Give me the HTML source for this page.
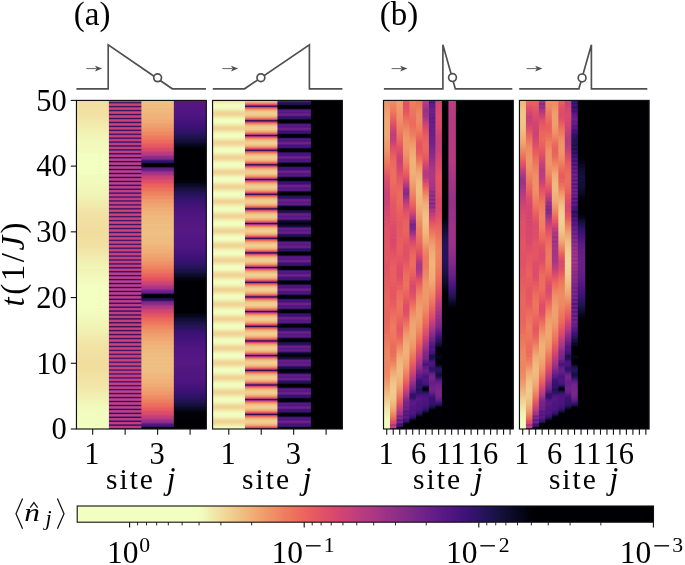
<!DOCTYPE html>
<html><head><meta charset="utf-8"><style>html,body{margin:0;padding:0;background:#fff;}svg{display:block;will-change:transform;}</style></head>
<body><svg width="685" height="565" viewBox="0 0 685 565">
<defs><linearGradient id="g1" x1="0" y1="0" x2="0" y2="1"><stop offset="0.0000" stop-color="#f1dd9f"/><stop offset="0.0479" stop-color="#f1e3a4"/><stop offset="0.1149" stop-color="#f1f7b9"/><stop offset="0.1575" stop-color="#f2fbbd"/><stop offset="0.1621" stop-color="#f2ffc1"/><stop offset="0.2230" stop-color="#f2ffc1"/><stop offset="0.2291" stop-color="#f2fbbd"/><stop offset="0.2823" stop-color="#f1f5b7"/><stop offset="0.3493" stop-color="#f1e1a3"/><stop offset="0.3965" stop-color="#f1dd9e"/><stop offset="0.4422" stop-color="#f1e1a2"/><stop offset="0.5091" stop-color="#f1f5b7"/><stop offset="0.5152" stop-color="#f1f3b5"/><stop offset="0.5685" stop-color="#f2ffc1"/><stop offset="0.6294" stop-color="#f2ffc1"/><stop offset="0.7024" stop-color="#f1f1b2"/><stop offset="0.7435" stop-color="#f1e3a4"/><stop offset="0.8029" stop-color="#f1dd9e"/><stop offset="0.8623" stop-color="#f1e5a6"/><stop offset="0.9399" stop-color="#f1fbbd"/><stop offset="1.0000" stop-color="#f2ffc1"/></linearGradient><linearGradient id="g2" x1="0" y1="0" x2="0" y2="1"><stop offset="0.0000" stop-color="#d04473"/><stop offset="0.0023" stop-color="#cc4276"/><stop offset="0.0038" stop-color="#b63a81"/><stop offset="0.0053" stop-color="#822987"/><stop offset="0.0068" stop-color="#281258"/><stop offset="0.0084" stop-color="#641e83"/><stop offset="0.0099" stop-color="#a73684"/><stop offset="0.0114" stop-color="#c74079"/><stop offset="0.0129" stop-color="#d04473"/><stop offset="0.0145" stop-color="#ca4177"/><stop offset="0.0160" stop-color="#b03982"/><stop offset="0.0175" stop-color="#762486"/><stop offset="0.0190" stop-color="#221150"/><stop offset="0.0205" stop-color="#6b2184"/><stop offset="0.0221" stop-color="#ae3883"/><stop offset="0.0236" stop-color="#c94177"/><stop offset="0.0251" stop-color="#d04473"/><stop offset="0.0266" stop-color="#c84178"/><stop offset="0.0282" stop-color="#ac3783"/><stop offset="0.0297" stop-color="#682083"/><stop offset="0.0312" stop-color="#20114d"/><stop offset="0.0327" stop-color="#782586"/><stop offset="0.0342" stop-color="#b33981"/><stop offset="0.0358" stop-color="#cb4276"/><stop offset="0.0373" stop-color="#d04473"/><stop offset="0.0388" stop-color="#c54079"/><stop offset="0.0403" stop-color="#a53585"/><stop offset="0.0419" stop-color="#581c7b"/><stop offset="0.0434" stop-color="#24104f"/><stop offset="0.0449" stop-color="#822987"/><stop offset="0.0464" stop-color="#b63a81"/><stop offset="0.0479" stop-color="#cb4276"/><stop offset="0.0495" stop-color="#cf4474"/><stop offset="0.0510" stop-color="#c23f7b"/><stop offset="0.0525" stop-color="#9d3286"/><stop offset="0.0540" stop-color="#4e1976"/><stop offset="0.0556" stop-color="#2a1153"/><stop offset="0.0571" stop-color="#8c2c87"/><stop offset="0.0586" stop-color="#ba3c7f"/><stop offset="0.0601" stop-color="#cc4375"/><stop offset="0.0616" stop-color="#cd4375"/><stop offset="0.0632" stop-color="#be3d7d"/><stop offset="0.0647" stop-color="#942f87"/><stop offset="0.0662" stop-color="#3b1465"/><stop offset="0.0677" stop-color="#35135d"/><stop offset="0.0693" stop-color="#942f87"/><stop offset="0.0708" stop-color="#be3d7d"/><stop offset="0.0723" stop-color="#cd4375"/><stop offset="0.0738" stop-color="#cd4375"/><stop offset="0.0753" stop-color="#ba3c7f"/><stop offset="0.0769" stop-color="#892b87"/><stop offset="0.0784" stop-color="#280f4f"/><stop offset="0.0799" stop-color="#431669"/><stop offset="0.0814" stop-color="#993187"/><stop offset="0.0830" stop-color="#bf3d7d"/><stop offset="0.0845" stop-color="#ce4375"/><stop offset="0.0860" stop-color="#ca4277"/><stop offset="0.0875" stop-color="#b53a81"/><stop offset="0.0890" stop-color="#7d2787"/><stop offset="0.0906" stop-color="#170a37"/><stop offset="0.0921" stop-color="#531b76"/><stop offset="0.0936" stop-color="#a13486"/><stop offset="0.0951" stop-color="#c23e7b"/><stop offset="0.0967" stop-color="#ce4375"/><stop offset="0.0982" stop-color="#c84178"/><stop offset="0.0997" stop-color="#af3883"/><stop offset="0.1012" stop-color="#752487"/><stop offset="0.1027" stop-color="#130a2f"/><stop offset="0.1043" stop-color="#631f80"/><stop offset="0.1058" stop-color="#a73685"/><stop offset="0.1073" stop-color="#c53f7a"/><stop offset="0.1088" stop-color="#cd4375"/><stop offset="0.1104" stop-color="#c64079"/><stop offset="0.1119" stop-color="#a73684"/><stop offset="0.1134" stop-color="#651f83"/><stop offset="0.1149" stop-color="#0e0926"/><stop offset="0.1164" stop-color="#6c2185"/><stop offset="0.1180" stop-color="#aa3784"/><stop offset="0.1195" stop-color="#c64079"/><stop offset="0.1210" stop-color="#cd4375"/><stop offset="0.1225" stop-color="#c23f7b"/><stop offset="0.1240" stop-color="#9f3386"/><stop offset="0.1256" stop-color="#511a76"/><stop offset="0.1271" stop-color="#12082b"/><stop offset="0.1286" stop-color="#792587"/><stop offset="0.1301" stop-color="#b03882"/><stop offset="0.1317" stop-color="#c84178"/><stop offset="0.1332" stop-color="#cc4276"/><stop offset="0.1347" stop-color="#be3d7d"/><stop offset="0.1362" stop-color="#9a3187"/><stop offset="0.1377" stop-color="#421564"/><stop offset="0.1393" stop-color="#1e0a3a"/><stop offset="0.1408" stop-color="#842a88"/><stop offset="0.1423" stop-color="#b53a81"/><stop offset="0.1438" stop-color="#c94178"/><stop offset="0.1454" stop-color="#cb4277"/><stop offset="0.1469" stop-color="#ba3c7f"/><stop offset="0.1484" stop-color="#902e87"/><stop offset="0.1499" stop-color="#2e0f4e"/><stop offset="0.1514" stop-color="#2d0f4c"/><stop offset="0.1530" stop-color="#8f2e87"/><stop offset="0.1545" stop-color="#b93b7f"/><stop offset="0.1560" stop-color="#ca4177"/><stop offset="0.1575" stop-color="#c94177"/><stop offset="0.1591" stop-color="#b43a81"/><stop offset="0.1606" stop-color="#842a88"/><stop offset="0.1621" stop-color="#1d0a37"/><stop offset="0.1636" stop-color="#36125a"/><stop offset="0.1651" stop-color="#942f87"/><stop offset="0.1667" stop-color="#bd3d7e"/><stop offset="0.1682" stop-color="#cb4277"/><stop offset="0.1697" stop-color="#c74079"/><stop offset="0.1712" stop-color="#b13982"/><stop offset="0.1728" stop-color="#7b2687"/><stop offset="0.1743" stop-color="#0f0622"/><stop offset="0.1758" stop-color="#4b1871"/><stop offset="0.1773" stop-color="#9d3286"/><stop offset="0.1788" stop-color="#c03e7c"/><stop offset="0.1804" stop-color="#cb4276"/><stop offset="0.1819" stop-color="#c53f7a"/><stop offset="0.1834" stop-color="#ab3784"/><stop offset="0.1849" stop-color="#6c2184"/><stop offset="0.1865" stop-color="#080517"/><stop offset="0.1880" stop-color="#5f1d80"/><stop offset="0.1895" stop-color="#a53585"/><stop offset="0.1910" stop-color="#c33f7b"/><stop offset="0.1925" stop-color="#cb4276"/><stop offset="0.1941" stop-color="#c23e7b"/><stop offset="0.1956" stop-color="#a33485"/><stop offset="0.1971" stop-color="#591c7a"/><stop offset="0.1986" stop-color="#050310"/><stop offset="0.2002" stop-color="#682082"/><stop offset="0.2017" stop-color="#ac3783"/><stop offset="0.2032" stop-color="#c5407a"/><stop offset="0.2047" stop-color="#cb4276"/><stop offset="0.2062" stop-color="#be3d7d"/><stop offset="0.2078" stop-color="#9b3286"/><stop offset="0.2093" stop-color="#441666"/><stop offset="0.2108" stop-color="#0e0623"/><stop offset="0.2123" stop-color="#782587"/><stop offset="0.2139" stop-color="#b23982"/><stop offset="0.2154" stop-color="#c74079"/><stop offset="0.2169" stop-color="#ca4277"/><stop offset="0.2184" stop-color="#bc3d7e"/><stop offset="0.2199" stop-color="#963087"/><stop offset="0.2215" stop-color="#321052"/><stop offset="0.2230" stop-color="#1d0a39"/><stop offset="0.2245" stop-color="#862a87"/><stop offset="0.2260" stop-color="#b63a81"/><stop offset="0.2275" stop-color="#c94178"/><stop offset="0.2291" stop-color="#c94177"/><stop offset="0.2306" stop-color="#b83b80"/><stop offset="0.2321" stop-color="#8c2c87"/><stop offset="0.2336" stop-color="#270d47"/><stop offset="0.2352" stop-color="#2a0e49"/><stop offset="0.2367" stop-color="#912e87"/><stop offset="0.2382" stop-color="#bb3c7f"/><stop offset="0.2397" stop-color="#ca4277"/><stop offset="0.2412" stop-color="#c84178"/><stop offset="0.2428" stop-color="#b43a81"/><stop offset="0.2443" stop-color="#812887"/><stop offset="0.2458" stop-color="#170932"/><stop offset="0.2473" stop-color="#3d1460"/><stop offset="0.2489" stop-color="#9b3286"/><stop offset="0.2504" stop-color="#bf3d7d"/><stop offset="0.2519" stop-color="#cb4276"/><stop offset="0.2534" stop-color="#c74078"/><stop offset="0.2549" stop-color="#b03982"/><stop offset="0.2565" stop-color="#742486"/><stop offset="0.2580" stop-color="#0c061f"/><stop offset="0.2595" stop-color="#531b76"/><stop offset="0.2610" stop-color="#a13486"/><stop offset="0.2626" stop-color="#c13e7b"/><stop offset="0.2641" stop-color="#cc4275"/><stop offset="0.2656" stop-color="#c64079"/><stop offset="0.2671" stop-color="#ab3784"/><stop offset="0.2686" stop-color="#662081"/><stop offset="0.2702" stop-color="#09071c"/><stop offset="0.2717" stop-color="#672082"/><stop offset="0.2732" stop-color="#a93684"/><stop offset="0.2747" stop-color="#c64079"/><stop offset="0.2763" stop-color="#cd4375"/><stop offset="0.2778" stop-color="#c43f7a"/><stop offset="0.2793" stop-color="#a53585"/><stop offset="0.2808" stop-color="#5f1d80"/><stop offset="0.2823" stop-color="#11092c"/><stop offset="0.2839" stop-color="#772586"/><stop offset="0.2854" stop-color="#b03982"/><stop offset="0.2869" stop-color="#c84178"/><stop offset="0.2884" stop-color="#cd4375"/><stop offset="0.2900" stop-color="#c23f7b"/><stop offset="0.2915" stop-color="#9e3386"/><stop offset="0.2930" stop-color="#4e1975"/><stop offset="0.2945" stop-color="#1c0b3b"/><stop offset="0.2960" stop-color="#852a87"/><stop offset="0.2976" stop-color="#b63a80"/><stop offset="0.2991" stop-color="#cb4276"/><stop offset="0.3006" stop-color="#cd4375"/><stop offset="0.3021" stop-color="#bf3e7d"/><stop offset="0.3037" stop-color="#963087"/><stop offset="0.3052" stop-color="#3e1567"/><stop offset="0.3067" stop-color="#2c1050"/><stop offset="0.3082" stop-color="#8c2d88"/><stop offset="0.3097" stop-color="#ba3c7f"/><stop offset="0.3113" stop-color="#cc4375"/><stop offset="0.3128" stop-color="#cd4375"/><stop offset="0.3143" stop-color="#bc3c7e"/><stop offset="0.3158" stop-color="#922f87"/><stop offset="0.3174" stop-color="#37135e"/><stop offset="0.3189" stop-color="#3e1565"/><stop offset="0.3204" stop-color="#963087"/><stop offset="0.3219" stop-color="#be3d7d"/><stop offset="0.3234" stop-color="#ce4374"/><stop offset="0.3250" stop-color="#cc4276"/><stop offset="0.3265" stop-color="#b83b80"/><stop offset="0.3280" stop-color="#892c88"/><stop offset="0.3295" stop-color="#2b1154"/><stop offset="0.3311" stop-color="#511a77"/><stop offset="0.3326" stop-color="#9f3386"/><stop offset="0.3341" stop-color="#c23f7b"/><stop offset="0.3356" stop-color="#cf4474"/><stop offset="0.3371" stop-color="#cb4276"/><stop offset="0.3387" stop-color="#b33a81"/><stop offset="0.3402" stop-color="#7f2887"/><stop offset="0.3417" stop-color="#24104f"/><stop offset="0.3432" stop-color="#5d1c80"/><stop offset="0.3447" stop-color="#a43585"/><stop offset="0.3463" stop-color="#c64079"/><stop offset="0.3478" stop-color="#d04473"/><stop offset="0.3493" stop-color="#ca4177"/><stop offset="0.3508" stop-color="#b13982"/><stop offset="0.3524" stop-color="#792587"/><stop offset="0.3539" stop-color="#22114f"/><stop offset="0.3554" stop-color="#6d2185"/><stop offset="0.3569" stop-color="#ab3783"/><stop offset="0.3584" stop-color="#c94178"/><stop offset="0.3600" stop-color="#d04473"/><stop offset="0.3615" stop-color="#c84178"/><stop offset="0.3630" stop-color="#ac3784"/><stop offset="0.3645" stop-color="#6d2184"/><stop offset="0.3661" stop-color="#251153"/><stop offset="0.3676" stop-color="#7a2687"/><stop offset="0.3691" stop-color="#b23982"/><stop offset="0.3706" stop-color="#cb4276"/><stop offset="0.3721" stop-color="#d04473"/><stop offset="0.3737" stop-color="#c54079"/><stop offset="0.3752" stop-color="#a63585"/><stop offset="0.3767" stop-color="#5f1d80"/><stop offset="0.3782" stop-color="#261154"/><stop offset="0.3798" stop-color="#802887"/><stop offset="0.3813" stop-color="#b73b80"/><stop offset="0.3828" stop-color="#cd4375"/><stop offset="0.3843" stop-color="#d04473"/><stop offset="0.3858" stop-color="#c23f7b"/><stop offset="0.3874" stop-color="#9f3386"/><stop offset="0.3889" stop-color="#511a77"/><stop offset="0.3904" stop-color="#31135f"/><stop offset="0.3919" stop-color="#8b2c87"/><stop offset="0.3935" stop-color="#bc3c7e"/><stop offset="0.3950" stop-color="#ce4374"/><stop offset="0.3965" stop-color="#cf4474"/><stop offset="0.3980" stop-color="#c13e7c"/><stop offset="0.3995" stop-color="#9a3186"/><stop offset="0.4011" stop-color="#42176c"/><stop offset="0.4026" stop-color="#3e166b"/><stop offset="0.4041" stop-color="#942f87"/><stop offset="0.4056" stop-color="#be3d7d"/><stop offset="0.4072" stop-color="#cf4474"/><stop offset="0.4087" stop-color="#ce4374"/><stop offset="0.4102" stop-color="#bd3d7e"/><stop offset="0.4117" stop-color="#912e87"/><stop offset="0.4132" stop-color="#341460"/><stop offset="0.4148" stop-color="#4d1977"/><stop offset="0.4163" stop-color="#9c3286"/><stop offset="0.4178" stop-color="#c23e7b"/><stop offset="0.4193" stop-color="#cf4474"/><stop offset="0.4209" stop-color="#cc4375"/><stop offset="0.4224" stop-color="#b83b80"/><stop offset="0.4239" stop-color="#872a87"/><stop offset="0.4254" stop-color="#2b1258"/><stop offset="0.4269" stop-color="#551b79"/><stop offset="0.4285" stop-color="#a43485"/><stop offset="0.4300" stop-color="#c5407a"/><stop offset="0.4315" stop-color="#d04473"/><stop offset="0.4330" stop-color="#cc4276"/><stop offset="0.4346" stop-color="#b53a81"/><stop offset="0.4361" stop-color="#7b2687"/><stop offset="0.4376" stop-color="#21114d"/><stop offset="0.4391" stop-color="#631e81"/><stop offset="0.4406" stop-color="#aa3784"/><stop offset="0.4422" stop-color="#c84178"/><stop offset="0.4437" stop-color="#d04473"/><stop offset="0.4452" stop-color="#c94177"/><stop offset="0.4467" stop-color="#af3883"/><stop offset="0.4482" stop-color="#6e2185"/><stop offset="0.4498" stop-color="#1c1046"/><stop offset="0.4513" stop-color="#702285"/><stop offset="0.4528" stop-color="#ad3883"/><stop offset="0.4543" stop-color="#c84178"/><stop offset="0.4559" stop-color="#cf4474"/><stop offset="0.4574" stop-color="#c64079"/><stop offset="0.4589" stop-color="#a83684"/><stop offset="0.4604" stop-color="#661f83"/><stop offset="0.4619" stop-color="#1e0f47"/><stop offset="0.4635" stop-color="#7c2687"/><stop offset="0.4650" stop-color="#b33982"/><stop offset="0.4665" stop-color="#ca4277"/><stop offset="0.4680" stop-color="#cf4474"/><stop offset="0.4696" stop-color="#c43f7a"/><stop offset="0.4711" stop-color="#a03386"/><stop offset="0.4726" stop-color="#531a7a"/><stop offset="0.4741" stop-color="#220e48"/><stop offset="0.4756" stop-color="#862a87"/><stop offset="0.4772" stop-color="#b73b80"/><stop offset="0.4787" stop-color="#cb4276"/><stop offset="0.4802" stop-color="#ce4375"/><stop offset="0.4817" stop-color="#c03e7c"/><stop offset="0.4833" stop-color="#973087"/><stop offset="0.4848" stop-color="#3f1568"/><stop offset="0.4863" stop-color="#2b0f50"/><stop offset="0.4878" stop-color="#8c2c88"/><stop offset="0.4893" stop-color="#b93b7f"/><stop offset="0.4909" stop-color="#cc4276"/><stop offset="0.4924" stop-color="#cd4375"/><stop offset="0.4939" stop-color="#bc3c7e"/><stop offset="0.4954" stop-color="#912e87"/><stop offset="0.4970" stop-color="#321156"/><stop offset="0.4985" stop-color="#39135d"/><stop offset="0.5000" stop-color="#942f87"/><stop offset="0.5015" stop-color="#bd3d7e"/><stop offset="0.5030" stop-color="#cd4375"/><stop offset="0.5046" stop-color="#ca4277"/><stop offset="0.5061" stop-color="#b63a80"/><stop offset="0.5076" stop-color="#862a88"/><stop offset="0.5091" stop-color="#210c3e"/><stop offset="0.5107" stop-color="#49186d"/><stop offset="0.5122" stop-color="#9c3286"/><stop offset="0.5137" stop-color="#c03e7c"/><stop offset="0.5152" stop-color="#cd4375"/><stop offset="0.5167" stop-color="#c94178"/><stop offset="0.5183" stop-color="#b03882"/><stop offset="0.5198" stop-color="#792587"/><stop offset="0.5213" stop-color="#13082c"/><stop offset="0.5228" stop-color="#531b79"/><stop offset="0.5244" stop-color="#a03386"/><stop offset="0.5259" stop-color="#c33f7b"/><stop offset="0.5274" stop-color="#cd4375"/><stop offset="0.5289" stop-color="#c64079"/><stop offset="0.5304" stop-color="#a93684"/><stop offset="0.5320" stop-color="#692084"/><stop offset="0.5335" stop-color="#0c0720"/><stop offset="0.5350" stop-color="#641f82"/><stop offset="0.5365" stop-color="#a73685"/><stop offset="0.5381" stop-color="#c5407a"/><stop offset="0.5396" stop-color="#cc4276"/><stop offset="0.5411" stop-color="#c33f7b"/><stop offset="0.5426" stop-color="#a43585"/><stop offset="0.5441" stop-color="#5c1d7c"/><stop offset="0.5457" stop-color="#0e0722"/><stop offset="0.5472" stop-color="#732386"/><stop offset="0.5487" stop-color="#ad3883"/><stop offset="0.5502" stop-color="#c64079"/><stop offset="0.5518" stop-color="#cb4276"/><stop offset="0.5533" stop-color="#bf3d7d"/><stop offset="0.5548" stop-color="#9c3286"/><stop offset="0.5563" stop-color="#461768"/><stop offset="0.5578" stop-color="#100725"/><stop offset="0.5594" stop-color="#7a2687"/><stop offset="0.5609" stop-color="#b33982"/><stop offset="0.5624" stop-color="#c84178"/><stop offset="0.5639" stop-color="#cb4277"/><stop offset="0.5654" stop-color="#bb3c7f"/><stop offset="0.5670" stop-color="#922f87"/><stop offset="0.5685" stop-color="#321052"/><stop offset="0.5700" stop-color="#1e0b3a"/><stop offset="0.5715" stop-color="#862a87"/><stop offset="0.5731" stop-color="#b73b80"/><stop offset="0.5746" stop-color="#c94177"/><stop offset="0.5761" stop-color="#c94177"/><stop offset="0.5776" stop-color="#b83b80"/><stop offset="0.5791" stop-color="#8b2c87"/><stop offset="0.5807" stop-color="#200b3c"/><stop offset="0.5822" stop-color="#2f1051"/><stop offset="0.5837" stop-color="#902e87"/><stop offset="0.5852" stop-color="#ba3c7f"/><stop offset="0.5868" stop-color="#ca4177"/><stop offset="0.5883" stop-color="#c74078"/><stop offset="0.5898" stop-color="#b33982"/><stop offset="0.5913" stop-color="#7e2787"/><stop offset="0.5928" stop-color="#120727"/><stop offset="0.5944" stop-color="#431669"/><stop offset="0.5959" stop-color="#9a3186"/><stop offset="0.5974" stop-color="#be3d7d"/><stop offset="0.5989" stop-color="#cb4277"/><stop offset="0.6005" stop-color="#c5407a"/><stop offset="0.6020" stop-color="#ac3784"/><stop offset="0.6035" stop-color="#702285"/><stop offset="0.6050" stop-color="#080517"/><stop offset="0.6065" stop-color="#501a72"/><stop offset="0.6081" stop-color="#a33485"/><stop offset="0.6096" stop-color="#c23e7b"/><stop offset="0.6111" stop-color="#cb4276"/><stop offset="0.6126" stop-color="#c43f7a"/><stop offset="0.6142" stop-color="#a83684"/><stop offset="0.6157" stop-color="#5f1e7e"/><stop offset="0.6172" stop-color="#040310"/><stop offset="0.6187" stop-color="#641f80"/><stop offset="0.6202" stop-color="#aa3784"/><stop offset="0.6218" stop-color="#c53f7a"/><stop offset="0.6233" stop-color="#cb4276"/><stop offset="0.6248" stop-color="#c13e7c"/><stop offset="0.6263" stop-color="#a13486"/><stop offset="0.6279" stop-color="#4b186e"/><stop offset="0.6294" stop-color="#0c061e"/><stop offset="0.6309" stop-color="#752486"/><stop offset="0.6324" stop-color="#af3883"/><stop offset="0.6339" stop-color="#c64079"/><stop offset="0.6355" stop-color="#cb4276"/><stop offset="0.6370" stop-color="#be3d7d"/><stop offset="0.6385" stop-color="#993187"/><stop offset="0.6400" stop-color="#411567"/><stop offset="0.6416" stop-color="#17082f"/><stop offset="0.6431" stop-color="#832987"/><stop offset="0.6446" stop-color="#b53a81"/><stop offset="0.6461" stop-color="#c94178"/><stop offset="0.6476" stop-color="#ca4277"/><stop offset="0.6492" stop-color="#ba3c7f"/><stop offset="0.6507" stop-color="#902e87"/><stop offset="0.6522" stop-color="#2e1051"/><stop offset="0.6537" stop-color="#270d45"/><stop offset="0.6553" stop-color="#8f2d87"/><stop offset="0.6568" stop-color="#ba3c7f"/><stop offset="0.6583" stop-color="#ca4277"/><stop offset="0.6598" stop-color="#ca4177"/><stop offset="0.6613" stop-color="#b83b80"/><stop offset="0.6629" stop-color="#862a87"/><stop offset="0.6644" stop-color="#1e0b3c"/><stop offset="0.6659" stop-color="#3a135c"/><stop offset="0.6674" stop-color="#963087"/><stop offset="0.6689" stop-color="#bd3d7e"/><stop offset="0.6705" stop-color="#cc4276"/><stop offset="0.6720" stop-color="#c94178"/><stop offset="0.6735" stop-color="#b33a81"/><stop offset="0.6750" stop-color="#812888"/><stop offset="0.6766" stop-color="#1a0a35"/><stop offset="0.6781" stop-color="#4f1a72"/><stop offset="0.6796" stop-color="#a03386"/><stop offset="0.6811" stop-color="#c13e7c"/><stop offset="0.6826" stop-color="#cd4375"/><stop offset="0.6842" stop-color="#c74078"/><stop offset="0.6857" stop-color="#ae3883"/><stop offset="0.6872" stop-color="#752487"/><stop offset="0.6887" stop-color="#130a2f"/><stop offset="0.6903" stop-color="#631f80"/><stop offset="0.6918" stop-color="#a83684"/><stop offset="0.6933" stop-color="#c53f7a"/><stop offset="0.6948" stop-color="#ce4375"/><stop offset="0.6963" stop-color="#c74079"/><stop offset="0.6979" stop-color="#a83684"/><stop offset="0.6994" stop-color="#671f84"/><stop offset="0.7009" stop-color="#140b34"/><stop offset="0.7024" stop-color="#6e2286"/><stop offset="0.7040" stop-color="#ac3783"/><stop offset="0.7055" stop-color="#c84178"/><stop offset="0.7070" stop-color="#cf4474"/><stop offset="0.7085" stop-color="#c53f7a"/><stop offset="0.7100" stop-color="#a23485"/><stop offset="0.7116" stop-color="#591c7d"/><stop offset="0.7131" stop-color="#1c0d40"/><stop offset="0.7146" stop-color="#7d2787"/><stop offset="0.7161" stop-color="#b33981"/><stop offset="0.7177" stop-color="#cb4277"/><stop offset="0.7192" stop-color="#ce4374"/><stop offset="0.7207" stop-color="#c23e7b"/><stop offset="0.7222" stop-color="#9f3386"/><stop offset="0.7237" stop-color="#4f1a75"/><stop offset="0.7253" stop-color="#2a1051"/><stop offset="0.7268" stop-color="#892b88"/><stop offset="0.7283" stop-color="#b83b80"/><stop offset="0.7298" stop-color="#cc4276"/><stop offset="0.7314" stop-color="#ce4374"/><stop offset="0.7329" stop-color="#bf3d7d"/><stop offset="0.7344" stop-color="#973087"/><stop offset="0.7359" stop-color="#411669"/><stop offset="0.7374" stop-color="#3a1462"/><stop offset="0.7390" stop-color="#942f87"/><stop offset="0.7405" stop-color="#bd3d7e"/><stop offset="0.7420" stop-color="#ce4374"/><stop offset="0.7435" stop-color="#cd4375"/><stop offset="0.7451" stop-color="#bb3c7e"/><stop offset="0.7466" stop-color="#8f2e87"/><stop offset="0.7481" stop-color="#34135e"/><stop offset="0.7496" stop-color="#451770"/><stop offset="0.7511" stop-color="#993186"/><stop offset="0.7527" stop-color="#c13e7b"/><stop offset="0.7542" stop-color="#cf4474"/><stop offset="0.7557" stop-color="#cd4375"/><stop offset="0.7572" stop-color="#b93b7f"/><stop offset="0.7588" stop-color="#892b87"/><stop offset="0.7603" stop-color="#2b1257"/><stop offset="0.7618" stop-color="#571b7d"/><stop offset="0.7633" stop-color="#a13485"/><stop offset="0.7648" stop-color="#c5407a"/><stop offset="0.7664" stop-color="#d04473"/><stop offset="0.7679" stop-color="#cb4276"/><stop offset="0.7694" stop-color="#b53a81"/><stop offset="0.7709" stop-color="#7f2887"/><stop offset="0.7725" stop-color="#261255"/><stop offset="0.7740" stop-color="#671f84"/><stop offset="0.7755" stop-color="#a93684"/><stop offset="0.7770" stop-color="#c74079"/><stop offset="0.7785" stop-color="#d04473"/><stop offset="0.7801" stop-color="#ca4177"/><stop offset="0.7816" stop-color="#af3883"/><stop offset="0.7831" stop-color="#742386"/><stop offset="0.7846" stop-color="#211150"/><stop offset="0.7861" stop-color="#6e2185"/><stop offset="0.7877" stop-color="#af3882"/><stop offset="0.7892" stop-color="#ca4177"/><stop offset="0.7907" stop-color="#d14573"/><stop offset="0.7922" stop-color="#c94178"/><stop offset="0.7938" stop-color="#ac3783"/><stop offset="0.7953" stop-color="#671f83"/><stop offset="0.7968" stop-color="#241253"/><stop offset="0.7983" stop-color="#7b2687"/><stop offset="0.7998" stop-color="#b53a81"/><stop offset="0.8014" stop-color="#cc4276"/><stop offset="0.8029" stop-color="#d04473"/><stop offset="0.8044" stop-color="#c54079"/><stop offset="0.8059" stop-color="#a53585"/><stop offset="0.8075" stop-color="#581c7c"/><stop offset="0.8090" stop-color="#2b125a"/><stop offset="0.8105" stop-color="#852a87"/><stop offset="0.8120" stop-color="#b73b80"/><stop offset="0.8135" stop-color="#cc4375"/><stop offset="0.8151" stop-color="#cf4474"/><stop offset="0.8166" stop-color="#c33f7b"/><stop offset="0.8181" stop-color="#9d3286"/><stop offset="0.8196" stop-color="#501979"/><stop offset="0.8212" stop-color="#33135f"/><stop offset="0.8227" stop-color="#8f2e87"/><stop offset="0.8242" stop-color="#bc3c7e"/><stop offset="0.8257" stop-color="#ce4375"/><stop offset="0.8272" stop-color="#cf4474"/><stop offset="0.8288" stop-color="#bf3d7d"/><stop offset="0.8303" stop-color="#953087"/><stop offset="0.8318" stop-color="#3f166b"/><stop offset="0.8333" stop-color="#3e1668"/><stop offset="0.8349" stop-color="#973087"/><stop offset="0.8364" stop-color="#c03e7c"/><stop offset="0.8379" stop-color="#cf4474"/><stop offset="0.8394" stop-color="#ce4375"/><stop offset="0.8409" stop-color="#bc3c7e"/><stop offset="0.8425" stop-color="#8b2c87"/><stop offset="0.8440" stop-color="#2f125b"/><stop offset="0.8455" stop-color="#4b1972"/><stop offset="0.8470" stop-color="#9c3286"/><stop offset="0.8486" stop-color="#c13e7c"/><stop offset="0.8501" stop-color="#cf4474"/><stop offset="0.8516" stop-color="#cc4276"/><stop offset="0.8531" stop-color="#b73b80"/><stop offset="0.8546" stop-color="#802887"/><stop offset="0.8562" stop-color="#22104b"/><stop offset="0.8577" stop-color="#5a1c7c"/><stop offset="0.8592" stop-color="#a33485"/><stop offset="0.8607" stop-color="#c43f7a"/><stop offset="0.8623" stop-color="#cf4474"/><stop offset="0.8638" stop-color="#ca4177"/><stop offset="0.8653" stop-color="#b13982"/><stop offset="0.8668" stop-color="#792587"/><stop offset="0.8683" stop-color="#1e0f47"/><stop offset="0.8699" stop-color="#672083"/><stop offset="0.8714" stop-color="#aa3684"/><stop offset="0.8729" stop-color="#c64079"/><stop offset="0.8744" stop-color="#cf4474"/><stop offset="0.8760" stop-color="#c84078"/><stop offset="0.8775" stop-color="#aa3784"/><stop offset="0.8790" stop-color="#6a2085"/><stop offset="0.8805" stop-color="#190e3e"/><stop offset="0.8820" stop-color="#752486"/><stop offset="0.8836" stop-color="#af3883"/><stop offset="0.8851" stop-color="#c84178"/><stop offset="0.8866" stop-color="#cf4474"/><stop offset="0.8881" stop-color="#c53f7a"/><stop offset="0.8896" stop-color="#a23485"/><stop offset="0.8912" stop-color="#581c7d"/><stop offset="0.8927" stop-color="#190c3b"/><stop offset="0.8942" stop-color="#7b2687"/><stop offset="0.8957" stop-color="#b23982"/><stop offset="0.8973" stop-color="#c94177"/><stop offset="0.8988" stop-color="#cd4375"/><stop offset="0.9003" stop-color="#c13e7c"/><stop offset="0.9018" stop-color="#9e3386"/><stop offset="0.9033" stop-color="#4b196f"/><stop offset="0.9049" stop-color="#220c41"/><stop offset="0.9064" stop-color="#862a88"/><stop offset="0.9079" stop-color="#b63a80"/><stop offset="0.9094" stop-color="#ca4277"/><stop offset="0.9110" stop-color="#cc4276"/><stop offset="0.9125" stop-color="#bc3c7e"/><stop offset="0.9140" stop-color="#942f87"/><stop offset="0.9155" stop-color="#361259"/><stop offset="0.9170" stop-color="#2f1050"/><stop offset="0.9186" stop-color="#902e87"/><stop offset="0.9201" stop-color="#ba3c7f"/><stop offset="0.9216" stop-color="#cb4276"/><stop offset="0.9231" stop-color="#cb4277"/><stop offset="0.9247" stop-color="#b73b80"/><stop offset="0.9262" stop-color="#892b88"/><stop offset="0.9277" stop-color="#240c42"/><stop offset="0.9292" stop-color="#37125c"/><stop offset="0.9307" stop-color="#942f87"/><stop offset="0.9323" stop-color="#be3d7d"/><stop offset="0.9338" stop-color="#cc4276"/><stop offset="0.9353" stop-color="#c94178"/><stop offset="0.9368" stop-color="#b43a81"/><stop offset="0.9384" stop-color="#802887"/><stop offset="0.9399" stop-color="#14082c"/><stop offset="0.9414" stop-color="#4a1870"/><stop offset="0.9429" stop-color="#9c3286"/><stop offset="0.9444" stop-color="#c13e7c"/><stop offset="0.9460" stop-color="#cc4276"/><stop offset="0.9475" stop-color="#c64079"/><stop offset="0.9490" stop-color="#ad3883"/><stop offset="0.9505" stop-color="#722385"/><stop offset="0.9521" stop-color="#0a061d"/><stop offset="0.9536" stop-color="#5d1d7e"/><stop offset="0.9551" stop-color="#a43485"/><stop offset="0.9566" stop-color="#c33f7b"/><stop offset="0.9581" stop-color="#cb4276"/><stop offset="0.9597" stop-color="#c33f7b"/><stop offset="0.9612" stop-color="#a63585"/><stop offset="0.9627" stop-color="#601e7e"/><stop offset="0.9642" stop-color="#050411"/><stop offset="0.9658" stop-color="#651f81"/><stop offset="0.9673" stop-color="#ab3784"/><stop offset="0.9688" stop-color="#c5407a"/><stop offset="0.9703" stop-color="#cb4276"/><stop offset="0.9718" stop-color="#bf3d7d"/><stop offset="0.9734" stop-color="#9e3386"/><stop offset="0.9749" stop-color="#4a186c"/><stop offset="0.9764" stop-color="#0b061e"/><stop offset="0.9779" stop-color="#752486"/><stop offset="0.9795" stop-color="#b03982"/><stop offset="0.9810" stop-color="#c74079"/><stop offset="0.9825" stop-color="#cb4277"/><stop offset="0.9840" stop-color="#be3d7e"/><stop offset="0.9855" stop-color="#983187"/><stop offset="0.9871" stop-color="#361256"/><stop offset="0.9886" stop-color="#190933"/><stop offset="0.9901" stop-color="#822987"/><stop offset="0.9916" stop-color="#b43a81"/><stop offset="0.9932" stop-color="#c84178"/><stop offset="0.9947" stop-color="#c94177"/><stop offset="0.9962" stop-color="#b93b7f"/><stop offset="0.9977" stop-color="#8e2d87"/><stop offset="0.9992" stop-color="#240c41"/><stop offset="1.0000" stop-color="#240c41"/></linearGradient><linearGradient id="g3" x1="0" y1="0" x2="0" y2="1"><stop offset="0.0000" stop-color="#efbc80"/><stop offset="0.0084" stop-color="#efc083"/><stop offset="0.0129" stop-color="#efbc80"/><stop offset="0.0205" stop-color="#efbe81"/><stop offset="0.0266" stop-color="#efb87d"/><stop offset="0.0312" stop-color="#efbc80"/><stop offset="0.0388" stop-color="#efb47b"/><stop offset="0.0556" stop-color="#f0b179"/><stop offset="0.0616" stop-color="#f0a973"/><stop offset="0.0677" stop-color="#f0aa74"/><stop offset="0.0738" stop-color="#efa06e"/><stop offset="0.0814" stop-color="#ef9f6e"/><stop offset="0.0860" stop-color="#ef9669"/><stop offset="0.0921" stop-color="#ef9669"/><stop offset="0.0982" stop-color="#ee8963"/><stop offset="0.1043" stop-color="#ee8863"/><stop offset="0.1119" stop-color="#ed7a5e"/><stop offset="0.1164" stop-color="#ed795e"/><stop offset="0.1225" stop-color="#ec6b5d"/><stop offset="0.1286" stop-color="#eb695d"/><stop offset="0.1347" stop-color="#e65961"/><stop offset="0.1408" stop-color="#e55762"/><stop offset="0.1469" stop-color="#d8496e"/><stop offset="0.1530" stop-color="#d44671"/><stop offset="0.1591" stop-color="#bb3c7f"/><stop offset="0.1651" stop-color="#b53a82"/><stop offset="0.1667" stop-color="#ae3884"/><stop offset="0.1712" stop-color="#8d2d88"/><stop offset="0.1773" stop-color="#832988"/><stop offset="0.1804" stop-color="#671f86"/><stop offset="0.1819" stop-color="#511681"/><stop offset="0.1834" stop-color="#3c1274"/><stop offset="0.1849" stop-color="#2f1367"/><stop offset="0.1880" stop-color="#2a1361"/><stop offset="0.1895" stop-color="#211351"/><stop offset="0.1910" stop-color="#110d31"/><stop offset="0.1925" stop-color="#02020a"/><stop offset="0.1941" stop-color="#000004"/><stop offset="0.2002" stop-color="#000004"/><stop offset="0.2017" stop-color="#03030e"/><stop offset="0.2032" stop-color="#1b1145"/><stop offset="0.2047" stop-color="#3c1274"/><stop offset="0.2062" stop-color="#551782"/><stop offset="0.2078" stop-color="#621c86"/><stop offset="0.2123" stop-color="#692087"/><stop offset="0.2139" stop-color="#712388"/><stop offset="0.2184" stop-color="#993187"/><stop offset="0.2199" stop-color="#a03386"/><stop offset="0.2260" stop-color="#a93685"/><stop offset="0.2321" stop-color="#c84178"/><stop offset="0.2382" stop-color="#cd4375"/><stop offset="0.2443" stop-color="#df4f68"/><stop offset="0.2504" stop-color="#e15266"/><stop offset="0.2565" stop-color="#e9615e"/><stop offset="0.2626" stop-color="#ea635e"/><stop offset="0.2686" stop-color="#ed725d"/><stop offset="0.2732" stop-color="#ed725d"/><stop offset="0.2808" stop-color="#ee8160"/><stop offset="0.2869" stop-color="#ee8361"/><stop offset="0.2930" stop-color="#ef9066"/><stop offset="0.2991" stop-color="#ef9166"/><stop offset="0.3052" stop-color="#ef9c6c"/><stop offset="0.3113" stop-color="#ef9c6c"/><stop offset="0.3174" stop-color="#f0a672"/><stop offset="0.3219" stop-color="#efa470"/><stop offset="0.3295" stop-color="#f0ae76"/><stop offset="0.3341" stop-color="#f0ac75"/><stop offset="0.3402" stop-color="#f0b37a"/><stop offset="0.3463" stop-color="#f0b279"/><stop offset="0.3539" stop-color="#efba7f"/><stop offset="0.3600" stop-color="#efb87d"/><stop offset="0.3661" stop-color="#efbd81"/><stop offset="0.3721" stop-color="#efba7e"/><stop offset="0.3782" stop-color="#efbf83"/><stop offset="0.3843" stop-color="#efbc80"/><stop offset="0.4026" stop-color="#efc083"/><stop offset="0.4391" stop-color="#efb97e"/><stop offset="0.4452" stop-color="#f0b279"/><stop offset="0.4513" stop-color="#efb47a"/><stop offset="0.4574" stop-color="#f0ad76"/><stop offset="0.4635" stop-color="#f0ae76"/><stop offset="0.4680" stop-color="#f0a672"/><stop offset="0.4756" stop-color="#f0a571"/><stop offset="0.4817" stop-color="#ef9c6c"/><stop offset="0.4863" stop-color="#ef9d6d"/><stop offset="0.4939" stop-color="#ef9166"/><stop offset="0.4985" stop-color="#ef9267"/><stop offset="0.5046" stop-color="#ee8561"/><stop offset="0.5107" stop-color="#ee8361"/><stop offset="0.5167" stop-color="#ed765e"/><stop offset="0.5228" stop-color="#ed745d"/><stop offset="0.5304" stop-color="#ea645e"/><stop offset="0.5365" stop-color="#e9605e"/><stop offset="0.5411" stop-color="#e35464"/><stop offset="0.5472" stop-color="#e15166"/><stop offset="0.5548" stop-color="#cd4375"/><stop offset="0.5594" stop-color="#cb4276"/><stop offset="0.5670" stop-color="#aa3685"/><stop offset="0.5715" stop-color="#a63585"/><stop offset="0.5746" stop-color="#953088"/><stop offset="0.5776" stop-color="#792688"/><stop offset="0.5791" stop-color="#722388"/><stop offset="0.5837" stop-color="#6b2087"/><stop offset="0.5852" stop-color="#601c85"/><stop offset="0.5868" stop-color="#4e157f"/><stop offset="0.5883" stop-color="#2e1363"/><stop offset="0.5898" stop-color="#0f0c2e"/><stop offset="0.5913" stop-color="#010108"/><stop offset="0.5928" stop-color="#000004"/><stop offset="0.5989" stop-color="#000004"/><stop offset="0.6005" stop-color="#040413"/><stop offset="0.6020" stop-color="#110e33"/><stop offset="0.6035" stop-color="#1b1246"/><stop offset="0.6065" stop-color="#1f134e"/><stop offset="0.6081" stop-color="#2b1361"/><stop offset="0.6096" stop-color="#43137a"/><stop offset="0.6111" stop-color="#5c1a84"/><stop offset="0.6126" stop-color="#6e2287"/><stop offset="0.6142" stop-color="#7a2688"/><stop offset="0.6157" stop-color="#802988"/><stop offset="0.6202" stop-color="#872b88"/><stop offset="0.6263" stop-color="#b03883"/><stop offset="0.6324" stop-color="#b73b81"/><stop offset="0.6385" stop-color="#d14573"/><stop offset="0.6446" stop-color="#d54770"/><stop offset="0.6522" stop-color="#e45663"/><stop offset="0.6568" stop-color="#e55762"/><stop offset="0.6629" stop-color="#eb675d"/><stop offset="0.6689" stop-color="#eb695d"/><stop offset="0.6750" stop-color="#ed775e"/><stop offset="0.6811" stop-color="#ed795e"/><stop offset="0.6872" stop-color="#ee8762"/><stop offset="0.6933" stop-color="#ee8863"/><stop offset="0.6994" stop-color="#ef9468"/><stop offset="0.7055" stop-color="#ef9568"/><stop offset="0.7116" stop-color="#efa06e"/><stop offset="0.7161" stop-color="#ef9e6d"/><stop offset="0.7237" stop-color="#f0a873"/><stop offset="0.7298" stop-color="#f0a873"/><stop offset="0.7344" stop-color="#f0af77"/><stop offset="0.7420" stop-color="#f0af77"/><stop offset="0.7481" stop-color="#efb67c"/><stop offset="0.7542" stop-color="#efb47a"/><stop offset="0.7588" stop-color="#efb97e"/><stop offset="0.7664" stop-color="#efb87d"/><stop offset="0.7709" stop-color="#efbd81"/><stop offset="0.7801" stop-color="#efbc80"/><stop offset="0.7846" stop-color="#efc083"/><stop offset="0.7907" stop-color="#efbc80"/><stop offset="0.7953" stop-color="#efc083"/><stop offset="0.8029" stop-color="#efbc80"/><stop offset="0.8075" stop-color="#efc083"/><stop offset="0.8151" stop-color="#efbc80"/><stop offset="0.8212" stop-color="#efbf82"/><stop offset="0.8394" stop-color="#efb67c"/><stop offset="0.8455" stop-color="#efb87d"/><stop offset="0.8516" stop-color="#f0b178"/><stop offset="0.8577" stop-color="#f0b279"/><stop offset="0.8638" stop-color="#f0aa74"/><stop offset="0.8699" stop-color="#f0ab75"/><stop offset="0.8760" stop-color="#efa26f"/><stop offset="0.8820" stop-color="#efa370"/><stop offset="0.8881" stop-color="#ef986a"/><stop offset="0.8927" stop-color="#ef9a6b"/><stop offset="0.9003" stop-color="#ef8c64"/><stop offset="0.9064" stop-color="#ee8b64"/><stop offset="0.9125" stop-color="#ed7e5f"/><stop offset="0.9186" stop-color="#ed7c5f"/><stop offset="0.9247" stop-color="#ec6f5d"/><stop offset="0.9307" stop-color="#ec6c5d"/><stop offset="0.9368" stop-color="#e85d5f"/><stop offset="0.9414" stop-color="#e75c60"/><stop offset="0.9475" stop-color="#de4e68"/><stop offset="0.9536" stop-color="#db4b6b"/><stop offset="0.9612" stop-color="#c33f7b"/><stop offset="0.9658" stop-color="#c03e7c"/><stop offset="0.9688" stop-color="#b53a82"/><stop offset="0.9734" stop-color="#993187"/><stop offset="0.9779" stop-color="#953088"/><stop offset="0.9795" stop-color="#8f2e88"/><stop offset="0.9810" stop-color="#832a88"/><stop offset="0.9855" stop-color="#551782"/><stop offset="0.9901" stop-color="#4b147f"/><stop offset="0.9916" stop-color="#401278"/><stop offset="0.9932" stop-color="#28135c"/><stop offset="0.9947" stop-color="#0a0821"/><stop offset="0.9962" stop-color="#000004"/><stop offset="1.0000" stop-color="#000004"/></linearGradient><linearGradient id="g4" x1="0" y1="0" x2="0" y2="1"><stop offset="0.0000" stop-color="#561883"/><stop offset="0.0403" stop-color="#501581"/><stop offset="0.0662" stop-color="#44127b"/><stop offset="0.0890" stop-color="#35126f"/><stop offset="0.1027" stop-color="#2a1360"/><stop offset="0.1088" stop-color="#211351"/><stop offset="0.1149" stop-color="#1e134c"/><stop offset="0.1210" stop-color="#15103b"/><stop offset="0.1271" stop-color="#120e35"/><stop offset="0.1332" stop-color="#090821"/><stop offset="0.1393" stop-color="#06061a"/><stop offset="0.1454" stop-color="#010005"/><stop offset="0.1469" stop-color="#000004"/><stop offset="0.2412" stop-color="#000004"/><stop offset="0.2458" stop-color="#02020d"/><stop offset="0.2504" stop-color="#03030f"/><stop offset="0.2565" stop-color="#0b0a27"/><stop offset="0.2626" stop-color="#0e0b2b"/><stop offset="0.2686" stop-color="#181140"/><stop offset="0.2747" stop-color="#1a1144"/><stop offset="0.2823" stop-color="#251358"/><stop offset="0.2869" stop-color="#251359"/><stop offset="0.2945" stop-color="#301369"/><stop offset="0.2991" stop-color="#301369"/><stop offset="0.3067" stop-color="#3a1273"/><stop offset="0.3447" stop-color="#4e1580"/><stop offset="0.3935" stop-color="#561883"/><stop offset="0.4467" stop-color="#4e1580"/><stop offset="0.4863" stop-color="#391273"/><stop offset="0.4970" stop-color="#31136a"/><stop offset="0.5046" stop-color="#27135c"/><stop offset="0.5091" stop-color="#26135a"/><stop offset="0.5167" stop-color="#1b1247"/><stop offset="0.5213" stop-color="#1a1245"/><stop offset="0.5274" stop-color="#110e32"/><stop offset="0.5350" stop-color="#0d0b29"/><stop offset="0.5411" stop-color="#040413"/><stop offset="0.5457" stop-color="#030311"/><stop offset="0.5502" stop-color="#000004"/><stop offset="0.6461" stop-color="#000004"/><stop offset="0.6522" stop-color="#050518"/><stop offset="0.6583" stop-color="#07071d"/><stop offset="0.6629" stop-color="#0f0d2f"/><stop offset="0.6705" stop-color="#130f37"/><stop offset="0.6766" stop-color="#1d124a"/><stop offset="0.6811" stop-color="#1e134c"/><stop offset="0.6887" stop-color="#29135e"/><stop offset="0.6948" stop-color="#2a1361"/><stop offset="0.7009" stop-color="#34126d"/><stop offset="0.7253" stop-color="#44127b"/><stop offset="0.7527" stop-color="#501581"/><stop offset="0.7998" stop-color="#561883"/><stop offset="0.8546" stop-color="#4d147f"/><stop offset="0.8896" stop-color="#391272"/><stop offset="0.9049" stop-color="#2c1363"/><stop offset="0.9110" stop-color="#231355"/><stop offset="0.9170" stop-color="#201351"/><stop offset="0.9247" stop-color="#16103d"/><stop offset="0.9292" stop-color="#15103b"/><stop offset="0.9353" stop-color="#0b0a26"/><stop offset="0.9414" stop-color="#090821"/><stop offset="0.9490" stop-color="#010106"/><stop offset="1.0000" stop-color="#000004"/></linearGradient><linearGradient id="g5" x1="0" y1="0" x2="0" y2="1"><stop offset="0.0000" stop-color="#f1da9c"/><stop offset="0.0114" stop-color="#f1fabc"/><stop offset="0.0190" stop-color="#f2ffc1"/><stop offset="0.0251" stop-color="#f1f7b9"/><stop offset="0.0358" stop-color="#f0d798"/><stop offset="0.0403" stop-color="#f0d193"/><stop offset="0.0449" stop-color="#f0d99a"/><stop offset="0.0571" stop-color="#f1fcbe"/><stop offset="0.0647" stop-color="#f2ffc1"/><stop offset="0.0708" stop-color="#f1f4b6"/><stop offset="0.0814" stop-color="#f0d596"/><stop offset="0.0845" stop-color="#f0d193"/><stop offset="0.0890" stop-color="#f0d899"/><stop offset="0.1012" stop-color="#f1fabc"/><stop offset="0.1088" stop-color="#f2ffc1"/><stop offset="0.1149" stop-color="#f1f5b7"/><stop offset="0.1256" stop-color="#f0d697"/><stop offset="0.1301" stop-color="#f0d293"/><stop offset="0.1347" stop-color="#f1da9c"/><stop offset="0.1454" stop-color="#f1fabc"/><stop offset="0.1530" stop-color="#f2ffc1"/><stop offset="0.1575" stop-color="#f1fabc"/><stop offset="0.1697" stop-color="#f0d799"/><stop offset="0.1743" stop-color="#f0d193"/><stop offset="0.1788" stop-color="#f1d99a"/><stop offset="0.1910" stop-color="#f1fbbd"/><stop offset="0.1971" stop-color="#f2ffc1"/><stop offset="0.2032" stop-color="#f1f8ba"/><stop offset="0.2139" stop-color="#f0d89a"/><stop offset="0.2184" stop-color="#f0d193"/><stop offset="0.2230" stop-color="#f0d899"/><stop offset="0.2336" stop-color="#f1f7b9"/><stop offset="0.2382" stop-color="#f2ffc1"/><stop offset="0.2412" stop-color="#f2ffc1"/><stop offset="0.2473" stop-color="#f1f9bb"/><stop offset="0.2580" stop-color="#f1da9b"/><stop offset="0.2626" stop-color="#f0d193"/><stop offset="0.2671" stop-color="#f0d698"/><stop offset="0.2793" stop-color="#f1fabc"/><stop offset="0.2869" stop-color="#f2ffc1"/><stop offset="0.2930" stop-color="#f1f7b9"/><stop offset="0.3037" stop-color="#f0d799"/><stop offset="0.3082" stop-color="#f0d193"/><stop offset="0.3128" stop-color="#f0d99a"/><stop offset="0.3234" stop-color="#f1f8ba"/><stop offset="0.3311" stop-color="#f2ffc1"/><stop offset="0.3371" stop-color="#f1f8ba"/><stop offset="0.3478" stop-color="#f0d89a"/><stop offset="0.3524" stop-color="#f0d193"/><stop offset="0.3569" stop-color="#f0d899"/><stop offset="0.3676" stop-color="#f1f7b9"/><stop offset="0.3721" stop-color="#f2ffc1"/><stop offset="0.3752" stop-color="#f2ffc1"/><stop offset="0.3813" stop-color="#f1f9bb"/><stop offset="0.3919" stop-color="#f1da9b"/><stop offset="0.3980" stop-color="#f0d193"/><stop offset="0.4026" stop-color="#f1da9c"/><stop offset="0.4132" stop-color="#f1fabc"/><stop offset="0.4209" stop-color="#f2ffc1"/><stop offset="0.4269" stop-color="#f1f7b9"/><stop offset="0.4376" stop-color="#f0d799"/><stop offset="0.4422" stop-color="#f0d193"/><stop offset="0.4467" stop-color="#f0d99a"/><stop offset="0.4574" stop-color="#f1f8ba"/><stop offset="0.4650" stop-color="#f2ffc1"/><stop offset="0.4696" stop-color="#f1fbbd"/><stop offset="0.4817" stop-color="#f0d99a"/><stop offset="0.4863" stop-color="#f0d193"/><stop offset="0.4909" stop-color="#f0d899"/><stop offset="0.5030" stop-color="#f1fabc"/><stop offset="0.5091" stop-color="#f2ffc1"/><stop offset="0.5152" stop-color="#f1f9bb"/><stop offset="0.5259" stop-color="#f1da9b"/><stop offset="0.5320" stop-color="#f0d193"/><stop offset="0.5365" stop-color="#f1da9b"/><stop offset="0.5472" stop-color="#f1f9bb"/><stop offset="0.5533" stop-color="#f2ffc1"/><stop offset="0.5594" stop-color="#f1fabc"/><stop offset="0.5715" stop-color="#f0d799"/><stop offset="0.5761" stop-color="#f0d193"/><stop offset="0.5807" stop-color="#f1d99a"/><stop offset="0.5928" stop-color="#f2fbbd"/><stop offset="0.5989" stop-color="#f2ffc1"/><stop offset="0.6050" stop-color="#f1f8ba"/><stop offset="0.6157" stop-color="#f0d99a"/><stop offset="0.6202" stop-color="#f0d193"/><stop offset="0.6248" stop-color="#f0d899"/><stop offset="0.6355" stop-color="#f1f7b9"/><stop offset="0.6400" stop-color="#f2ffc1"/><stop offset="0.6431" stop-color="#f2ffc1"/><stop offset="0.6492" stop-color="#f1f9bb"/><stop offset="0.6598" stop-color="#f1da9b"/><stop offset="0.6644" stop-color="#f0d193"/><stop offset="0.6689" stop-color="#f0d698"/><stop offset="0.6811" stop-color="#f1f9bb"/><stop offset="0.6872" stop-color="#f2ffc1"/><stop offset="0.6948" stop-color="#f1f7b9"/><stop offset="0.7055" stop-color="#f0d799"/><stop offset="0.7100" stop-color="#f0d193"/><stop offset="0.7146" stop-color="#f0d99a"/><stop offset="0.7268" stop-color="#f1fbbd"/><stop offset="0.7329" stop-color="#f2ffc1"/><stop offset="0.7390" stop-color="#f1f8ba"/><stop offset="0.7496" stop-color="#f0d89a"/><stop offset="0.7542" stop-color="#f0d193"/><stop offset="0.7588" stop-color="#f0d799"/><stop offset="0.7694" stop-color="#f1f7b9"/><stop offset="0.7740" stop-color="#f2ffc1"/><stop offset="0.7770" stop-color="#f2ffc1"/><stop offset="0.7831" stop-color="#f1f9bb"/><stop offset="0.7953" stop-color="#f0d698"/><stop offset="0.7998" stop-color="#f0d293"/><stop offset="0.8044" stop-color="#f1da9b"/><stop offset="0.8151" stop-color="#f1fabc"/><stop offset="0.8212" stop-color="#f2ffc1"/><stop offset="0.8272" stop-color="#f1fabc"/><stop offset="0.8394" stop-color="#f0d899"/><stop offset="0.8440" stop-color="#f0d193"/><stop offset="0.8486" stop-color="#f0d99a"/><stop offset="0.8607" stop-color="#f1fbbd"/><stop offset="0.8668" stop-color="#f2ffc1"/><stop offset="0.8729" stop-color="#f1f8ba"/><stop offset="0.8836" stop-color="#f0d89a"/><stop offset="0.8881" stop-color="#f0d193"/><stop offset="0.8927" stop-color="#f0d799"/><stop offset="0.9049" stop-color="#f1fabc"/><stop offset="0.9110" stop-color="#f2ffc1"/><stop offset="0.9170" stop-color="#f1f9bb"/><stop offset="0.9292" stop-color="#f0d698"/><stop offset="0.9338" stop-color="#f0d193"/><stop offset="0.9384" stop-color="#f1da9b"/><stop offset="0.9490" stop-color="#f1f9bb"/><stop offset="0.9551" stop-color="#f2ffc1"/><stop offset="0.9612" stop-color="#f1fabc"/><stop offset="0.9734" stop-color="#f0d799"/><stop offset="0.9779" stop-color="#f0d193"/><stop offset="0.9825" stop-color="#f0d99a"/><stop offset="0.9947" stop-color="#f1fbbd"/><stop offset="1.0000" stop-color="#f2ffc1"/></linearGradient><linearGradient id="g6" x1="0" y1="0" x2="0" y2="1"><stop offset="0.0000" stop-color="#f0c78a"/><stop offset="0.0008" stop-color="#f0c78a"/><stop offset="0.0038" stop-color="#efb87d"/><stop offset="0.0068" stop-color="#ef9f6e"/><stop offset="0.0099" stop-color="#ed7a5e"/><stop offset="0.0114" stop-color="#ea645e"/><stop offset="0.0129" stop-color="#db4d6b"/><stop offset="0.0145" stop-color="#b43a80"/><stop offset="0.0160" stop-color="#6e2285"/><stop offset="0.0175" stop-color="#09061a"/><stop offset="0.0190" stop-color="#5a1c7c"/><stop offset="0.0205" stop-color="#ab3783"/><stop offset="0.0221" stop-color="#d7496e"/><stop offset="0.0236" stop-color="#e8605f"/><stop offset="0.0251" stop-color="#ed765e"/><stop offset="0.0282" stop-color="#ef9c6c"/><stop offset="0.0312" stop-color="#efb67c"/><stop offset="0.0342" stop-color="#f0c689"/><stop offset="0.0388" stop-color="#f0d193"/><stop offset="0.0419" stop-color="#f0d091"/><stop offset="0.0449" stop-color="#f0c88b"/><stop offset="0.0495" stop-color="#f0b178"/><stop offset="0.0525" stop-color="#ef9468"/><stop offset="0.0540" stop-color="#ee8160"/><stop offset="0.0556" stop-color="#eb6b5d"/><stop offset="0.0571" stop-color="#e15366"/><stop offset="0.0586" stop-color="#c54079"/><stop offset="0.0601" stop-color="#8e2d87"/><stop offset="0.0616" stop-color="#200b3c"/><stop offset="0.0632" stop-color="#331156"/><stop offset="0.0647" stop-color="#983186"/><stop offset="0.0662" stop-color="#cc4375"/><stop offset="0.0677" stop-color="#e45763"/><stop offset="0.0693" stop-color="#ec705d"/><stop offset="0.0723" stop-color="#ef9769"/><stop offset="0.0769" stop-color="#efbc80"/><stop offset="0.0799" stop-color="#f0ca8c"/><stop offset="0.0845" stop-color="#f0d193"/><stop offset="0.0890" stop-color="#f0ca8c"/><stop offset="0.0936" stop-color="#efb47b"/><stop offset="0.0967" stop-color="#ef996a"/><stop offset="0.0997" stop-color="#ec725d"/><stop offset="0.1012" stop-color="#e75b61"/><stop offset="0.1027" stop-color="#d34771"/><stop offset="0.1043" stop-color="#a33485"/><stop offset="0.1058" stop-color="#49186e"/><stop offset="0.1073" stop-color="#110727"/><stop offset="0.1088" stop-color="#7d2787"/><stop offset="0.1104" stop-color="#bc3d7d"/><stop offset="0.1119" stop-color="#df5068"/><stop offset="0.1134" stop-color="#eb675d"/><stop offset="0.1149" stop-color="#ed7d5f"/><stop offset="0.1195" stop-color="#f0ae77"/><stop offset="0.1240" stop-color="#f0c88b"/><stop offset="0.1271" stop-color="#f0cf91"/><stop offset="0.1301" stop-color="#f0d193"/><stop offset="0.1332" stop-color="#f0cc8e"/><stop offset="0.1377" stop-color="#efb87d"/><stop offset="0.1408" stop-color="#ef9f6e"/><stop offset="0.1438" stop-color="#ed7a5e"/><stop offset="0.1454" stop-color="#ea645e"/><stop offset="0.1469" stop-color="#db4d6b"/><stop offset="0.1484" stop-color="#b73b7f"/><stop offset="0.1499" stop-color="#722385"/><stop offset="0.1514" stop-color="#090619"/><stop offset="0.1530" stop-color="#5e1d7e"/><stop offset="0.1545" stop-color="#ad3882"/><stop offset="0.1560" stop-color="#d6496e"/><stop offset="0.1575" stop-color="#e85f60"/><stop offset="0.1591" stop-color="#ed765e"/><stop offset="0.1621" stop-color="#ef9c6c"/><stop offset="0.1636" stop-color="#f0aa74"/><stop offset="0.1682" stop-color="#f0c689"/><stop offset="0.1728" stop-color="#f0d092"/><stop offset="0.1788" stop-color="#f0c98b"/><stop offset="0.1834" stop-color="#f0b179"/><stop offset="0.1849" stop-color="#efa471"/><stop offset="0.1880" stop-color="#ee8060"/><stop offset="0.1895" stop-color="#eb6b5d"/><stop offset="0.1910" stop-color="#e25465"/><stop offset="0.1925" stop-color="#c74178"/><stop offset="0.1941" stop-color="#8c2c87"/><stop offset="0.1956" stop-color="#1f0b3b"/><stop offset="0.1971" stop-color="#30104f"/><stop offset="0.1986" stop-color="#973087"/><stop offset="0.2002" stop-color="#ca4276"/><stop offset="0.2017" stop-color="#e45763"/><stop offset="0.2032" stop-color="#ec6e5d"/><stop offset="0.2047" stop-color="#ee8361"/><stop offset="0.2062" stop-color="#ef9769"/><stop offset="0.2093" stop-color="#f0b27a"/><stop offset="0.2139" stop-color="#f0ca8c"/><stop offset="0.2184" stop-color="#f0d193"/><stop offset="0.2230" stop-color="#f0cb8d"/><stop offset="0.2260" stop-color="#efbe82"/><stop offset="0.2306" stop-color="#ef9a6b"/><stop offset="0.2336" stop-color="#ed745d"/><stop offset="0.2352" stop-color="#e75d60"/><stop offset="0.2367" stop-color="#d24671"/><stop offset="0.2382" stop-color="#a53585"/><stop offset="0.2397" stop-color="#491769"/><stop offset="0.2412" stop-color="#14082c"/><stop offset="0.2428" stop-color="#812887"/><stop offset="0.2443" stop-color="#bd3d7d"/><stop offset="0.2458" stop-color="#de4f68"/><stop offset="0.2473" stop-color="#ea665e"/><stop offset="0.2504" stop-color="#ef9166"/><stop offset="0.2534" stop-color="#f0af77"/><stop offset="0.2580" stop-color="#f0c78a"/><stop offset="0.2626" stop-color="#f0d193"/><stop offset="0.2671" stop-color="#f0cc8e"/><stop offset="0.2717" stop-color="#efb87d"/><stop offset="0.2747" stop-color="#ef9f6e"/><stop offset="0.2778" stop-color="#ed7a5e"/><stop offset="0.2793" stop-color="#ea645e"/><stop offset="0.2808" stop-color="#dc4d6a"/><stop offset="0.2823" stop-color="#b83b7f"/><stop offset="0.2839" stop-color="#6d2283"/><stop offset="0.2854" stop-color="#060413"/><stop offset="0.2869" stop-color="#591d79"/><stop offset="0.2884" stop-color="#ab3783"/><stop offset="0.2900" stop-color="#d44870"/><stop offset="0.2915" stop-color="#e85f60"/><stop offset="0.2930" stop-color="#ed765e"/><stop offset="0.2960" stop-color="#ef9d6c"/><stop offset="0.2976" stop-color="#f0ab75"/><stop offset="0.3021" stop-color="#f0c588"/><stop offset="0.3067" stop-color="#f0d192"/><stop offset="0.3097" stop-color="#f0d092"/><stop offset="0.3128" stop-color="#f0c98b"/><stop offset="0.3174" stop-color="#f0b179"/><stop offset="0.3204" stop-color="#ef9568"/><stop offset="0.3219" stop-color="#ee8261"/><stop offset="0.3234" stop-color="#eb6b5d"/><stop offset="0.3250" stop-color="#e25465"/><stop offset="0.3265" stop-color="#c54079"/><stop offset="0.3280" stop-color="#8e2d87"/><stop offset="0.3295" stop-color="#250c42"/><stop offset="0.3311" stop-color="#341154"/><stop offset="0.3326" stop-color="#983187"/><stop offset="0.3341" stop-color="#ca4276"/><stop offset="0.3356" stop-color="#e45663"/><stop offset="0.3371" stop-color="#ec6e5d"/><stop offset="0.3402" stop-color="#ef9769"/><stop offset="0.3432" stop-color="#f0b279"/><stop offset="0.3478" stop-color="#f0c98c"/><stop offset="0.3524" stop-color="#f0d193"/><stop offset="0.3569" stop-color="#f0ca8d"/><stop offset="0.3615" stop-color="#efb47b"/><stop offset="0.3645" stop-color="#ef9b6b"/><stop offset="0.3676" stop-color="#ed735d"/><stop offset="0.3691" stop-color="#e75c61"/><stop offset="0.3706" stop-color="#d24671"/><stop offset="0.3721" stop-color="#a63584"/><stop offset="0.3737" stop-color="#471769"/><stop offset="0.3752" stop-color="#0e0622"/><stop offset="0.3767" stop-color="#7a2686"/><stop offset="0.3782" stop-color="#bb3c7e"/><stop offset="0.3798" stop-color="#dd4e69"/><stop offset="0.3813" stop-color="#ea675e"/><stop offset="0.3828" stop-color="#ed7d5f"/><stop offset="0.3858" stop-color="#efa16f"/><stop offset="0.3874" stop-color="#f0af77"/><stop offset="0.3904" stop-color="#efc184"/><stop offset="0.3950" stop-color="#f0cf91"/><stop offset="0.3980" stop-color="#f0d193"/><stop offset="0.4011" stop-color="#f0cc8e"/><stop offset="0.4056" stop-color="#efb87d"/><stop offset="0.4072" stop-color="#f0ae77"/><stop offset="0.4102" stop-color="#ef8f66"/><stop offset="0.4117" stop-color="#ed7b5f"/><stop offset="0.4132" stop-color="#e9635e"/><stop offset="0.4148" stop-color="#db4c6b"/><stop offset="0.4163" stop-color="#b73b7f"/><stop offset="0.4178" stop-color="#742386"/><stop offset="0.4193" stop-color="#0b051d"/><stop offset="0.4209" stop-color="#591d78"/><stop offset="0.4224" stop-color="#ac3783"/><stop offset="0.4239" stop-color="#d5486f"/><stop offset="0.4254" stop-color="#e85f60"/><stop offset="0.4269" stop-color="#ed755e"/><stop offset="0.4285" stop-color="#ee8b64"/><stop offset="0.4315" stop-color="#f0aa74"/><stop offset="0.4361" stop-color="#f0c588"/><stop offset="0.4406" stop-color="#f0d193"/><stop offset="0.4467" stop-color="#f0c98b"/><stop offset="0.4513" stop-color="#f0b179"/><stop offset="0.4543" stop-color="#ef9569"/><stop offset="0.4559" stop-color="#ee8160"/><stop offset="0.4574" stop-color="#eb6b5d"/><stop offset="0.4589" stop-color="#e25465"/><stop offset="0.4604" stop-color="#c74178"/><stop offset="0.4619" stop-color="#922e87"/><stop offset="0.4635" stop-color="#230c40"/><stop offset="0.4650" stop-color="#2b0e4b"/><stop offset="0.4665" stop-color="#942f86"/><stop offset="0.4680" stop-color="#ca4277"/><stop offset="0.4696" stop-color="#e35664"/><stop offset="0.4711" stop-color="#ec6e5d"/><stop offset="0.4741" stop-color="#ef9669"/><stop offset="0.4772" stop-color="#f0b279"/><stop offset="0.4817" stop-color="#f0c98c"/><stop offset="0.4863" stop-color="#f0d193"/><stop offset="0.4909" stop-color="#f0ca8c"/><stop offset="0.4954" stop-color="#efb57b"/><stop offset="0.4985" stop-color="#ef9a6b"/><stop offset="0.5015" stop-color="#ed735d"/><stop offset="0.5030" stop-color="#e65b61"/><stop offset="0.5046" stop-color="#d24671"/><stop offset="0.5061" stop-color="#a63584"/><stop offset="0.5076" stop-color="#4e1973"/><stop offset="0.5091" stop-color="#0d0620"/><stop offset="0.5107" stop-color="#7d2786"/><stop offset="0.5122" stop-color="#be3d7d"/><stop offset="0.5137" stop-color="#de4f68"/><stop offset="0.5152" stop-color="#ea665e"/><stop offset="0.5167" stop-color="#ed7c5f"/><stop offset="0.5183" stop-color="#ef9066"/><stop offset="0.5213" stop-color="#f0ae77"/><stop offset="0.5259" stop-color="#f0c88a"/><stop offset="0.5289" stop-color="#f0cf91"/><stop offset="0.5320" stop-color="#f0d193"/><stop offset="0.5350" stop-color="#f0cc8e"/><stop offset="0.5396" stop-color="#efb87d"/><stop offset="0.5426" stop-color="#efa06e"/><stop offset="0.5457" stop-color="#ed7a5e"/><stop offset="0.5472" stop-color="#ea635e"/><stop offset="0.5487" stop-color="#dc4d6a"/><stop offset="0.5502" stop-color="#ba3c7e"/><stop offset="0.5518" stop-color="#772586"/><stop offset="0.5533" stop-color="#0b061d"/><stop offset="0.5548" stop-color="#591c7b"/><stop offset="0.5563" stop-color="#ab3783"/><stop offset="0.5578" stop-color="#d5486f"/><stop offset="0.5594" stop-color="#e75d60"/><stop offset="0.5609" stop-color="#ed755e"/><stop offset="0.5654" stop-color="#f0aa74"/><stop offset="0.5685" stop-color="#efbf82"/><stop offset="0.5731" stop-color="#f0ce90"/><stop offset="0.5761" stop-color="#f0d193"/><stop offset="0.5791" stop-color="#f0cd8f"/><stop offset="0.5837" stop-color="#efbb80"/><stop offset="0.5868" stop-color="#efa571"/><stop offset="0.5898" stop-color="#ee8160"/><stop offset="0.5913" stop-color="#ec6d5d"/><stop offset="0.5928" stop-color="#e25465"/><stop offset="0.5944" stop-color="#c74178"/><stop offset="0.5959" stop-color="#902e87"/><stop offset="0.5974" stop-color="#260d46"/><stop offset="0.5989" stop-color="#2c0f4b"/><stop offset="0.6005" stop-color="#983086"/><stop offset="0.6020" stop-color="#cb4276"/><stop offset="0.6035" stop-color="#e45664"/><stop offset="0.6050" stop-color="#ec6d5d"/><stop offset="0.6081" stop-color="#ef9669"/><stop offset="0.6126" stop-color="#efbc80"/><stop offset="0.6157" stop-color="#f0c98c"/><stop offset="0.6202" stop-color="#f0d193"/><stop offset="0.6248" stop-color="#f0cb8d"/><stop offset="0.6294" stop-color="#efb47b"/><stop offset="0.6324" stop-color="#ef9a6b"/><stop offset="0.6355" stop-color="#ed735d"/><stop offset="0.6370" stop-color="#e75d60"/><stop offset="0.6385" stop-color="#d34770"/><stop offset="0.6400" stop-color="#a93684"/><stop offset="0.6416" stop-color="#511a72"/><stop offset="0.6431" stop-color="#110726"/><stop offset="0.6446" stop-color="#7c2687"/><stop offset="0.6461" stop-color="#bb3c7e"/><stop offset="0.6476" stop-color="#de5068"/><stop offset="0.6492" stop-color="#ea665e"/><stop offset="0.6522" stop-color="#ef9066"/><stop offset="0.6553" stop-color="#f0ae77"/><stop offset="0.6598" stop-color="#f0c78a"/><stop offset="0.6644" stop-color="#f0d193"/><stop offset="0.6689" stop-color="#f0cc8e"/><stop offset="0.6735" stop-color="#efb87e"/><stop offset="0.6766" stop-color="#efa16f"/><stop offset="0.6796" stop-color="#ed7b5f"/><stop offset="0.6811" stop-color="#ea655e"/><stop offset="0.6826" stop-color="#db4d6a"/><stop offset="0.6842" stop-color="#b83b7f"/><stop offset="0.6857" stop-color="#732385"/><stop offset="0.6872" stop-color="#080516"/><stop offset="0.6887" stop-color="#511a72"/><stop offset="0.6903" stop-color="#ab3783"/><stop offset="0.6918" stop-color="#d5486f"/><stop offset="0.6933" stop-color="#e75d60"/><stop offset="0.6948" stop-color="#ed745d"/><stop offset="0.6963" stop-color="#ee8963"/><stop offset="0.6994" stop-color="#f0aa74"/><stop offset="0.7024" stop-color="#efbe82"/><stop offset="0.7070" stop-color="#f0ce90"/><stop offset="0.7116" stop-color="#f0d092"/><stop offset="0.7161" stop-color="#f0c386"/><stop offset="0.7192" stop-color="#f0b179"/><stop offset="0.7222" stop-color="#ef9669"/><stop offset="0.7253" stop-color="#ec6c5d"/><stop offset="0.7268" stop-color="#e35564"/><stop offset="0.7283" stop-color="#c84178"/><stop offset="0.7298" stop-color="#922f87"/><stop offset="0.7314" stop-color="#290d46"/><stop offset="0.7329" stop-color="#2d0f4c"/><stop offset="0.7344" stop-color="#942f87"/><stop offset="0.7359" stop-color="#c84177"/><stop offset="0.7374" stop-color="#e45663"/><stop offset="0.7390" stop-color="#ec6e5d"/><stop offset="0.7420" stop-color="#ef9669"/><stop offset="0.7451" stop-color="#f0b279"/><stop offset="0.7496" stop-color="#f0c98b"/><stop offset="0.7542" stop-color="#f0d193"/><stop offset="0.7588" stop-color="#f0cb8d"/><stop offset="0.7633" stop-color="#efb57b"/><stop offset="0.7664" stop-color="#ef9a6b"/><stop offset="0.7694" stop-color="#ed745d"/><stop offset="0.7709" stop-color="#e75d60"/><stop offset="0.7725" stop-color="#d24671"/><stop offset="0.7740" stop-color="#a53584"/><stop offset="0.7755" stop-color="#4c196d"/><stop offset="0.7770" stop-color="#0a051b"/><stop offset="0.7785" stop-color="#762486"/><stop offset="0.7801" stop-color="#bc3c7d"/><stop offset="0.7816" stop-color="#de4f69"/><stop offset="0.7831" stop-color="#ea655e"/><stop offset="0.7846" stop-color="#ed7c5f"/><stop offset="0.7877" stop-color="#efa16f"/><stop offset="0.7922" stop-color="#efc184"/><stop offset="0.7953" stop-color="#f0cc8e"/><stop offset="0.7998" stop-color="#f0d193"/><stop offset="0.8044" stop-color="#f0c78a"/><stop offset="0.8090" stop-color="#f0ad76"/><stop offset="0.8120" stop-color="#ef9066"/><stop offset="0.8135" stop-color="#ed7c5f"/><stop offset="0.8151" stop-color="#ea645e"/><stop offset="0.8166" stop-color="#dc4d6a"/><stop offset="0.8181" stop-color="#b93c7f"/><stop offset="0.8196" stop-color="#782587"/><stop offset="0.8212" stop-color="#0e0622"/><stop offset="0.8227" stop-color="#541b75"/><stop offset="0.8242" stop-color="#a93684"/><stop offset="0.8257" stop-color="#d44770"/><stop offset="0.8272" stop-color="#e85f60"/><stop offset="0.8288" stop-color="#ed765e"/><stop offset="0.8318" stop-color="#ef9c6c"/><stop offset="0.8364" stop-color="#efbe82"/><stop offset="0.8394" stop-color="#f0cb8d"/><stop offset="0.8440" stop-color="#f0d193"/><stop offset="0.8486" stop-color="#f0c98c"/><stop offset="0.8531" stop-color="#f0b179"/><stop offset="0.8562" stop-color="#ef9568"/><stop offset="0.8592" stop-color="#ec6d5d"/><stop offset="0.8607" stop-color="#e35564"/><stop offset="0.8623" stop-color="#c64178"/><stop offset="0.8638" stop-color="#912e87"/><stop offset="0.8653" stop-color="#2a0e48"/><stop offset="0.8668" stop-color="#270d47"/><stop offset="0.8683" stop-color="#912e87"/><stop offset="0.8699" stop-color="#ca4277"/><stop offset="0.8714" stop-color="#e35664"/><stop offset="0.8729" stop-color="#ec6e5d"/><stop offset="0.8760" stop-color="#ef9568"/><stop offset="0.8790" stop-color="#f0b179"/><stop offset="0.8836" stop-color="#f0c98c"/><stop offset="0.8881" stop-color="#f0d193"/><stop offset="0.8912" stop-color="#f0ce90"/><stop offset="0.8957" stop-color="#efbf82"/><stop offset="0.9003" stop-color="#ef9b6b"/><stop offset="0.9033" stop-color="#ed745e"/><stop offset="0.9049" stop-color="#e65c61"/><stop offset="0.9064" stop-color="#d44770"/><stop offset="0.9079" stop-color="#a93683"/><stop offset="0.9094" stop-color="#561c7a"/><stop offset="0.9110" stop-color="#0b061d"/><stop offset="0.9125" stop-color="#782586"/><stop offset="0.9140" stop-color="#bb3c7e"/><stop offset="0.9155" stop-color="#dd4e69"/><stop offset="0.9170" stop-color="#ea665e"/><stop offset="0.9201" stop-color="#ef9066"/><stop offset="0.9247" stop-color="#efb97e"/><stop offset="0.9277" stop-color="#f0c78a"/><stop offset="0.9323" stop-color="#f0d193"/><stop offset="0.9368" stop-color="#f0cc8e"/><stop offset="0.9414" stop-color="#efb87e"/><stop offset="0.9429" stop-color="#f0ae77"/><stop offset="0.9460" stop-color="#ef8f66"/><stop offset="0.9475" stop-color="#ed7a5f"/><stop offset="0.9490" stop-color="#ea655e"/><stop offset="0.9505" stop-color="#dd4e69"/><stop offset="0.9521" stop-color="#b93c7f"/><stop offset="0.9536" stop-color="#772587"/><stop offset="0.9551" stop-color="#0d061f"/><stop offset="0.9566" stop-color="#501a74"/><stop offset="0.9581" stop-color="#a73684"/><stop offset="0.9597" stop-color="#d5486f"/><stop offset="0.9612" stop-color="#e85e60"/><stop offset="0.9627" stop-color="#ed745e"/><stop offset="0.9673" stop-color="#f0aa74"/><stop offset="0.9718" stop-color="#f0c689"/><stop offset="0.9749" stop-color="#f0ce90"/><stop offset="0.9795" stop-color="#f0d091"/><stop offset="0.9840" stop-color="#f0c386"/><stop offset="0.9871" stop-color="#f0b179"/><stop offset="0.9901" stop-color="#ef9569"/><stop offset="0.9932" stop-color="#ec6e5d"/><stop offset="0.9947" stop-color="#e35564"/><stop offset="0.9962" stop-color="#c94277"/><stop offset="0.9977" stop-color="#942f87"/><stop offset="0.9992" stop-color="#250c42"/><stop offset="1.0000" stop-color="#250c42"/></linearGradient><linearGradient id="g7" x1="0" y1="0" x2="0" y2="1"><stop offset="0.0000" stop-color="#6b2087"/><stop offset="0.0008" stop-color="#6b2087"/><stop offset="0.0023" stop-color="#611c86"/><stop offset="0.0038" stop-color="#511681"/><stop offset="0.0053" stop-color="#3a1272"/><stop offset="0.0068" stop-color="#251358"/><stop offset="0.0084" stop-color="#1f134e"/><stop offset="0.0114" stop-color="#211351"/><stop offset="0.0129" stop-color="#181141"/><stop offset="0.0145" stop-color="#09081f"/><stop offset="0.0160" stop-color="#000004"/><stop offset="0.0175" stop-color="#000004"/><stop offset="0.0236" stop-color="#000004"/><stop offset="0.0251" stop-color="#08071d"/><stop offset="0.0266" stop-color="#211250"/><stop offset="0.0282" stop-color="#3f1277"/><stop offset="0.0297" stop-color="#561883"/><stop offset="0.0312" stop-color="#601c85"/><stop offset="0.0327" stop-color="#621c86"/><stop offset="0.0373" stop-color="#531782"/><stop offset="0.0419" stop-color="#6c2187"/><stop offset="0.0434" stop-color="#6e2287"/><stop offset="0.0449" stop-color="#6a2087"/><stop offset="0.0464" stop-color="#5e1b85"/><stop offset="0.0479" stop-color="#4c147f"/><stop offset="0.0495" stop-color="#371270"/><stop offset="0.0510" stop-color="#2d1364"/><stop offset="0.0540" stop-color="#301369"/><stop offset="0.0556" stop-color="#2c1364"/><stop offset="0.0571" stop-color="#1d124b"/><stop offset="0.0586" stop-color="#090821"/><stop offset="0.0601" stop-color="#000004"/><stop offset="0.0677" stop-color="#000004"/><stop offset="0.0693" stop-color="#0a0820"/><stop offset="0.0708" stop-color="#28135b"/><stop offset="0.0723" stop-color="#44137a"/><stop offset="0.0738" stop-color="#551783"/><stop offset="0.0753" stop-color="#5c1a84"/><stop offset="0.0799" stop-color="#501581"/><stop offset="0.0814" stop-color="#531782"/><stop offset="0.0845" stop-color="#692087"/><stop offset="0.0860" stop-color="#6f2288"/><stop offset="0.0875" stop-color="#6f2288"/><stop offset="0.0890" stop-color="#671f87"/><stop offset="0.0906" stop-color="#591984"/><stop offset="0.0936" stop-color="#3a1273"/><stop offset="0.0982" stop-color="#3d1276"/><stop offset="0.0997" stop-color="#34126d"/><stop offset="0.1012" stop-color="#201350"/><stop offset="0.1027" stop-color="#09071e"/><stop offset="0.1043" stop-color="#000004"/><stop offset="0.1104" stop-color="#000004"/><stop offset="0.1119" stop-color="#000004"/><stop offset="0.1134" stop-color="#0d0a28"/><stop offset="0.1149" stop-color="#2b1361"/><stop offset="0.1164" stop-color="#45137b"/><stop offset="0.1180" stop-color="#521682"/><stop offset="0.1195" stop-color="#561783"/><stop offset="0.1225" stop-color="#4d1480"/><stop offset="0.1240" stop-color="#4d1480"/><stop offset="0.1286" stop-color="#6d2187"/><stop offset="0.1301" stop-color="#712388"/><stop offset="0.1317" stop-color="#6e2187"/><stop offset="0.1332" stop-color="#631d86"/><stop offset="0.1362" stop-color="#47137c"/><stop offset="0.1377" stop-color="#411279"/><stop offset="0.1408" stop-color="#49137e"/><stop offset="0.1423" stop-color="#45127c"/><stop offset="0.1438" stop-color="#391272"/><stop offset="0.1454" stop-color="#20124f"/><stop offset="0.1469" stop-color="#050414"/><stop offset="0.1484" stop-color="#000004"/><stop offset="0.1560" stop-color="#010004"/><stop offset="0.1575" stop-color="#110c32"/><stop offset="0.1591" stop-color="#301367"/><stop offset="0.1606" stop-color="#44127b"/><stop offset="0.1621" stop-color="#4d1480"/><stop offset="0.1667" stop-color="#46137c"/><stop offset="0.1682" stop-color="#4d1480"/><stop offset="0.1712" stop-color="#681f87"/><stop offset="0.1728" stop-color="#702288"/><stop offset="0.1743" stop-color="#712388"/><stop offset="0.1758" stop-color="#6b2087"/><stop offset="0.1788" stop-color="#501681"/><stop offset="0.1804" stop-color="#49137e"/><stop offset="0.1849" stop-color="#511681"/><stop offset="0.1865" stop-color="#4a147e"/><stop offset="0.1880" stop-color="#381271"/><stop offset="0.1895" stop-color="#1b1146"/><stop offset="0.1910" stop-color="#03020d"/><stop offset="0.1925" stop-color="#000004"/><stop offset="0.1986" stop-color="#000004"/><stop offset="0.2002" stop-color="#010108"/><stop offset="0.2017" stop-color="#160f3b"/><stop offset="0.2032" stop-color="#2f1367"/><stop offset="0.2047" stop-color="#3f1278"/><stop offset="0.2062" stop-color="#44127b"/><stop offset="0.2093" stop-color="#3e1277"/><stop offset="0.2108" stop-color="#421279"/><stop offset="0.2139" stop-color="#601c85"/><stop offset="0.2154" stop-color="#6c2187"/><stop offset="0.2169" stop-color="#712388"/><stop offset="0.2184" stop-color="#6f2287"/><stop offset="0.2230" stop-color="#501581"/><stop offset="0.2245" stop-color="#4e1580"/><stop offset="0.2275" stop-color="#581984"/><stop offset="0.2291" stop-color="#571883"/><stop offset="0.2306" stop-color="#4d147f"/><stop offset="0.2321" stop-color="#36126e"/><stop offset="0.2336" stop-color="#170f3e"/><stop offset="0.2352" stop-color="#020209"/><stop offset="0.2367" stop-color="#000004"/><stop offset="0.2428" stop-color="#000004"/><stop offset="0.2443" stop-color="#03030e"/><stop offset="0.2458" stop-color="#17103e"/><stop offset="0.2473" stop-color="#2b1361"/><stop offset="0.2489" stop-color="#371270"/><stop offset="0.2534" stop-color="#35126e"/><stop offset="0.2549" stop-color="#421279"/><stop offset="0.2565" stop-color="#551782"/><stop offset="0.2580" stop-color="#651e86"/><stop offset="0.2595" stop-color="#6d2187"/><stop offset="0.2610" stop-color="#702288"/><stop offset="0.2626" stop-color="#6b2087"/><stop offset="0.2656" stop-color="#551783"/><stop offset="0.2671" stop-color="#511681"/><stop offset="0.2717" stop-color="#5f1b85"/><stop offset="0.2732" stop-color="#5a1984"/><stop offset="0.2747" stop-color="#4c147f"/><stop offset="0.2763" stop-color="#301367"/><stop offset="0.2778" stop-color="#110d32"/><stop offset="0.2793" stop-color="#010107"/><stop offset="0.2808" stop-color="#000004"/><stop offset="0.2869" stop-color="#000004"/><stop offset="0.2884" stop-color="#040311"/><stop offset="0.2900" stop-color="#150f3a"/><stop offset="0.2915" stop-color="#241357"/><stop offset="0.2930" stop-color="#2b1361"/><stop offset="0.2960" stop-color="#27135c"/><stop offset="0.2976" stop-color="#311369"/><stop offset="0.2991" stop-color="#45137b"/><stop offset="0.3006" stop-color="#591984"/><stop offset="0.3021" stop-color="#671f87"/><stop offset="0.3037" stop-color="#6e2187"/><stop offset="0.3052" stop-color="#6c2187"/><stop offset="0.3097" stop-color="#541782"/><stop offset="0.3143" stop-color="#631d86"/><stop offset="0.3158" stop-color="#631d86"/><stop offset="0.3174" stop-color="#5b1a84"/><stop offset="0.3189" stop-color="#48137d"/><stop offset="0.3204" stop-color="#2c1361"/><stop offset="0.3219" stop-color="#100d31"/><stop offset="0.3234" stop-color="#03030f"/><stop offset="0.3295" stop-color="#000004"/><stop offset="0.3311" stop-color="#000004"/><stop offset="0.3326" stop-color="#030311"/><stop offset="0.3341" stop-color="#100d31"/><stop offset="0.3356" stop-color="#1a1144"/><stop offset="0.3371" stop-color="#1c1248"/><stop offset="0.3387" stop-color="#1a1244"/><stop offset="0.3402" stop-color="#1e134d"/><stop offset="0.3417" stop-color="#301368"/><stop offset="0.3432" stop-color="#49147e"/><stop offset="0.3447" stop-color="#5d1a85"/><stop offset="0.3463" stop-color="#681f87"/><stop offset="0.3478" stop-color="#6b2087"/><stop offset="0.3524" stop-color="#571883"/><stop offset="0.3539" stop-color="#561783"/><stop offset="0.3584" stop-color="#681f87"/><stop offset="0.3600" stop-color="#641e86"/><stop offset="0.3615" stop-color="#591984"/><stop offset="0.3630" stop-color="#44137a"/><stop offset="0.3645" stop-color="#28135c"/><stop offset="0.3661" stop-color="#130e36"/><stop offset="0.3676" stop-color="#0d0b2a"/><stop offset="0.3706" stop-color="#0c0a28"/><stop offset="0.3737" stop-color="#000004"/><stop offset="0.3752" stop-color="#000004"/><stop offset="0.3767" stop-color="#010109"/><stop offset="0.3782" stop-color="#08071e"/><stop offset="0.3798" stop-color="#0d0b29"/><stop offset="0.3828" stop-color="#0e0b2b"/><stop offset="0.3843" stop-color="#1a1145"/><stop offset="0.3858" stop-color="#36126e"/><stop offset="0.3874" stop-color="#4f1580"/><stop offset="0.3889" stop-color="#5f1b85"/><stop offset="0.3904" stop-color="#671f87"/><stop offset="0.3919" stop-color="#671f87"/><stop offset="0.3965" stop-color="#551783"/><stop offset="0.4011" stop-color="#6a2087"/><stop offset="0.4026" stop-color="#6b2087"/><stop offset="0.4041" stop-color="#641d86"/><stop offset="0.4056" stop-color="#561883"/><stop offset="0.4072" stop-color="#3f1277"/><stop offset="0.4087" stop-color="#26135a"/><stop offset="0.4102" stop-color="#1b1247"/><stop offset="0.4132" stop-color="#1c1249"/><stop offset="0.4148" stop-color="#17103e"/><stop offset="0.4178" stop-color="#010106"/><stop offset="0.4209" stop-color="#000004"/><stop offset="0.4254" stop-color="#010108"/><stop offset="0.4269" stop-color="#06061a"/><stop offset="0.4285" stop-color="#1c1148"/><stop offset="0.4300" stop-color="#3b1273"/><stop offset="0.4315" stop-color="#521681"/><stop offset="0.4330" stop-color="#5f1b85"/><stop offset="0.4346" stop-color="#631d86"/><stop offset="0.4391" stop-color="#541782"/><stop offset="0.4406" stop-color="#571883"/><stop offset="0.4452" stop-color="#6e2187"/><stop offset="0.4467" stop-color="#6c2187"/><stop offset="0.4482" stop-color="#611c85"/><stop offset="0.4498" stop-color="#501681"/><stop offset="0.4528" stop-color="#2a1361"/><stop offset="0.4574" stop-color="#2a135f"/><stop offset="0.4589" stop-color="#1f124d"/><stop offset="0.4619" stop-color="#010107"/><stop offset="0.4696" stop-color="#000004"/><stop offset="0.4711" stop-color="#060516"/><stop offset="0.4726" stop-color="#20124e"/><stop offset="0.4741" stop-color="#3f1276"/><stop offset="0.4756" stop-color="#541782"/><stop offset="0.4772" stop-color="#5d1a85"/><stop offset="0.4787" stop-color="#5e1b85"/><stop offset="0.4817" stop-color="#531682"/><stop offset="0.4833" stop-color="#521682"/><stop offset="0.4878" stop-color="#6e2187"/><stop offset="0.4893" stop-color="#702288"/><stop offset="0.4909" stop-color="#6a2087"/><stop offset="0.4924" stop-color="#5e1b85"/><stop offset="0.4954" stop-color="#3b1274"/><stop offset="0.4970" stop-color="#34126d"/><stop offset="0.5000" stop-color="#3a1273"/><stop offset="0.5015" stop-color="#34126d"/><stop offset="0.5030" stop-color="#221353"/><stop offset="0.5046" stop-color="#0b0926"/><stop offset="0.5061" stop-color="#000004"/><stop offset="0.5137" stop-color="#000004"/><stop offset="0.5152" stop-color="#070619"/><stop offset="0.5167" stop-color="#241256"/><stop offset="0.5183" stop-color="#421279"/><stop offset="0.5198" stop-color="#531682"/><stop offset="0.5213" stop-color="#581984"/><stop offset="0.5259" stop-color="#4d1480"/><stop offset="0.5274" stop-color="#531782"/><stop offset="0.5304" stop-color="#6b2087"/><stop offset="0.5320" stop-color="#712388"/><stop offset="0.5335" stop-color="#6f2288"/><stop offset="0.5350" stop-color="#671f86"/><stop offset="0.5381" stop-color="#48137d"/><stop offset="0.5396" stop-color="#3f1277"/><stop offset="0.5441" stop-color="#44127b"/><stop offset="0.5457" stop-color="#391272"/><stop offset="0.5472" stop-color="#241355"/><stop offset="0.5487" stop-color="#09081f"/><stop offset="0.5502" stop-color="#000004"/><stop offset="0.5578" stop-color="#000004"/><stop offset="0.5594" stop-color="#0b0822"/><stop offset="0.5609" stop-color="#2a135f"/><stop offset="0.5624" stop-color="#43127a"/><stop offset="0.5639" stop-color="#4f1580"/><stop offset="0.5654" stop-color="#511681"/><stop offset="0.5685" stop-color="#48137d"/><stop offset="0.5700" stop-color="#4b147f"/><stop offset="0.5731" stop-color="#651e86"/><stop offset="0.5746" stop-color="#6f2287"/><stop offset="0.5761" stop-color="#712388"/><stop offset="0.5776" stop-color="#6d2187"/><stop offset="0.5822" stop-color="#49137e"/><stop offset="0.5837" stop-color="#47137c"/><stop offset="0.5868" stop-color="#4e1580"/><stop offset="0.5883" stop-color="#4b147e"/><stop offset="0.5898" stop-color="#3c1275"/><stop offset="0.5913" stop-color="#221252"/><stop offset="0.5928" stop-color="#050515"/><stop offset="0.5944" stop-color="#000004"/><stop offset="0.6020" stop-color="#010004"/><stop offset="0.6035" stop-color="#100c2f"/><stop offset="0.6050" stop-color="#2b1361"/><stop offset="0.6065" stop-color="#3f1277"/><stop offset="0.6081" stop-color="#47137d"/><stop offset="0.6126" stop-color="#42127a"/><stop offset="0.6142" stop-color="#4c147f"/><stop offset="0.6172" stop-color="#692087"/><stop offset="0.6187" stop-color="#702288"/><stop offset="0.6202" stop-color="#702288"/><stop offset="0.6218" stop-color="#692087"/><stop offset="0.6248" stop-color="#521681"/><stop offset="0.6263" stop-color="#4c147f"/><stop offset="0.6294" stop-color="#551783"/><stop offset="0.6309" stop-color="#561783"/><stop offset="0.6324" stop-color="#4e1580"/><stop offset="0.6339" stop-color="#3c1274"/><stop offset="0.6355" stop-color="#1c1147"/><stop offset="0.6370" stop-color="#03030d"/><stop offset="0.6385" stop-color="#000004"/><stop offset="0.6446" stop-color="#000004"/><stop offset="0.6461" stop-color="#010108"/><stop offset="0.6476" stop-color="#140e38"/><stop offset="0.6492" stop-color="#2a1360"/><stop offset="0.6507" stop-color="#391272"/><stop offset="0.6522" stop-color="#3e1276"/><stop offset="0.6553" stop-color="#371271"/><stop offset="0.6568" stop-color="#401278"/><stop offset="0.6598" stop-color="#611c85"/><stop offset="0.6613" stop-color="#6c2187"/><stop offset="0.6629" stop-color="#702288"/><stop offset="0.6644" stop-color="#6d2187"/><stop offset="0.6689" stop-color="#511681"/><stop offset="0.6735" stop-color="#5d1a85"/><stop offset="0.6750" stop-color="#5b1984"/><stop offset="0.6766" stop-color="#4f1580"/><stop offset="0.6781" stop-color="#37126f"/><stop offset="0.6796" stop-color="#181040"/><stop offset="0.6811" stop-color="#02020b"/><stop offset="0.6826" stop-color="#000004"/><stop offset="0.6887" stop-color="#000004"/><stop offset="0.6903" stop-color="#03020d"/><stop offset="0.6918" stop-color="#130e37"/><stop offset="0.6933" stop-color="#251358"/><stop offset="0.6948" stop-color="#2f1367"/><stop offset="0.6979" stop-color="#2c1362"/><stop offset="0.6994" stop-color="#301368"/><stop offset="0.7024" stop-color="#551782"/><stop offset="0.7040" stop-color="#641d86"/><stop offset="0.7055" stop-color="#6d2187"/><stop offset="0.7070" stop-color="#6e2187"/><stop offset="0.7116" stop-color="#551783"/><stop offset="0.7131" stop-color="#541782"/><stop offset="0.7161" stop-color="#601c85"/><stop offset="0.7177" stop-color="#621c86"/><stop offset="0.7192" stop-color="#5c1a84"/><stop offset="0.7207" stop-color="#4d157f"/><stop offset="0.7222" stop-color="#33126b"/><stop offset="0.7237" stop-color="#150f3a"/><stop offset="0.7253" stop-color="#02020d"/><stop offset="0.7268" stop-color="#000004"/><stop offset="0.7329" stop-color="#000004"/><stop offset="0.7344" stop-color="#02020c"/><stop offset="0.7359" stop-color="#100c2f"/><stop offset="0.7374" stop-color="#1d124a"/><stop offset="0.7390" stop-color="#211352"/><stop offset="0.7420" stop-color="#201350"/><stop offset="0.7435" stop-color="#2d1363"/><stop offset="0.7451" stop-color="#46137b"/><stop offset="0.7466" stop-color="#5a1984"/><stop offset="0.7481" stop-color="#671f86"/><stop offset="0.7496" stop-color="#6c2187"/><stop offset="0.7511" stop-color="#6a2087"/><stop offset="0.7557" stop-color="#551783"/><stop offset="0.7603" stop-color="#661e86"/><stop offset="0.7618" stop-color="#651e86"/><stop offset="0.7633" stop-color="#5c1a84"/><stop offset="0.7648" stop-color="#48147d"/><stop offset="0.7664" stop-color="#2d1363"/><stop offset="0.7679" stop-color="#140f39"/><stop offset="0.7694" stop-color="#090821"/><stop offset="0.7725" stop-color="#08071f"/><stop offset="0.7755" stop-color="#000004"/><stop offset="0.7770" stop-color="#000004"/><stop offset="0.7785" stop-color="#010108"/><stop offset="0.7801" stop-color="#0a0823"/><stop offset="0.7816" stop-color="#110e33"/><stop offset="0.7846" stop-color="#120e34"/><stop offset="0.7861" stop-color="#181141"/><stop offset="0.7877" stop-color="#2f1367"/><stop offset="0.7892" stop-color="#4a147e"/><stop offset="0.7907" stop-color="#5c1a85"/><stop offset="0.7922" stop-color="#671f86"/><stop offset="0.7938" stop-color="#692087"/><stop offset="0.7983" stop-color="#561783"/><stop offset="0.8044" stop-color="#6a2087"/><stop offset="0.8059" stop-color="#661e86"/><stop offset="0.8075" stop-color="#591984"/><stop offset="0.8090" stop-color="#44137b"/><stop offset="0.8105" stop-color="#2a135f"/><stop offset="0.8120" stop-color="#191143"/><stop offset="0.8166" stop-color="#150f3a"/><stop offset="0.8181" stop-color="#0a0924"/><stop offset="0.8196" stop-color="#010108"/><stop offset="0.8227" stop-color="#000004"/><stop offset="0.8257" stop-color="#040415"/><stop offset="0.8272" stop-color="#040415"/><stop offset="0.8288" stop-color="#07061c"/><stop offset="0.8303" stop-color="#17103f"/><stop offset="0.8318" stop-color="#33126b"/><stop offset="0.8333" stop-color="#4d157f"/><stop offset="0.8349" stop-color="#5e1b85"/><stop offset="0.8364" stop-color="#651e86"/><stop offset="0.8379" stop-color="#641d86"/><stop offset="0.8409" stop-color="#561883"/><stop offset="0.8425" stop-color="#551783"/><stop offset="0.8470" stop-color="#6c2187"/><stop offset="0.8486" stop-color="#6c2187"/><stop offset="0.8501" stop-color="#641e86"/><stop offset="0.8516" stop-color="#551783"/><stop offset="0.8531" stop-color="#401277"/><stop offset="0.8546" stop-color="#2b1361"/><stop offset="0.8562" stop-color="#231356"/><stop offset="0.8592" stop-color="#251359"/><stop offset="0.8607" stop-color="#1e124c"/><stop offset="0.8638" stop-color="#010108"/><stop offset="0.8653" stop-color="#000004"/><stop offset="0.8714" stop-color="#000004"/><stop offset="0.8729" stop-color="#030310"/><stop offset="0.8744" stop-color="#191042"/><stop offset="0.8760" stop-color="#381270"/><stop offset="0.8775" stop-color="#511681"/><stop offset="0.8790" stop-color="#5d1a85"/><stop offset="0.8805" stop-color="#601c85"/><stop offset="0.8851" stop-color="#531682"/><stop offset="0.8866" stop-color="#571883"/><stop offset="0.8896" stop-color="#6c2187"/><stop offset="0.8912" stop-color="#702288"/><stop offset="0.8927" stop-color="#6c2187"/><stop offset="0.8942" stop-color="#621c86"/><stop offset="0.8957" stop-color="#511681"/><stop offset="0.8973" stop-color="#3c1275"/><stop offset="0.8988" stop-color="#31136a"/><stop offset="0.9018" stop-color="#35126e"/><stop offset="0.9033" stop-color="#32126b"/><stop offset="0.9049" stop-color="#241357"/><stop offset="0.9079" stop-color="#010108"/><stop offset="0.9094" stop-color="#000004"/><stop offset="0.9155" stop-color="#000004"/><stop offset="0.9170" stop-color="#050413"/><stop offset="0.9186" stop-color="#1f124d"/><stop offset="0.9201" stop-color="#3d1275"/><stop offset="0.9216" stop-color="#511681"/><stop offset="0.9231" stop-color="#591984"/><stop offset="0.9247" stop-color="#5a1984"/><stop offset="0.9277" stop-color="#4f1581"/><stop offset="0.9292" stop-color="#521681"/><stop offset="0.9323" stop-color="#671f87"/><stop offset="0.9338" stop-color="#6f2288"/><stop offset="0.9353" stop-color="#702388"/><stop offset="0.9368" stop-color="#6a2087"/><stop offset="0.9384" stop-color="#5d1b85"/><stop offset="0.9414" stop-color="#3e1277"/><stop offset="0.9429" stop-color="#3b1274"/><stop offset="0.9460" stop-color="#411279"/><stop offset="0.9475" stop-color="#3a1273"/><stop offset="0.9490" stop-color="#28135c"/><stop offset="0.9505" stop-color="#0f0b2d"/><stop offset="0.9521" stop-color="#010004"/><stop offset="0.9597" stop-color="#000004"/><stop offset="0.9612" stop-color="#070618"/><stop offset="0.9627" stop-color="#231254"/><stop offset="0.9642" stop-color="#3f1277"/><stop offset="0.9658" stop-color="#4f1580"/><stop offset="0.9673" stop-color="#541782"/><stop offset="0.9718" stop-color="#4b147f"/><stop offset="0.9764" stop-color="#6c2187"/><stop offset="0.9779" stop-color="#712388"/><stop offset="0.9795" stop-color="#6f2287"/><stop offset="0.9810" stop-color="#661e86"/><stop offset="0.9840" stop-color="#4a147e"/><stop offset="0.9855" stop-color="#43127b"/><stop offset="0.9886" stop-color="#4b147f"/><stop offset="0.9901" stop-color="#4a137e"/><stop offset="0.9916" stop-color="#3f1277"/><stop offset="0.9932" stop-color="#28135c"/><stop offset="0.9947" stop-color="#0a0821"/><stop offset="0.9962" stop-color="#000004"/><stop offset="1.0000" stop-color="#000004"/></linearGradient><linearGradient id="g8" x1="0" y1="0" x2="0" y2="1"><stop offset="0.0000" stop-color="#ef8f65"/><stop offset="0.0525" stop-color="#f0a672"/><stop offset="0.0738" stop-color="#f0aa74"/><stop offset="0.1073" stop-color="#f0a873"/><stop offset="0.1545" stop-color="#ef9468"/><stop offset="0.2017" stop-color="#ec6d5d"/><stop offset="0.2397" stop-color="#de4e69"/><stop offset="0.2778" stop-color="#cc4276"/><stop offset="0.3143" stop-color="#cc4276"/><stop offset="0.3447" stop-color="#d9496d"/><stop offset="0.3508" stop-color="#d6486f"/><stop offset="0.3554" stop-color="#db4c6b"/><stop offset="0.3630" stop-color="#da4a6c"/><stop offset="0.3691" stop-color="#df4f68"/><stop offset="0.3752" stop-color="#dc4c6a"/><stop offset="0.3813" stop-color="#e05167"/><stop offset="0.4787" stop-color="#e45663"/><stop offset="0.5091" stop-color="#e25265"/><stop offset="0.6035" stop-color="#ea655d"/><stop offset="0.6568" stop-color="#e9625e"/><stop offset="0.7070" stop-color="#ec6d5d"/><stop offset="0.7161" stop-color="#ed745d"/><stop offset="0.7207" stop-color="#ed725d"/><stop offset="0.7390" stop-color="#ed7c5f"/><stop offset="0.7481" stop-color="#ed7d5f"/><stop offset="0.7527" stop-color="#ee8260"/><stop offset="0.7603" stop-color="#ee8060"/><stop offset="0.7648" stop-color="#ee8562"/><stop offset="0.7709" stop-color="#ee8260"/><stop offset="0.7785" stop-color="#ee8863"/><stop offset="0.7831" stop-color="#ee8461"/><stop offset="0.7892" stop-color="#ee8863"/><stop offset="0.7968" stop-color="#ee8461"/><stop offset="0.8257" stop-color="#ee8662"/><stop offset="0.8455" stop-color="#ef8e65"/><stop offset="0.8805" stop-color="#f0ae76"/><stop offset="0.9353" stop-color="#f1e5a6"/><stop offset="0.9734" stop-color="#f1fbbd"/><stop offset="1.0000" stop-color="#f2ffc1"/></linearGradient><linearGradient id="g9" x1="0" y1="0" x2="0" y2="1"><stop offset="0.0000" stop-color="#ee8c64"/><stop offset="0.0312" stop-color="#ed7a5e"/><stop offset="0.0586" stop-color="#e85e5f"/><stop offset="0.0708" stop-color="#e05166"/><stop offset="0.0845" stop-color="#d14572"/><stop offset="0.1058" stop-color="#be3d7d"/><stop offset="0.1119" stop-color="#c33f7b"/><stop offset="0.1195" stop-color="#bf3d7d"/><stop offset="0.1240" stop-color="#ca4177"/><stop offset="0.1301" stop-color="#cb4276"/><stop offset="0.1377" stop-color="#d8496e"/><stop offset="0.1591" stop-color="#e55762"/><stop offset="0.1712" stop-color="#e9625e"/><stop offset="0.1758" stop-color="#e9605e"/><stop offset="0.1834" stop-color="#eb6a5d"/><stop offset="0.1895" stop-color="#eb685d"/><stop offset="0.2108" stop-color="#ed705d"/><stop offset="0.2397" stop-color="#ec6f5d"/><stop offset="0.3189" stop-color="#e45663"/><stop offset="0.3524" stop-color="#e25365"/><stop offset="0.3569" stop-color="#df4f68"/><stop offset="0.3630" stop-color="#e25365"/><stop offset="0.3691" stop-color="#dd4d6a"/><stop offset="0.3752" stop-color="#e15166"/><stop offset="0.3798" stop-color="#dc4c6a"/><stop offset="0.4056" stop-color="#dc4c6b"/><stop offset="0.4117" stop-color="#d8496e"/><stop offset="0.4178" stop-color="#dc4c6b"/><stop offset="0.4239" stop-color="#d7486e"/><stop offset="0.4437" stop-color="#da4a6c"/><stop offset="0.4619" stop-color="#e15166"/><stop offset="0.5122" stop-color="#e85f5f"/><stop offset="0.5304" stop-color="#e75c60"/><stop offset="0.5365" stop-color="#e9605e"/><stop offset="0.5426" stop-color="#e65a61"/><stop offset="0.5487" stop-color="#e85f5f"/><stop offset="0.5563" stop-color="#e55862"/><stop offset="0.5624" stop-color="#e75b60"/><stop offset="0.5700" stop-color="#e35563"/><stop offset="0.5761" stop-color="#e65961"/><stop offset="0.5807" stop-color="#e35464"/><stop offset="0.5868" stop-color="#e55862"/><stop offset="0.5928" stop-color="#e35464"/><stop offset="0.5974" stop-color="#e65961"/><stop offset="0.6035" stop-color="#e45564"/><stop offset="0.6096" stop-color="#e75b60"/><stop offset="0.6172" stop-color="#e65a61"/><stop offset="0.6400" stop-color="#eb685d"/><stop offset="0.6872" stop-color="#ed7b5e"/><stop offset="0.7192" stop-color="#ed775e"/><stop offset="0.7527" stop-color="#eb6a5d"/><stop offset="0.7603" stop-color="#ec6e5d"/><stop offset="0.7664" stop-color="#eb685d"/><stop offset="0.7725" stop-color="#ed725d"/><stop offset="0.7785" stop-color="#ec6d5d"/><stop offset="0.7831" stop-color="#ed775e"/><stop offset="0.7907" stop-color="#ed785e"/><stop offset="0.7968" stop-color="#ee8461"/><stop offset="0.8029" stop-color="#ee8863"/><stop offset="0.8257" stop-color="#f0a772"/><stop offset="0.8470" stop-color="#efbc80"/><stop offset="0.8714" stop-color="#f0c98b"/><stop offset="0.8896" stop-color="#f0cb8e"/><stop offset="0.9079" stop-color="#f0c588"/><stop offset="0.9292" stop-color="#efb47a"/><stop offset="0.9475" stop-color="#ef996a"/><stop offset="0.9612" stop-color="#ed7a5e"/><stop offset="0.9703" stop-color="#ea665d"/><stop offset="0.9764" stop-color="#dc4c6a"/><stop offset="0.9825" stop-color="#db4c6b"/><stop offset="0.9840" stop-color="#d24672"/><stop offset="0.9855" stop-color="#bf3e7d"/><stop offset="0.9871" stop-color="#a33486"/><stop offset="0.9886" stop-color="#973087"/><stop offset="0.9916" stop-color="#c03e7c"/><stop offset="0.9932" stop-color="#cc4276"/><stop offset="0.9947" stop-color="#cb4276"/><stop offset="0.9962" stop-color="#ba3c7f"/><stop offset="0.9977" stop-color="#8e2d87"/><stop offset="0.9992" stop-color="#240c41"/><stop offset="1.0000" stop-color="#240c41"/></linearGradient><linearGradient id="g10" x1="0" y1="0" x2="0" y2="1"><stop offset="0.0000" stop-color="#ef9e6d"/><stop offset="0.0525" stop-color="#ef9267"/><stop offset="0.0875" stop-color="#ed8060"/><stop offset="0.1210" stop-color="#eb685d"/><stop offset="0.1423" stop-color="#e25365"/><stop offset="0.1636" stop-color="#d54770"/><stop offset="0.1697" stop-color="#cd4375"/><stop offset="0.1834" stop-color="#c64079"/><stop offset="0.2139" stop-color="#d8496e"/><stop offset="0.2352" stop-color="#e45564"/><stop offset="0.2808" stop-color="#eb6a5d"/><stop offset="0.3174" stop-color="#eb685d"/><stop offset="0.3402" stop-color="#e85f5f"/><stop offset="0.3752" stop-color="#e55862"/><stop offset="0.4452" stop-color="#e85f5f"/><stop offset="0.4726" stop-color="#e75a61"/><stop offset="0.4787" stop-color="#e45563"/><stop offset="0.4833" stop-color="#e55862"/><stop offset="0.5030" stop-color="#de4e69"/><stop offset="0.5289" stop-color="#dc4c6b"/><stop offset="0.5472" stop-color="#e05067"/><stop offset="0.5533" stop-color="#e65862"/><stop offset="0.5594" stop-color="#e45563"/><stop offset="0.5654" stop-color="#e85f5f"/><stop offset="0.5715" stop-color="#e85d5f"/><stop offset="0.5791" stop-color="#eb675d"/><stop offset="0.5913" stop-color="#ec6d5d"/><stop offset="0.6218" stop-color="#ed765d"/><stop offset="0.6446" stop-color="#ed705d"/><stop offset="0.6887" stop-color="#e55862"/><stop offset="0.7009" stop-color="#e55862"/><stop offset="0.7146" stop-color="#e85e5f"/><stop offset="0.7390" stop-color="#ed785e"/><stop offset="0.7466" stop-color="#ee8562"/><stop offset="0.7785" stop-color="#f0aa74"/><stop offset="0.8014" stop-color="#efb87d"/><stop offset="0.8212" stop-color="#efbc80"/><stop offset="0.8394" stop-color="#efb87d"/><stop offset="0.8638" stop-color="#f0a773"/><stop offset="0.8805" stop-color="#ef9568"/><stop offset="0.9049" stop-color="#ec6f5d"/><stop offset="0.9201" stop-color="#e35464"/><stop offset="0.9353" stop-color="#c84178"/><stop offset="0.9429" stop-color="#bc3c7e"/><stop offset="0.9490" stop-color="#a43586"/><stop offset="0.9551" stop-color="#a13486"/><stop offset="0.9566" stop-color="#9b3287"/><stop offset="0.9612" stop-color="#742488"/><stop offset="0.9627" stop-color="#752488"/><stop offset="0.9658" stop-color="#872b88"/><stop offset="0.9673" stop-color="#892c88"/><stop offset="0.9688" stop-color="#812988"/><stop offset="0.9718" stop-color="#5b1a84"/><stop offset="0.9734" stop-color="#521682"/><stop offset="0.9779" stop-color="#772588"/><stop offset="0.9795" stop-color="#772588"/><stop offset="0.9810" stop-color="#6e2187"/><stop offset="0.9825" stop-color="#5c1a84"/><stop offset="0.9840" stop-color="#45137b"/><stop offset="0.9855" stop-color="#371270"/><stop offset="0.9886" stop-color="#44127b"/><stop offset="0.9901" stop-color="#46127c"/><stop offset="0.9916" stop-color="#3d1276"/><stop offset="0.9932" stop-color="#27135b"/><stop offset="0.9947" stop-color="#0a0821"/><stop offset="0.9962" stop-color="#000004"/><stop offset="1.0000" stop-color="#000004"/></linearGradient><linearGradient id="g11" x1="0" y1="0" x2="0" y2="1"><stop offset="0.0000" stop-color="#e15266"/><stop offset="0.0053" stop-color="#e45563"/><stop offset="0.0114" stop-color="#dc4c6a"/><stop offset="0.0160" stop-color="#e25265"/><stop offset="0.0236" stop-color="#df4f68"/><stop offset="0.0282" stop-color="#e35564"/><stop offset="0.0327" stop-color="#e35464"/><stop offset="0.0571" stop-color="#ec6c5d"/><stop offset="0.0967" stop-color="#ef9066"/><stop offset="0.1180" stop-color="#ef986a"/><stop offset="0.1423" stop-color="#ef9a6b"/><stop offset="0.1636" stop-color="#ef9267"/><stop offset="0.1849" stop-color="#ee8461"/><stop offset="0.2078" stop-color="#ec6d5d"/><stop offset="0.2260" stop-color="#e65961"/><stop offset="0.2367" stop-color="#dd4d6a"/><stop offset="0.2489" stop-color="#c94177"/><stop offset="0.2565" stop-color="#b23983"/><stop offset="0.2626" stop-color="#aa3785"/><stop offset="0.2702" stop-color="#8f2e88"/><stop offset="0.2778" stop-color="#8c2d88"/><stop offset="0.2839" stop-color="#822988"/><stop offset="0.2900" stop-color="#922f88"/><stop offset="0.2960" stop-color="#973187"/><stop offset="0.3021" stop-color="#aa3784"/><stop offset="0.3082" stop-color="#b43a82"/><stop offset="0.3143" stop-color="#c23e7c"/><stop offset="0.3265" stop-color="#d44671"/><stop offset="0.3402" stop-color="#e05167"/><stop offset="0.3645" stop-color="#e85f5f"/><stop offset="0.3919" stop-color="#ea635e"/><stop offset="0.4132" stop-color="#e85f5f"/><stop offset="0.4422" stop-color="#e15166"/><stop offset="0.4741" stop-color="#df4f68"/><stop offset="0.5000" stop-color="#e65a61"/><stop offset="0.5274" stop-color="#ec6d5d"/><stop offset="0.5609" stop-color="#ed725d"/><stop offset="0.6020" stop-color="#e85d5f"/><stop offset="0.6081" stop-color="#e45563"/><stop offset="0.6142" stop-color="#e45663"/><stop offset="0.6218" stop-color="#de4e69"/><stop offset="0.6400" stop-color="#dd4d6a"/><stop offset="0.6522" stop-color="#e15266"/><stop offset="0.6781" stop-color="#ec705d"/><stop offset="0.7146" stop-color="#ef9b6c"/><stop offset="0.7374" stop-color="#f0ac75"/><stop offset="0.7496" stop-color="#f0b078"/><stop offset="0.7709" stop-color="#f0b078"/><stop offset="0.7968" stop-color="#f0a470"/><stop offset="0.8181" stop-color="#ef9267"/><stop offset="0.8455" stop-color="#ec705d"/><stop offset="0.8592" stop-color="#e75c60"/><stop offset="0.8744" stop-color="#d6486f"/><stop offset="0.8912" stop-color="#b83b80"/><stop offset="0.8973" stop-color="#a73685"/><stop offset="0.9033" stop-color="#9a3187"/><stop offset="0.9110" stop-color="#812988"/><stop offset="0.9155" stop-color="#7d2788"/><stop offset="0.9216" stop-color="#6f2287"/><stop offset="0.9277" stop-color="#762588"/><stop offset="0.9353" stop-color="#671f87"/><stop offset="0.9399" stop-color="#6e2287"/><stop offset="0.9414" stop-color="#6c2187"/><stop offset="0.9460" stop-color="#531682"/><stop offset="0.9475" stop-color="#531682"/><stop offset="0.9521" stop-color="#631d86"/><stop offset="0.9581" stop-color="#4d1480"/><stop offset="0.9627" stop-color="#5c1a85"/><stop offset="0.9658" stop-color="#5b1984"/><stop offset="0.9703" stop-color="#46127c"/><stop offset="0.9764" stop-color="#391272"/><stop offset="0.9779" stop-color="#2e1365"/><stop offset="0.9795" stop-color="#201350"/><stop offset="0.9825" stop-color="#080820"/><stop offset="0.9840" stop-color="#02020d"/><stop offset="0.9855" stop-color="#000004"/><stop offset="1.0000" stop-color="#000004"/></linearGradient><linearGradient id="g12" x1="0" y1="0" x2="0" y2="1"><stop offset="0.0000" stop-color="#ed7f60"/><stop offset="0.0708" stop-color="#eb6a5d"/><stop offset="0.1088" stop-color="#ed8060"/><stop offset="0.1149" stop-color="#ee8a63"/><stop offset="0.1225" stop-color="#ef8d65"/><stop offset="0.1271" stop-color="#ef9568"/><stop offset="0.1591" stop-color="#f0aa74"/><stop offset="0.1819" stop-color="#f0b279"/><stop offset="0.2184" stop-color="#f0b078"/><stop offset="0.2428" stop-color="#f0a672"/><stop offset="0.2671" stop-color="#ef9568"/><stop offset="0.3021" stop-color="#ed735d"/><stop offset="0.3250" stop-color="#e65961"/><stop offset="0.3371" stop-color="#da4b6c"/><stop offset="0.3478" stop-color="#c74079"/><stop offset="0.3539" stop-color="#b43a82"/><stop offset="0.3600" stop-color="#aa3685"/><stop offset="0.3661" stop-color="#8f2e88"/><stop offset="0.3721" stop-color="#892c88"/><stop offset="0.3782" stop-color="#712388"/><stop offset="0.3843" stop-color="#7b2788"/><stop offset="0.3919" stop-color="#792688"/><stop offset="0.3980" stop-color="#8f2e88"/><stop offset="0.4072" stop-color="#a23486"/><stop offset="0.4148" stop-color="#bd3d7e"/><stop offset="0.4209" stop-color="#c43f7b"/><stop offset="0.4285" stop-color="#d6486f"/><stop offset="0.4543" stop-color="#e85d60"/><stop offset="0.4756" stop-color="#eb6a5d"/><stop offset="0.5015" stop-color="#ec6d5d"/><stop offset="0.5350" stop-color="#e85d60"/><stop offset="0.5396" stop-color="#e45563"/><stop offset="0.5457" stop-color="#e45663"/><stop offset="0.5518" stop-color="#dd4d69"/><stop offset="0.5578" stop-color="#df4f68"/><stop offset="0.5639" stop-color="#d7486e"/><stop offset="0.5685" stop-color="#da4b6c"/><stop offset="0.5761" stop-color="#d6486f"/><stop offset="0.6005" stop-color="#e45563"/><stop offset="0.6218" stop-color="#ec6f5d"/><stop offset="0.6400" stop-color="#ee8562"/><stop offset="0.6629" stop-color="#ef9a6b"/><stop offset="0.6826" stop-color="#f0a470"/><stop offset="0.7085" stop-color="#f0a873"/><stop offset="0.7344" stop-color="#ef9f6e"/><stop offset="0.7557" stop-color="#ef9167"/><stop offset="0.7740" stop-color="#ed7b5f"/><stop offset="0.7922" stop-color="#eb685d"/><stop offset="0.8196" stop-color="#d94a6d"/><stop offset="0.8394" stop-color="#bb3c7f"/><stop offset="0.8440" stop-color="#af3883"/><stop offset="0.8516" stop-color="#a53586"/><stop offset="0.8577" stop-color="#922f88"/><stop offset="0.8638" stop-color="#8b2c88"/><stop offset="0.8699" stop-color="#7b2788"/><stop offset="0.8775" stop-color="#712388"/><stop offset="0.8866" stop-color="#561883"/><stop offset="0.8912" stop-color="#44127b"/><stop offset="0.8957" stop-color="#2b1362"/><stop offset="0.9064" stop-color="#33126b"/><stop offset="0.9094" stop-color="#42127a"/><stop offset="0.9125" stop-color="#511681"/><stop offset="0.9247" stop-color="#5c1a85"/><stop offset="0.9323" stop-color="#501581"/><stop offset="0.9368" stop-color="#541782"/><stop offset="0.9429" stop-color="#4d147f"/><stop offset="0.9505" stop-color="#521682"/><stop offset="0.9597" stop-color="#42127a"/><stop offset="0.9627" stop-color="#381272"/><stop offset="0.9658" stop-color="#28135d"/><stop offset="0.9688" stop-color="#181140"/><stop offset="0.9749" stop-color="#010005"/><stop offset="1.0000" stop-color="#000004"/></linearGradient><linearGradient id="g13" x1="0" y1="0" x2="0" y2="1"><stop offset="0.0000" stop-color="#ec6d5d"/><stop offset="0.0251" stop-color="#ed7f60"/><stop offset="0.0449" stop-color="#ee8863"/><stop offset="0.0616" stop-color="#ee8863"/><stop offset="0.0860" stop-color="#ee7e5f"/><stop offset="0.1058" stop-color="#ec6c5d"/><stop offset="0.1301" stop-color="#e45663"/><stop offset="0.1438" stop-color="#e35464"/><stop offset="0.1591" stop-color="#e65a61"/><stop offset="0.1819" stop-color="#ed745d"/><stop offset="0.2017" stop-color="#ef9267"/><stop offset="0.2230" stop-color="#f0a974"/><stop offset="0.2473" stop-color="#efba7f"/><stop offset="0.2732" stop-color="#efbf83"/><stop offset="0.3143" stop-color="#efb47a"/><stop offset="0.3478" stop-color="#efa06e"/><stop offset="0.3919" stop-color="#ed7e5f"/><stop offset="0.4087" stop-color="#ed785e"/><stop offset="0.4482" stop-color="#e75c60"/><stop offset="0.4680" stop-color="#da4a6d"/><stop offset="0.4802" stop-color="#ca4177"/><stop offset="0.4863" stop-color="#bc3c7e"/><stop offset="0.5015" stop-color="#a73685"/><stop offset="0.5152" stop-color="#a93685"/><stop offset="0.5350" stop-color="#ca4277"/><stop offset="0.5411" stop-color="#d8496e"/><stop offset="0.5533" stop-color="#e55862"/><stop offset="0.5700" stop-color="#ec6d5d"/><stop offset="0.5944" stop-color="#ee8963"/><stop offset="0.6294" stop-color="#ef9e6d"/><stop offset="0.6553" stop-color="#efa06e"/><stop offset="0.6826" stop-color="#ef9669"/><stop offset="0.7055" stop-color="#ee8662"/><stop offset="0.7131" stop-color="#ed7c5f"/><stop offset="0.7283" stop-color="#ed725d"/><stop offset="0.7344" stop-color="#eb665d"/><stop offset="0.7390" stop-color="#eb665d"/><stop offset="0.7466" stop-color="#e65961"/><stop offset="0.7725" stop-color="#d04473"/><stop offset="0.7938" stop-color="#ae3884"/><stop offset="0.8029" stop-color="#a43486"/><stop offset="0.8075" stop-color="#973087"/><stop offset="0.8135" stop-color="#902e88"/><stop offset="0.8166" stop-color="#882b88"/><stop offset="0.8212" stop-color="#7a2688"/><stop offset="0.8288" stop-color="#702288"/><stop offset="0.8349" stop-color="#601c85"/><stop offset="0.8425" stop-color="#5a1984"/><stop offset="0.8501" stop-color="#411279"/><stop offset="0.8562" stop-color="#36126f"/><stop offset="0.8623" stop-color="#36126f"/><stop offset="0.8668" stop-color="#2c1363"/><stop offset="0.8729" stop-color="#371270"/><stop offset="0.8744" stop-color="#34126d"/><stop offset="0.8790" stop-color="#221354"/><stop offset="0.8805" stop-color="#221353"/><stop offset="0.8851" stop-color="#2c1364"/><stop offset="0.8912" stop-color="#301369"/><stop offset="0.8973" stop-color="#48137d"/><stop offset="0.9079" stop-color="#561783"/><stop offset="0.9277" stop-color="#4a147e"/><stop offset="0.9384" stop-color="#4b147f"/><stop offset="0.9460" stop-color="#42127a"/><stop offset="0.9505" stop-color="#35126e"/><stop offset="0.9566" stop-color="#1c1248"/><stop offset="0.9612" stop-color="#08071f"/><stop offset="0.9642" stop-color="#000004"/><stop offset="1.0000" stop-color="#000004"/></linearGradient><linearGradient id="g14" x1="0" y1="0" x2="0" y2="1"><stop offset="0.0000" stop-color="#b83b80"/><stop offset="0.0068" stop-color="#b93b80"/><stop offset="0.0129" stop-color="#a93685"/><stop offset="0.0190" stop-color="#aa3784"/><stop offset="0.0251" stop-color="#9d3287"/><stop offset="0.0358" stop-color="#9a3187"/><stop offset="0.0403" stop-color="#a03386"/><stop offset="0.0479" stop-color="#a03386"/><stop offset="0.0540" stop-color="#b03883"/><stop offset="0.0601" stop-color="#b43a82"/><stop offset="0.0677" stop-color="#c53f7a"/><stop offset="0.0830" stop-color="#d94a6d"/><stop offset="0.1073" stop-color="#e75c60"/><stop offset="0.1317" stop-color="#eb675d"/><stop offset="0.1530" stop-color="#ea645d"/><stop offset="0.1743" stop-color="#e65961"/><stop offset="0.1971" stop-color="#d44671"/><stop offset="0.2032" stop-color="#c84178"/><stop offset="0.2093" stop-color="#c43f7a"/><stop offset="0.2154" stop-color="#b63a81"/><stop offset="0.2215" stop-color="#b63b81"/><stop offset="0.2260" stop-color="#b03983"/><stop offset="0.2306" stop-color="#ba3c7f"/><stop offset="0.2352" stop-color="#b83b80"/><stop offset="0.2428" stop-color="#d04473"/><stop offset="0.2473" stop-color="#d04473"/><stop offset="0.2534" stop-color="#e15266"/><stop offset="0.2595" stop-color="#e35564"/><stop offset="0.2656" stop-color="#eb665d"/><stop offset="0.2717" stop-color="#ec6c5d"/><stop offset="0.2778" stop-color="#ed7c5f"/><stop offset="0.2839" stop-color="#ee8160"/><stop offset="0.2900" stop-color="#ef8f65"/><stop offset="0.3158" stop-color="#f0ad76"/><stop offset="0.3387" stop-color="#efbd81"/><stop offset="0.3645" stop-color="#f0c386"/><stop offset="0.4041" stop-color="#efb67c"/><stop offset="0.4315" stop-color="#efa16f"/><stop offset="0.4528" stop-color="#ee8a63"/><stop offset="0.4772" stop-color="#ed795e"/><stop offset="0.5046" stop-color="#ed795e"/><stop offset="0.5578" stop-color="#ef9669"/><stop offset="0.5974" stop-color="#ef9a6b"/><stop offset="0.6339" stop-color="#ee8b64"/><stop offset="0.6720" stop-color="#ec6b5d"/><stop offset="0.6766" stop-color="#ec6b5d"/><stop offset="0.6842" stop-color="#e9605f"/><stop offset="0.6903" stop-color="#e85e5f"/><stop offset="0.6963" stop-color="#e35464"/><stop offset="0.7009" stop-color="#e35564"/><stop offset="0.7070" stop-color="#db4b6b"/><stop offset="0.7131" stop-color="#da4b6c"/><stop offset="0.7192" stop-color="#ce4375"/><stop offset="0.7237" stop-color="#cb4276"/><stop offset="0.7390" stop-color="#b03883"/><stop offset="0.7451" stop-color="#ab3784"/><stop offset="0.7679" stop-color="#802888"/><stop offset="0.7755" stop-color="#802888"/><stop offset="0.7801" stop-color="#762588"/><stop offset="0.7861" stop-color="#782688"/><stop offset="0.7922" stop-color="#611c85"/><stop offset="0.7983" stop-color="#5b1a84"/><stop offset="0.8029" stop-color="#46127c"/><stop offset="0.8044" stop-color="#44127b"/><stop offset="0.8105" stop-color="#5a1984"/><stop offset="0.8166" stop-color="#5e1b85"/><stop offset="0.8227" stop-color="#6a2087"/><stop offset="0.8333" stop-color="#5a1984"/><stop offset="0.8409" stop-color="#47137d"/><stop offset="0.8516" stop-color="#501581"/><stop offset="0.8577" stop-color="#4d1480"/><stop offset="0.8623" stop-color="#46137c"/><stop offset="0.8653" stop-color="#391273"/><stop offset="0.8683" stop-color="#261359"/><stop offset="0.8714" stop-color="#110e33"/><stop offset="0.8760" stop-color="#010107"/><stop offset="0.8790" stop-color="#000004"/><stop offset="0.8805" stop-color="#010106"/><stop offset="0.8836" stop-color="#0a0923"/><stop offset="0.8866" stop-color="#191143"/><stop offset="0.8896" stop-color="#2a135f"/><stop offset="0.8912" stop-color="#32126a"/><stop offset="0.8942" stop-color="#3e1277"/><stop offset="0.8988" stop-color="#48137d"/><stop offset="0.9064" stop-color="#4d147f"/><stop offset="0.9262" stop-color="#49137e"/><stop offset="0.9338" stop-color="#401279"/><stop offset="0.9399" stop-color="#301368"/><stop offset="0.9429" stop-color="#251358"/><stop offset="0.9460" stop-color="#191142"/><stop offset="0.9505" stop-color="#07071d"/><stop offset="0.9536" stop-color="#000004"/><stop offset="1.0000" stop-color="#000004"/></linearGradient><linearGradient id="g15" x1="0" y1="0" x2="0" y2="1"><stop offset="0.0000" stop-color="#641d86"/><stop offset="0.0053" stop-color="#511681"/><stop offset="0.0068" stop-color="#501581"/><stop offset="0.0129" stop-color="#621d86"/><stop offset="0.0190" stop-color="#5c1a85"/><stop offset="0.0251" stop-color="#6b2087"/><stop offset="0.0312" stop-color="#671f87"/><stop offset="0.0373" stop-color="#6d2187"/><stop offset="0.0434" stop-color="#621d86"/><stop offset="0.0495" stop-color="#681f87"/><stop offset="0.0556" stop-color="#5d1a85"/><stop offset="0.0601" stop-color="#691f87"/><stop offset="0.0677" stop-color="#621c86"/><stop offset="0.0738" stop-color="#6e2287"/><stop offset="0.0799" stop-color="#651e86"/><stop offset="0.0860" stop-color="#6d2187"/><stop offset="0.0921" stop-color="#651e86"/><stop offset="0.0982" stop-color="#6b2087"/><stop offset="0.1043" stop-color="#691f87"/><stop offset="0.1119" stop-color="#6e2287"/><stop offset="0.1317" stop-color="#702288"/><stop offset="0.1545" stop-color="#822988"/><stop offset="0.1621" stop-color="#832a88"/><stop offset="0.1667" stop-color="#8b2c88"/><stop offset="0.1728" stop-color="#8a2c88"/><stop offset="0.1788" stop-color="#942f88"/><stop offset="0.1849" stop-color="#953088"/><stop offset="0.1895" stop-color="#9d3287"/><stop offset="0.1956" stop-color="#9d3287"/><stop offset="0.2032" stop-color="#a73585"/><stop offset="0.2093" stop-color="#a53585"/><stop offset="0.2139" stop-color="#ac3784"/><stop offset="0.2199" stop-color="#a83685"/><stop offset="0.2260" stop-color="#af3883"/><stop offset="0.2306" stop-color="#a93685"/><stop offset="0.2367" stop-color="#af3883"/><stop offset="0.2428" stop-color="#a73685"/><stop offset="0.2473" stop-color="#ae3884"/><stop offset="0.2534" stop-color="#a43586"/><stop offset="0.2595" stop-color="#ac3784"/><stop offset="0.2656" stop-color="#9d3287"/><stop offset="0.2717" stop-color="#a53586"/><stop offset="0.2778" stop-color="#8a2c88"/><stop offset="0.2823" stop-color="#9b3287"/><stop offset="0.2839" stop-color="#9d3287"/><stop offset="0.2854" stop-color="#983187"/><stop offset="0.2884" stop-color="#842a88"/><stop offset="0.2900" stop-color="#802988"/><stop offset="0.2945" stop-color="#9a3187"/><stop offset="0.2960" stop-color="#9d3287"/><stop offset="0.3021" stop-color="#812988"/><stop offset="0.3067" stop-color="#983187"/><stop offset="0.3082" stop-color="#993187"/><stop offset="0.3097" stop-color="#942f88"/><stop offset="0.3128" stop-color="#7d2788"/><stop offset="0.3143" stop-color="#7b2688"/><stop offset="0.3189" stop-color="#983187"/><stop offset="0.3204" stop-color="#993187"/><stop offset="0.3250" stop-color="#842a88"/><stop offset="0.3265" stop-color="#892c88"/><stop offset="0.3311" stop-color="#aa3685"/><stop offset="0.3326" stop-color="#ac3784"/><stop offset="0.3371" stop-color="#a43586"/><stop offset="0.3447" stop-color="#c13e7c"/><stop offset="0.3508" stop-color="#c03e7c"/><stop offset="0.3569" stop-color="#d34672"/><stop offset="0.3630" stop-color="#d6476f"/><stop offset="0.3706" stop-color="#e25265"/><stop offset="0.3935" stop-color="#ec6e5d"/><stop offset="0.4269" stop-color="#ef9468"/><stop offset="0.4543" stop-color="#f0a873"/><stop offset="0.4893" stop-color="#f0b47a"/><stop offset="0.5304" stop-color="#f0b078"/><stop offset="0.5533" stop-color="#f0a672"/><stop offset="0.5791" stop-color="#ef9568"/><stop offset="0.6157" stop-color="#ed755d"/><stop offset="0.6400" stop-color="#e75c60"/><stop offset="0.6689" stop-color="#d14573"/><stop offset="0.6766" stop-color="#c23e7b"/><stop offset="0.6842" stop-color="#ba3c7f"/><stop offset="0.6903" stop-color="#ac3784"/><stop offset="0.6963" stop-color="#a83685"/><stop offset="0.7024" stop-color="#983187"/><stop offset="0.7085" stop-color="#922f88"/><stop offset="0.7131" stop-color="#852a88"/><stop offset="0.7177" stop-color="#832a88"/><stop offset="0.7237" stop-color="#732388"/><stop offset="0.7298" stop-color="#712388"/><stop offset="0.7344" stop-color="#641d86"/><stop offset="0.7527" stop-color="#48137d"/><stop offset="0.7588" stop-color="#511681"/><stop offset="0.7648" stop-color="#421279"/><stop offset="0.7694" stop-color="#411279"/><stop offset="0.7725" stop-color="#35126f"/><stop offset="0.7770" stop-color="#1a1144"/><stop offset="0.7785" stop-color="#191143"/><stop offset="0.7816" stop-color="#1e134d"/><stop offset="0.7861" stop-color="#1f134e"/><stop offset="0.7877" stop-color="#221353"/><stop offset="0.7922" stop-color="#3c1275"/><stop offset="0.7968" stop-color="#4b147f"/><stop offset="0.8059" stop-color="#4c147f"/><stop offset="0.8090" stop-color="#44127b"/><stop offset="0.8135" stop-color="#2f1367"/><stop offset="0.8166" stop-color="#2d1364"/><stop offset="0.8227" stop-color="#36126f"/><stop offset="0.8288" stop-color="#541782"/><stop offset="0.8333" stop-color="#661e86"/><stop offset="0.8409" stop-color="#732488"/><stop offset="0.8455" stop-color="#742488"/><stop offset="0.8607" stop-color="#641d86"/><stop offset="0.8760" stop-color="#702288"/><stop offset="0.8805" stop-color="#702288"/><stop offset="0.8866" stop-color="#681f87"/><stop offset="0.8957" stop-color="#511681"/><stop offset="0.9049" stop-color="#381271"/><stop offset="0.9094" stop-color="#34126d"/><stop offset="0.9186" stop-color="#35126e"/><stop offset="0.9247" stop-color="#2f1367"/><stop offset="0.9277" stop-color="#29135f"/><stop offset="0.9323" stop-color="#1d124a"/><stop offset="0.9399" stop-color="#050517"/><stop offset="0.9429" stop-color="#000004"/><stop offset="1.0000" stop-color="#000004"/></linearGradient><linearGradient id="g16" x1="0" y1="0" x2="0" y2="1"><stop offset="0.0000" stop-color="#cc4276"/><stop offset="0.0205" stop-color="#d6486f"/><stop offset="0.0495" stop-color="#db4b6c"/><stop offset="0.0769" stop-color="#d7496e"/><stop offset="0.1119" stop-color="#c94177"/><stop offset="0.1347" stop-color="#c64079"/><stop offset="0.1514" stop-color="#c84078"/><stop offset="0.1849" stop-color="#d7496e"/><stop offset="0.2321" stop-color="#e35464"/><stop offset="0.2793" stop-color="#e15166"/><stop offset="0.3067" stop-color="#da4a6c"/><stop offset="0.3341" stop-color="#db4b6b"/><stop offset="0.3584" stop-color="#e25365"/><stop offset="0.3904" stop-color="#eb665d"/><stop offset="0.4285" stop-color="#ed7b5e"/><stop offset="0.4589" stop-color="#ee8461"/><stop offset="0.5046" stop-color="#ed7e5f"/><stop offset="0.5518" stop-color="#ea655d"/><stop offset="0.5746" stop-color="#e35564"/><stop offset="0.6005" stop-color="#d44671"/><stop offset="0.6187" stop-color="#bd3d7e"/><stop offset="0.6248" stop-color="#bb3c7f"/><stop offset="0.6309" stop-color="#b03883"/><stop offset="0.6370" stop-color="#b03883"/><stop offset="0.6431" stop-color="#a23486"/><stop offset="0.6492" stop-color="#a43586"/><stop offset="0.6553" stop-color="#942f88"/><stop offset="0.6613" stop-color="#983187"/><stop offset="0.6674" stop-color="#892c88"/><stop offset="0.6735" stop-color="#8e2d88"/><stop offset="0.6781" stop-color="#832a88"/><stop offset="0.6857" stop-color="#802888"/><stop offset="0.7024" stop-color="#631d86"/><stop offset="0.7070" stop-color="#561883"/><stop offset="0.7131" stop-color="#4f1580"/><stop offset="0.7177" stop-color="#42127a"/><stop offset="0.7222" stop-color="#3b1274"/><stop offset="0.7283" stop-color="#2a1360"/><stop offset="0.7329" stop-color="#27135b"/><stop offset="0.7390" stop-color="#181140"/><stop offset="0.7451" stop-color="#130f36"/><stop offset="0.7496" stop-color="#050518"/><stop offset="0.7542" stop-color="#010105"/><stop offset="0.7725" stop-color="#000004"/><stop offset="0.7801" stop-color="#07061c"/><stop offset="0.7831" stop-color="#06061a"/><stop offset="0.7922" stop-color="#000004"/><stop offset="0.8014" stop-color="#000004"/><stop offset="0.8044" stop-color="#040415"/><stop offset="0.8135" stop-color="#201351"/><stop offset="0.8166" stop-color="#27135c"/><stop offset="0.8196" stop-color="#2a135f"/><stop offset="0.8257" stop-color="#241357"/><stop offset="0.8333" stop-color="#15103b"/><stop offset="0.8364" stop-color="#140f38"/><stop offset="0.8409" stop-color="#1d124b"/><stop offset="0.8470" stop-color="#3b1274"/><stop offset="0.8516" stop-color="#511681"/><stop offset="0.8577" stop-color="#641d86"/><stop offset="0.8668" stop-color="#722388"/><stop offset="0.8912" stop-color="#792688"/><stop offset="0.8988" stop-color="#762588"/><stop offset="0.9064" stop-color="#6c2187"/><stop offset="0.9140" stop-color="#5a1984"/><stop offset="0.9201" stop-color="#43127a"/><stop offset="0.9231" stop-color="#34126d"/><stop offset="0.9247" stop-color="#2b1362"/><stop offset="0.9277" stop-color="#1c1248"/><stop offset="0.9323" stop-color="#07071d"/><stop offset="0.9353" stop-color="#010005"/><stop offset="1.0000" stop-color="#000004"/></linearGradient><linearGradient id="g17" x1="0" y1="0" x2="0" y2="1"><stop offset="0.0000" stop-color="#000004"/><stop offset="0.1758" stop-color="#000004"/><stop offset="0.1910" stop-color="#01010a"/><stop offset="0.1971" stop-color="#010106"/><stop offset="0.2017" stop-color="#02020c"/><stop offset="0.2078" stop-color="#010106"/><stop offset="0.2139" stop-color="#02020c"/><stop offset="0.2199" stop-color="#010005"/><stop offset="0.2245" stop-color="#02020c"/><stop offset="0.2306" stop-color="#000004"/><stop offset="0.2352" stop-color="#010108"/><stop offset="0.2412" stop-color="#000004"/><stop offset="0.3508" stop-color="#000004"/><stop offset="0.3584" stop-color="#010107"/><stop offset="0.3645" stop-color="#040414"/><stop offset="0.3706" stop-color="#050516"/><stop offset="0.3767" stop-color="#090822"/><stop offset="0.4224" stop-color="#1f134e"/><stop offset="0.4452" stop-color="#251358"/><stop offset="0.4696" stop-color="#26135b"/><stop offset="0.4985" stop-color="#231356"/><stop offset="0.5228" stop-color="#1b1247"/><stop offset="0.5502" stop-color="#0f0c2f"/><stop offset="0.5898" stop-color="#000004"/><stop offset="1.0000" stop-color="#000004"/></linearGradient><linearGradient id="g18" x1="0" y1="0" x2="0" y2="1"><stop offset="0.0000" stop-color="#bd3d7e"/><stop offset="0.0677" stop-color="#b43a82"/><stop offset="0.1849" stop-color="#b43a82"/><stop offset="0.3097" stop-color="#953088"/><stop offset="0.3843" stop-color="#9d3287"/><stop offset="0.4346" stop-color="#9c3287"/><stop offset="0.4924" stop-color="#852a88"/><stop offset="0.5335" stop-color="#681f87"/><stop offset="0.5639" stop-color="#4b147f"/><stop offset="0.5807" stop-color="#36126f"/><stop offset="0.6020" stop-color="#1a1245"/><stop offset="0.6202" stop-color="#07061c"/><stop offset="0.6324" stop-color="#000004"/><stop offset="1.0000" stop-color="#000004"/></linearGradient><linearGradient id="g19" x1="0" y1="0" x2="0" y2="1"><stop offset="0.0000" stop-color="#efb87d"/><stop offset="0.0358" stop-color="#f0c588"/><stop offset="0.0647" stop-color="#f0c588"/><stop offset="0.0860" stop-color="#efbf83"/><stop offset="0.1088" stop-color="#f0b37a"/><stop offset="0.1301" stop-color="#efa26f"/><stop offset="0.1591" stop-color="#ed8060"/><stop offset="0.1773" stop-color="#eb6a5d"/><stop offset="0.1834" stop-color="#e85e5f"/><stop offset="0.2017" stop-color="#da4a6c"/><stop offset="0.2093" stop-color="#c94177"/><stop offset="0.2169" stop-color="#c13e7c"/><stop offset="0.2230" stop-color="#b23983"/><stop offset="0.2321" stop-color="#aa3685"/><stop offset="0.2382" stop-color="#9d3287"/><stop offset="0.2458" stop-color="#a03386"/><stop offset="0.2519" stop-color="#9a3187"/><stop offset="0.2595" stop-color="#a53585"/><stop offset="0.2656" stop-color="#a33486"/><stop offset="0.2717" stop-color="#ae3884"/><stop offset="0.2778" stop-color="#ae3884"/><stop offset="0.2839" stop-color="#b83b80"/><stop offset="0.2900" stop-color="#b83b80"/><stop offset="0.3082" stop-color="#c84178"/><stop offset="0.3341" stop-color="#d6486f"/><stop offset="0.3691" stop-color="#df4f68"/><stop offset="0.4209" stop-color="#e05067"/><stop offset="0.4269" stop-color="#e35464"/><stop offset="0.4985" stop-color="#e15166"/><stop offset="0.6050" stop-color="#ea655d"/><stop offset="0.6705" stop-color="#ea635e"/><stop offset="0.7085" stop-color="#ec6e5d"/><stop offset="0.7161" stop-color="#ed745d"/><stop offset="0.7222" stop-color="#ed735d"/><stop offset="0.7481" stop-color="#ed7c5f"/><stop offset="0.7527" stop-color="#ee8260"/><stop offset="0.7603" stop-color="#ee8060"/><stop offset="0.7664" stop-color="#ee8662"/><stop offset="0.7725" stop-color="#ee8260"/><stop offset="0.7785" stop-color="#ee8863"/><stop offset="0.7831" stop-color="#ee8461"/><stop offset="0.7892" stop-color="#ee8863"/><stop offset="0.7968" stop-color="#ee8461"/><stop offset="0.8257" stop-color="#ee8662"/><stop offset="0.8455" stop-color="#ef8e65"/><stop offset="0.8714" stop-color="#efa470"/><stop offset="0.9170" stop-color="#f0d597"/><stop offset="0.9490" stop-color="#f1efb0"/><stop offset="0.9734" stop-color="#f1fbbd"/><stop offset="1.0000" stop-color="#f2ffc1"/></linearGradient><linearGradient id="g20" x1="0" y1="0" x2="0" y2="1"><stop offset="0.0000" stop-color="#eb675d"/><stop offset="0.0251" stop-color="#dd4d6a"/><stop offset="0.0312" stop-color="#db4b6c"/><stop offset="0.0373" stop-color="#d14573"/><stop offset="0.0449" stop-color="#d04473"/><stop offset="0.0510" stop-color="#c33f7b"/><stop offset="0.0571" stop-color="#cc4276"/><stop offset="0.0632" stop-color="#c64079"/><stop offset="0.0693" stop-color="#d24572"/><stop offset="0.0738" stop-color="#d04473"/><stop offset="0.0799" stop-color="#da4b6c"/><stop offset="0.0860" stop-color="#dd4d6a"/><stop offset="0.1088" stop-color="#eb675d"/><stop offset="0.1438" stop-color="#ee8a63"/><stop offset="0.1834" stop-color="#ef986a"/><stop offset="0.2108" stop-color="#ef8f66"/><stop offset="0.2610" stop-color="#eb6a5d"/><stop offset="0.2945" stop-color="#df4f68"/><stop offset="0.3204" stop-color="#d34671"/><stop offset="0.3402" stop-color="#d54770"/><stop offset="0.3463" stop-color="#d04473"/><stop offset="0.3524" stop-color="#d6486f"/><stop offset="0.3584" stop-color="#d04473"/><stop offset="0.3645" stop-color="#d8496e"/><stop offset="0.3706" stop-color="#d14573"/><stop offset="0.3752" stop-color="#d9496d"/><stop offset="0.3813" stop-color="#d24572"/><stop offset="0.3874" stop-color="#d7486e"/><stop offset="0.4011" stop-color="#d54770"/><stop offset="0.4072" stop-color="#d9496d"/><stop offset="0.4132" stop-color="#d54770"/><stop offset="0.4193" stop-color="#da4a6c"/><stop offset="0.4239" stop-color="#d6486f"/><stop offset="0.4635" stop-color="#e25365"/><stop offset="0.5244" stop-color="#e9605f"/><stop offset="0.5381" stop-color="#e9605e"/><stop offset="0.5441" stop-color="#e75b60"/><stop offset="0.5487" stop-color="#e85f5f"/><stop offset="0.5563" stop-color="#e65862"/><stop offset="0.5639" stop-color="#e75c60"/><stop offset="0.5700" stop-color="#e45563"/><stop offset="0.5761" stop-color="#e65961"/><stop offset="0.5822" stop-color="#e35464"/><stop offset="0.5868" stop-color="#e55862"/><stop offset="0.5928" stop-color="#e35464"/><stop offset="0.5989" stop-color="#e65961"/><stop offset="0.6050" stop-color="#e45564"/><stop offset="0.6111" stop-color="#e75c60"/><stop offset="0.6172" stop-color="#e65961"/><stop offset="0.6400" stop-color="#eb685d"/><stop offset="0.6872" stop-color="#ed7b5e"/><stop offset="0.7192" stop-color="#ed775e"/><stop offset="0.7527" stop-color="#eb6a5d"/><stop offset="0.7603" stop-color="#ec6f5d"/><stop offset="0.7664" stop-color="#eb685d"/><stop offset="0.7725" stop-color="#ed725d"/><stop offset="0.7785" stop-color="#ec6d5d"/><stop offset="0.7846" stop-color="#ed795e"/><stop offset="0.7907" stop-color="#ed785e"/><stop offset="0.7968" stop-color="#ee8361"/><stop offset="0.8029" stop-color="#ee8863"/><stop offset="0.8257" stop-color="#f0a772"/><stop offset="0.8425" stop-color="#efb87d"/><stop offset="0.8623" stop-color="#f0c588"/><stop offset="0.8820" stop-color="#f0cb8e"/><stop offset="0.8988" stop-color="#f0c98c"/><stop offset="0.9231" stop-color="#efba7f"/><stop offset="0.9475" stop-color="#ef996a"/><stop offset="0.9612" stop-color="#ed7a5e"/><stop offset="0.9703" stop-color="#ea665d"/><stop offset="0.9764" stop-color="#dc4c6a"/><stop offset="0.9825" stop-color="#db4c6b"/><stop offset="0.9840" stop-color="#d24672"/><stop offset="0.9855" stop-color="#bf3e7d"/><stop offset="0.9871" stop-color="#a33486"/><stop offset="0.9886" stop-color="#973087"/><stop offset="0.9916" stop-color="#c03e7c"/><stop offset="0.9932" stop-color="#cc4276"/><stop offset="0.9947" stop-color="#cb4276"/><stop offset="0.9962" stop-color="#ba3c7f"/><stop offset="0.9977" stop-color="#8e2d87"/><stop offset="0.9992" stop-color="#240c41"/><stop offset="1.0000" stop-color="#240c41"/></linearGradient><linearGradient id="g21" x1="0" y1="0" x2="0" y2="1"><stop offset="0.0000" stop-color="#ea635e"/><stop offset="0.0479" stop-color="#db4b6b"/><stop offset="0.0693" stop-color="#d24572"/><stop offset="0.1058" stop-color="#cc4275"/><stop offset="0.1438" stop-color="#e05167"/><stop offset="0.1499" stop-color="#e65961"/><stop offset="0.1560" stop-color="#e65961"/><stop offset="0.1743" stop-color="#ec6b5d"/><stop offset="0.2275" stop-color="#ef8e65"/><stop offset="0.2671" stop-color="#ef9267"/><stop offset="0.2945" stop-color="#ee8762"/><stop offset="0.3311" stop-color="#ec6c5d"/><stop offset="0.3524" stop-color="#e65961"/><stop offset="0.3782" stop-color="#dc4c6b"/><stop offset="0.3919" stop-color="#da4a6c"/><stop offset="0.3980" stop-color="#df4f68"/><stop offset="0.4041" stop-color="#db4b6b"/><stop offset="0.4102" stop-color="#e05067"/><stop offset="0.4163" stop-color="#dd4d69"/><stop offset="0.4330" stop-color="#e35464"/><stop offset="0.4711" stop-color="#e35563"/><stop offset="0.4848" stop-color="#e35464"/><stop offset="0.4909" stop-color="#de4e69"/><stop offset="0.5274" stop-color="#db4b6b"/><stop offset="0.5487" stop-color="#e05166"/><stop offset="0.5533" stop-color="#e55862"/><stop offset="0.5609" stop-color="#e55762"/><stop offset="0.5670" stop-color="#e85f5f"/><stop offset="0.5731" stop-color="#e85f5f"/><stop offset="0.5913" stop-color="#ec6d5d"/><stop offset="0.6202" stop-color="#ed765d"/><stop offset="0.6446" stop-color="#ed705d"/><stop offset="0.6887" stop-color="#e55862"/><stop offset="0.7009" stop-color="#e55862"/><stop offset="0.7146" stop-color="#e85e5f"/><stop offset="0.7390" stop-color="#ed785e"/><stop offset="0.7466" stop-color="#ee8562"/><stop offset="0.7785" stop-color="#f0aa74"/><stop offset="0.8014" stop-color="#efb87d"/><stop offset="0.8227" stop-color="#efbc80"/><stop offset="0.8394" stop-color="#efb87d"/><stop offset="0.8638" stop-color="#f0a773"/><stop offset="0.8805" stop-color="#ef9568"/><stop offset="0.9049" stop-color="#ec6f5d"/><stop offset="0.9201" stop-color="#e35464"/><stop offset="0.9353" stop-color="#c84178"/><stop offset="0.9429" stop-color="#bc3c7e"/><stop offset="0.9490" stop-color="#a43586"/><stop offset="0.9551" stop-color="#a13486"/><stop offset="0.9566" stop-color="#9b3287"/><stop offset="0.9612" stop-color="#742488"/><stop offset="0.9627" stop-color="#752488"/><stop offset="0.9658" stop-color="#872b88"/><stop offset="0.9673" stop-color="#892c88"/><stop offset="0.9688" stop-color="#812988"/><stop offset="0.9718" stop-color="#5b1a84"/><stop offset="0.9734" stop-color="#521682"/><stop offset="0.9779" stop-color="#772588"/><stop offset="0.9795" stop-color="#772588"/><stop offset="0.9810" stop-color="#6e2187"/><stop offset="0.9825" stop-color="#5c1a84"/><stop offset="0.9840" stop-color="#45137b"/><stop offset="0.9855" stop-color="#371270"/><stop offset="0.9886" stop-color="#44127b"/><stop offset="0.9901" stop-color="#46127c"/><stop offset="0.9916" stop-color="#3d1276"/><stop offset="0.9932" stop-color="#27135b"/><stop offset="0.9947" stop-color="#0a0821"/><stop offset="0.9962" stop-color="#000004"/><stop offset="1.0000" stop-color="#000004"/></linearGradient><linearGradient id="g22" x1="0" y1="0" x2="0" y2="1"><stop offset="0.0000" stop-color="#963088"/><stop offset="0.0038" stop-color="#a43586"/><stop offset="0.0053" stop-color="#a53585"/><stop offset="0.0068" stop-color="#9e3387"/><stop offset="0.0099" stop-color="#832988"/><stop offset="0.0114" stop-color="#7f2888"/><stop offset="0.0160" stop-color="#9b3287"/><stop offset="0.0175" stop-color="#9c3287"/><stop offset="0.0221" stop-color="#8e2d88"/><stop offset="0.0282" stop-color="#a83685"/><stop offset="0.0327" stop-color="#aa3685"/><stop offset="0.0388" stop-color="#bc3c7e"/><stop offset="0.0571" stop-color="#d94a6d"/><stop offset="0.0708" stop-color="#e45564"/><stop offset="0.0982" stop-color="#eb675d"/><stop offset="0.1210" stop-color="#eb685d"/><stop offset="0.1545" stop-color="#e55762"/><stop offset="0.1728" stop-color="#da4b6c"/><stop offset="0.1910" stop-color="#c84178"/><stop offset="0.2154" stop-color="#b73b81"/><stop offset="0.2215" stop-color="#bd3d7e"/><stop offset="0.2275" stop-color="#b73b81"/><stop offset="0.2336" stop-color="#c23e7c"/><stop offset="0.2397" stop-color="#c03e7c"/><stop offset="0.2458" stop-color="#cb4276"/><stop offset="0.2534" stop-color="#d04473"/><stop offset="0.2626" stop-color="#db4b6c"/><stop offset="0.2854" stop-color="#e85e5f"/><stop offset="0.3128" stop-color="#ed765d"/><stop offset="0.3539" stop-color="#ee8461"/><stop offset="0.3904" stop-color="#ed7c5f"/><stop offset="0.4239" stop-color="#ea655d"/><stop offset="0.4422" stop-color="#e35464"/><stop offset="0.4619" stop-color="#dc4c6b"/><stop offset="0.4863" stop-color="#dd4d69"/><stop offset="0.5000" stop-color="#e35464"/><stop offset="0.5061" stop-color="#e75b60"/><stop offset="0.5107" stop-color="#e65a61"/><stop offset="0.5183" stop-color="#ea635e"/><stop offset="0.5228" stop-color="#e9625e"/><stop offset="0.5289" stop-color="#eb6a5d"/><stop offset="0.5518" stop-color="#ec6f5d"/><stop offset="0.5731" stop-color="#ec6d5d"/><stop offset="0.6020" stop-color="#e85d60"/><stop offset="0.6218" stop-color="#de4e69"/><stop offset="0.6400" stop-color="#dd4d6a"/><stop offset="0.6537" stop-color="#e35464"/><stop offset="0.6781" stop-color="#ec705d"/><stop offset="0.7146" stop-color="#ef9b6c"/><stop offset="0.7374" stop-color="#f0ac75"/><stop offset="0.7496" stop-color="#f0b078"/><stop offset="0.7709" stop-color="#f0af77"/><stop offset="0.7953" stop-color="#f0a571"/><stop offset="0.8181" stop-color="#ef9267"/><stop offset="0.8440" stop-color="#ed725d"/><stop offset="0.8592" stop-color="#e75c60"/><stop offset="0.8744" stop-color="#d6486f"/><stop offset="0.8912" stop-color="#b83b80"/><stop offset="0.8973" stop-color="#a73685"/><stop offset="0.9033" stop-color="#9a3187"/><stop offset="0.9110" stop-color="#812988"/><stop offset="0.9155" stop-color="#7d2788"/><stop offset="0.9216" stop-color="#6f2287"/><stop offset="0.9277" stop-color="#762588"/><stop offset="0.9353" stop-color="#671f87"/><stop offset="0.9399" stop-color="#6e2287"/><stop offset="0.9414" stop-color="#6c2187"/><stop offset="0.9460" stop-color="#531682"/><stop offset="0.9475" stop-color="#531682"/><stop offset="0.9521" stop-color="#631d86"/><stop offset="0.9581" stop-color="#4d1480"/><stop offset="0.9627" stop-color="#5c1a85"/><stop offset="0.9658" stop-color="#5b1984"/><stop offset="0.9703" stop-color="#46127c"/><stop offset="0.9764" stop-color="#391272"/><stop offset="0.9779" stop-color="#2e1365"/><stop offset="0.9795" stop-color="#201350"/><stop offset="0.9825" stop-color="#080820"/><stop offset="0.9840" stop-color="#02020d"/><stop offset="0.9855" stop-color="#000004"/><stop offset="1.0000" stop-color="#000004"/></linearGradient><linearGradient id="g23" x1="0" y1="0" x2="0" y2="1"><stop offset="0.0000" stop-color="#ef8f65"/><stop offset="0.0205" stop-color="#ee8863"/><stop offset="0.0479" stop-color="#ed725d"/><stop offset="0.0723" stop-color="#e9625e"/><stop offset="0.0845" stop-color="#e9605e"/><stop offset="0.0982" stop-color="#ea655d"/><stop offset="0.1043" stop-color="#ec6d5d"/><stop offset="0.1088" stop-color="#ec6b5d"/><stop offset="0.1164" stop-color="#ed775e"/><stop offset="0.1210" stop-color="#ed755d"/><stop offset="0.1286" stop-color="#ee8060"/><stop offset="0.1347" stop-color="#ed8060"/><stop offset="0.1575" stop-color="#ef9267"/><stop offset="0.1925" stop-color="#ef9669"/><stop offset="0.2169" stop-color="#ee8a63"/><stop offset="0.2549" stop-color="#ea645e"/><stop offset="0.2793" stop-color="#d8496e"/><stop offset="0.2869" stop-color="#c94178"/><stop offset="0.2930" stop-color="#c33f7b"/><stop offset="0.2991" stop-color="#ae3884"/><stop offset="0.3052" stop-color="#ad3884"/><stop offset="0.3113" stop-color="#942f88"/><stop offset="0.3158" stop-color="#9a3187"/><stop offset="0.3174" stop-color="#983187"/><stop offset="0.3219" stop-color="#832a88"/><stop offset="0.3280" stop-color="#8b2d88"/><stop offset="0.3326" stop-color="#792688"/><stop offset="0.3387" stop-color="#8a2c88"/><stop offset="0.3432" stop-color="#822988"/><stop offset="0.3447" stop-color="#852a88"/><stop offset="0.3493" stop-color="#973187"/><stop offset="0.3539" stop-color="#993187"/><stop offset="0.3600" stop-color="#ac3784"/><stop offset="0.3661" stop-color="#b33a82"/><stop offset="0.3721" stop-color="#c23e7c"/><stop offset="0.3858" stop-color="#d54770"/><stop offset="0.4178" stop-color="#ea635e"/><stop offset="0.4543" stop-color="#ed795e"/><stop offset="0.4909" stop-color="#ed7c5f"/><stop offset="0.5137" stop-color="#ed725d"/><stop offset="0.5350" stop-color="#e9625e"/><stop offset="0.5396" stop-color="#e65a61"/><stop offset="0.5472" stop-color="#e65862"/><stop offset="0.5518" stop-color="#df5067"/><stop offset="0.5578" stop-color="#e05167"/><stop offset="0.5639" stop-color="#d9496d"/><stop offset="0.5685" stop-color="#db4b6c"/><stop offset="0.5761" stop-color="#d6486f"/><stop offset="0.6005" stop-color="#e35464"/><stop offset="0.6233" stop-color="#ec705d"/><stop offset="0.6400" stop-color="#ee8561"/><stop offset="0.6659" stop-color="#ef9b6c"/><stop offset="0.6842" stop-color="#efa470"/><stop offset="0.7100" stop-color="#f0a873"/><stop offset="0.7344" stop-color="#ef9f6e"/><stop offset="0.7557" stop-color="#ef9167"/><stop offset="0.7740" stop-color="#ed7b5f"/><stop offset="0.7922" stop-color="#eb685d"/><stop offset="0.8196" stop-color="#d94a6d"/><stop offset="0.8394" stop-color="#bb3c7f"/><stop offset="0.8440" stop-color="#b03883"/><stop offset="0.8516" stop-color="#a53586"/><stop offset="0.8577" stop-color="#922f88"/><stop offset="0.8607" stop-color="#8d2d88"/><stop offset="0.8775" stop-color="#702288"/><stop offset="0.8881" stop-color="#521682"/><stop offset="0.8912" stop-color="#44127b"/><stop offset="0.8942" stop-color="#311369"/><stop offset="0.8957" stop-color="#2c1363"/><stop offset="0.9018" stop-color="#31136a"/><stop offset="0.9049" stop-color="#301369"/><stop offset="0.9064" stop-color="#33126c"/><stop offset="0.9094" stop-color="#43127a"/><stop offset="0.9125" stop-color="#511681"/><stop offset="0.9247" stop-color="#5d1a85"/><stop offset="0.9323" stop-color="#501581"/><stop offset="0.9368" stop-color="#541782"/><stop offset="0.9429" stop-color="#4d147f"/><stop offset="0.9505" stop-color="#521682"/><stop offset="0.9597" stop-color="#42127a"/><stop offset="0.9627" stop-color="#381272"/><stop offset="0.9658" stop-color="#28135d"/><stop offset="0.9688" stop-color="#181140"/><stop offset="0.9749" stop-color="#010005"/><stop offset="1.0000" stop-color="#000004"/></linearGradient><linearGradient id="g24" x1="0" y1="0" x2="0" y2="1"><stop offset="0.0000" stop-color="#ee8662"/><stop offset="0.0388" stop-color="#ef9e6d"/><stop offset="0.0723" stop-color="#efa06e"/><stop offset="0.0997" stop-color="#ef9066"/><stop offset="0.1301" stop-color="#ec6d5d"/><stop offset="0.1423" stop-color="#ea655d"/><stop offset="0.1575" stop-color="#e9625e"/><stop offset="0.1712" stop-color="#eb695d"/><stop offset="0.1849" stop-color="#ed795e"/><stop offset="0.2260" stop-color="#f0aa74"/><stop offset="0.2489" stop-color="#efb87d"/><stop offset="0.2732" stop-color="#efba7f"/><stop offset="0.3006" stop-color="#f0ae77"/><stop offset="0.3128" stop-color="#efa370"/><stop offset="0.3341" stop-color="#ee8a63"/><stop offset="0.3402" stop-color="#ed7f5f"/><stop offset="0.3463" stop-color="#ed795e"/><stop offset="0.3524" stop-color="#ec6b5d"/><stop offset="0.3600" stop-color="#ea645e"/><stop offset="0.3645" stop-color="#e55862"/><stop offset="0.3706" stop-color="#e35564"/><stop offset="0.3767" stop-color="#d8496d"/><stop offset="0.3843" stop-color="#d14572"/><stop offset="0.3904" stop-color="#be3d7e"/><stop offset="0.3965" stop-color="#be3d7d"/><stop offset="0.4026" stop-color="#a83685"/><stop offset="0.4041" stop-color="#a73685"/><stop offset="0.4102" stop-color="#b13983"/><stop offset="0.4163" stop-color="#993187"/><stop offset="0.4178" stop-color="#993187"/><stop offset="0.4224" stop-color="#aa3785"/><stop offset="0.4239" stop-color="#aa3784"/><stop offset="0.4285" stop-color="#963088"/><stop offset="0.4300" stop-color="#942f88"/><stop offset="0.4361" stop-color="#aa3784"/><stop offset="0.4437" stop-color="#9d3287"/><stop offset="0.4498" stop-color="#aa3785"/><stop offset="0.4574" stop-color="#a23486"/><stop offset="0.4909" stop-color="#a73685"/><stop offset="0.5152" stop-color="#c43f7a"/><stop offset="0.5304" stop-color="#db4b6c"/><stop offset="0.5548" stop-color="#eb665d"/><stop offset="0.5928" stop-color="#ef8e65"/><stop offset="0.6294" stop-color="#efa06e"/><stop offset="0.6583" stop-color="#efa06e"/><stop offset="0.6842" stop-color="#ef9568"/><stop offset="0.7131" stop-color="#ed7c5f"/><stop offset="0.7177" stop-color="#ed7b5f"/><stop offset="0.7237" stop-color="#ed725d"/><stop offset="0.7283" stop-color="#ed725d"/><stop offset="0.7344" stop-color="#eb675d"/><stop offset="0.7390" stop-color="#eb665d"/><stop offset="0.7466" stop-color="#e65961"/><stop offset="0.7618" stop-color="#dc4d6a"/><stop offset="0.7740" stop-color="#ce4374"/><stop offset="0.7953" stop-color="#ab3784"/><stop offset="0.8029" stop-color="#a43486"/><stop offset="0.8075" stop-color="#973087"/><stop offset="0.8151" stop-color="#8c2d88"/><stop offset="0.8227" stop-color="#772588"/><stop offset="0.8272" stop-color="#732388"/><stop offset="0.8364" stop-color="#5e1b85"/><stop offset="0.8425" stop-color="#5b1a84"/><stop offset="0.8486" stop-color="#45127c"/><stop offset="0.8562" stop-color="#381272"/><stop offset="0.8623" stop-color="#381271"/><stop offset="0.8668" stop-color="#2d1365"/><stop offset="0.8729" stop-color="#371270"/><stop offset="0.8760" stop-color="#2f1367"/><stop offset="0.8790" stop-color="#211352"/><stop offset="0.8805" stop-color="#211351"/><stop offset="0.8851" stop-color="#2b1362"/><stop offset="0.8912" stop-color="#2e1366"/><stop offset="0.8973" stop-color="#46137c"/><stop offset="0.9079" stop-color="#551783"/><stop offset="0.9277" stop-color="#4a147e"/><stop offset="0.9384" stop-color="#4b147f"/><stop offset="0.9460" stop-color="#43127a"/><stop offset="0.9505" stop-color="#35126e"/><stop offset="0.9566" stop-color="#1c1248"/><stop offset="0.9612" stop-color="#08071f"/><stop offset="0.9642" stop-color="#000004"/><stop offset="1.0000" stop-color="#000004"/></linearGradient><linearGradient id="g25" x1="0" y1="0" x2="0" y2="1"><stop offset="0.0000" stop-color="#e85f5f"/><stop offset="0.0068" stop-color="#e85e5f"/><stop offset="0.0129" stop-color="#e45563"/><stop offset="0.0175" stop-color="#e45663"/><stop offset="0.0251" stop-color="#df4f68"/><stop offset="0.0495" stop-color="#dc4c6a"/><stop offset="0.0616" stop-color="#e25365"/><stop offset="0.0814" stop-color="#eb6a5d"/><stop offset="0.1195" stop-color="#ef8e65"/><stop offset="0.1317" stop-color="#ef9468"/><stop offset="0.1530" stop-color="#ef9669"/><stop offset="0.1743" stop-color="#ef8e65"/><stop offset="0.2047" stop-color="#ec715d"/><stop offset="0.2245" stop-color="#e95f5f"/><stop offset="0.2352" stop-color="#e75c60"/><stop offset="0.2412" stop-color="#ea635e"/><stop offset="0.2473" stop-color="#e9615e"/><stop offset="0.2534" stop-color="#ec6e5d"/><stop offset="0.2595" stop-color="#ec6e5d"/><stop offset="0.2641" stop-color="#ed7b5f"/><stop offset="0.2702" stop-color="#ed7e5f"/><stop offset="0.2778" stop-color="#ef9066"/><stop offset="0.2823" stop-color="#ef9367"/><stop offset="0.2900" stop-color="#efa16f"/><stop offset="0.3037" stop-color="#f0b179"/><stop offset="0.3250" stop-color="#f0c587"/><stop offset="0.3524" stop-color="#f0d193"/><stop offset="0.3752" stop-color="#f0cf91"/><stop offset="0.3904" stop-color="#f0c98b"/><stop offset="0.4193" stop-color="#f0b179"/><stop offset="0.4315" stop-color="#efa26f"/><stop offset="0.4589" stop-color="#ed735d"/><stop offset="0.4665" stop-color="#ea645e"/><stop offset="0.4711" stop-color="#e9605f"/><stop offset="0.4772" stop-color="#e25365"/><stop offset="0.4833" stop-color="#e15166"/><stop offset="0.4909" stop-color="#d7496e"/><stop offset="0.4970" stop-color="#db4b6c"/><stop offset="0.5046" stop-color="#d7496e"/><stop offset="0.5122" stop-color="#e05067"/><stop offset="0.5167" stop-color="#df4f68"/><stop offset="0.5244" stop-color="#e65a61"/><stop offset="0.5304" stop-color="#e75c60"/><stop offset="0.5365" stop-color="#eb675d"/><stop offset="0.5594" stop-color="#ed7c5f"/><stop offset="0.5944" stop-color="#ee8c64"/><stop offset="0.6218" stop-color="#ee8963"/><stop offset="0.6781" stop-color="#eb685d"/><stop offset="0.6842" stop-color="#e85d5f"/><stop offset="0.6903" stop-color="#e85d60"/><stop offset="0.6963" stop-color="#e15265"/><stop offset="0.7024" stop-color="#e15266"/><stop offset="0.7085" stop-color="#d94a6d"/><stop offset="0.7131" stop-color="#d94a6d"/><stop offset="0.7192" stop-color="#cd4375"/><stop offset="0.7237" stop-color="#ca4177"/><stop offset="0.7298" stop-color="#bd3d7e"/><stop offset="0.7344" stop-color="#b93b80"/><stop offset="0.7390" stop-color="#af3883"/><stop offset="0.7451" stop-color="#ab3784"/><stop offset="0.7679" stop-color="#7f2888"/><stop offset="0.7740" stop-color="#812988"/><stop offset="0.7801" stop-color="#752488"/><stop offset="0.7861" stop-color="#782688"/><stop offset="0.7922" stop-color="#601c85"/><stop offset="0.7983" stop-color="#5b1984"/><stop offset="0.8044" stop-color="#43127a"/><stop offset="0.8105" stop-color="#5a1984"/><stop offset="0.8227" stop-color="#681f87"/><stop offset="0.8349" stop-color="#561883"/><stop offset="0.8409" stop-color="#47137d"/><stop offset="0.8531" stop-color="#511681"/><stop offset="0.8577" stop-color="#4e1580"/><stop offset="0.8623" stop-color="#47137d"/><stop offset="0.8653" stop-color="#3b1274"/><stop offset="0.8683" stop-color="#29135e"/><stop offset="0.8714" stop-color="#15103b"/><stop offset="0.8744" stop-color="#07071e"/><stop offset="0.8775" stop-color="#02020b"/><stop offset="0.8790" stop-color="#02020b"/><stop offset="0.8820" stop-color="#08071f"/><stop offset="0.8851" stop-color="#16103d"/><stop offset="0.8896" stop-color="#2d1364"/><stop offset="0.8942" stop-color="#401278"/><stop offset="0.8973" stop-color="#47137d"/><stop offset="0.9049" stop-color="#4d147f"/><stop offset="0.9262" stop-color="#49137e"/><stop offset="0.9338" stop-color="#401279"/><stop offset="0.9399" stop-color="#2f1368"/><stop offset="0.9429" stop-color="#251358"/><stop offset="0.9505" stop-color="#07071d"/><stop offset="0.9536" stop-color="#000004"/><stop offset="1.0000" stop-color="#000004"/></linearGradient><linearGradient id="g26" x1="0" y1="0" x2="0" y2="1"><stop offset="0.0000" stop-color="#c33f7b"/><stop offset="0.0023" stop-color="#c23e7b"/><stop offset="0.0099" stop-color="#cc4276"/><stop offset="0.0160" stop-color="#cc4276"/><stop offset="0.0236" stop-color="#d54770"/><stop offset="0.0495" stop-color="#d94a6d"/><stop offset="0.0556" stop-color="#d54770"/><stop offset="0.0647" stop-color="#d7486f"/><stop offset="0.0708" stop-color="#d04474"/><stop offset="0.0784" stop-color="#d14572"/><stop offset="0.0830" stop-color="#ca4177"/><stop offset="0.0906" stop-color="#c94178"/><stop offset="0.1134" stop-color="#b73b80"/><stop offset="0.1286" stop-color="#b53a81"/><stop offset="0.1530" stop-color="#c94178"/><stop offset="0.1682" stop-color="#d94a6d"/><stop offset="0.1834" stop-color="#e35464"/><stop offset="0.2062" stop-color="#ea655d"/><stop offset="0.2336" stop-color="#ec6f5d"/><stop offset="0.2397" stop-color="#ec6b5d"/><stop offset="0.2458" stop-color="#ec6f5d"/><stop offset="0.2504" stop-color="#eb6a5d"/><stop offset="0.2565" stop-color="#ec6d5d"/><stop offset="0.2626" stop-color="#eb665d"/><stop offset="0.2686" stop-color="#eb665d"/><stop offset="0.2839" stop-color="#e75c60"/><stop offset="0.2915" stop-color="#e35464"/><stop offset="0.2976" stop-color="#e45663"/><stop offset="0.3037" stop-color="#dc4c6a"/><stop offset="0.3082" stop-color="#df4f68"/><stop offset="0.3143" stop-color="#d6486f"/><stop offset="0.3204" stop-color="#d8496e"/><stop offset="0.3250" stop-color="#d34671"/><stop offset="0.3311" stop-color="#db4b6c"/><stop offset="0.3356" stop-color="#d7486e"/><stop offset="0.3417" stop-color="#e05067"/><stop offset="0.3493" stop-color="#e15266"/><stop offset="0.3569" stop-color="#e85f5f"/><stop offset="0.3615" stop-color="#e9625e"/><stop offset="0.3721" stop-color="#ed735d"/><stop offset="0.4026" stop-color="#efa26f"/><stop offset="0.4269" stop-color="#efbb80"/><stop offset="0.4650" stop-color="#f0d193"/><stop offset="0.5000" stop-color="#f0d597"/><stop offset="0.5304" stop-color="#f0cd8f"/><stop offset="0.5670" stop-color="#efb87d"/><stop offset="0.5913" stop-color="#efa26f"/><stop offset="0.6248" stop-color="#ed7b5e"/><stop offset="0.6416" stop-color="#eb675d"/><stop offset="0.6583" stop-color="#e45563"/><stop offset="0.6705" stop-color="#d94a6d"/><stop offset="0.6766" stop-color="#cc4276"/><stop offset="0.6826" stop-color="#c74079"/><stop offset="0.6903" stop-color="#b63a81"/><stop offset="0.6963" stop-color="#b23983"/><stop offset="0.7024" stop-color="#a23486"/><stop offset="0.7070" stop-color="#9e3387"/><stop offset="0.7131" stop-color="#8d2d88"/><stop offset="0.7177" stop-color="#8b2c88"/><stop offset="0.7237" stop-color="#7a2688"/><stop offset="0.7298" stop-color="#772588"/><stop offset="0.7344" stop-color="#6a2087"/><stop offset="0.7527" stop-color="#4d147f"/><stop offset="0.7588" stop-color="#531682"/><stop offset="0.7648" stop-color="#44127b"/><stop offset="0.7709" stop-color="#3f1277"/><stop offset="0.7725" stop-color="#371271"/><stop offset="0.7770" stop-color="#1c1249"/><stop offset="0.7785" stop-color="#1b1247"/><stop offset="0.7831" stop-color="#221353"/><stop offset="0.7861" stop-color="#211352"/><stop offset="0.7877" stop-color="#241357"/><stop offset="0.7922" stop-color="#3d1275"/><stop offset="0.7953" stop-color="#49137e"/><stop offset="0.8059" stop-color="#4c147f"/><stop offset="0.8090" stop-color="#43127a"/><stop offset="0.8135" stop-color="#2f1367"/><stop offset="0.8166" stop-color="#2c1363"/><stop offset="0.8227" stop-color="#36126f"/><stop offset="0.8288" stop-color="#541782"/><stop offset="0.8349" stop-color="#692087"/><stop offset="0.8425" stop-color="#742488"/><stop offset="0.8592" stop-color="#641d86"/><stop offset="0.8638" stop-color="#641d86"/><stop offset="0.8775" stop-color="#702288"/><stop offset="0.8881" stop-color="#651e86"/><stop offset="0.8957" stop-color="#511681"/><stop offset="0.9049" stop-color="#391272"/><stop offset="0.9201" stop-color="#35126e"/><stop offset="0.9247" stop-color="#2f1367"/><stop offset="0.9292" stop-color="#26135a"/><stop offset="0.9323" stop-color="#1d124a"/><stop offset="0.9399" stop-color="#050518"/><stop offset="0.9429" stop-color="#000004"/><stop offset="1.0000" stop-color="#000004"/></linearGradient><linearGradient id="g27" x1="0" y1="0" x2="0" y2="1"><stop offset="0.0000" stop-color="#3f1277"/><stop offset="0.0038" stop-color="#3e1277"/><stop offset="0.0068" stop-color="#2e1366"/><stop offset="0.0084" stop-color="#2b1362"/><stop offset="0.0099" stop-color="#2f1367"/><stop offset="0.0129" stop-color="#3f1278"/><stop offset="0.0145" stop-color="#44127b"/><stop offset="0.0175" stop-color="#3c1275"/><stop offset="0.0205" stop-color="#2c1363"/><stop offset="0.0221" stop-color="#2c1364"/><stop offset="0.0251" stop-color="#3e1277"/><stop offset="0.0282" stop-color="#48137d"/><stop offset="0.0327" stop-color="#3f1277"/><stop offset="0.0342" stop-color="#411279"/><stop offset="0.0388" stop-color="#531782"/><stop offset="0.0419" stop-color="#591984"/><stop offset="0.0586" stop-color="#6a2087"/><stop offset="0.0662" stop-color="#5d1a85"/><stop offset="0.0708" stop-color="#671f87"/><stop offset="0.0723" stop-color="#661e86"/><stop offset="0.0769" stop-color="#511681"/><stop offset="0.0784" stop-color="#4e1580"/><stop offset="0.0830" stop-color="#5a1984"/><stop offset="0.0845" stop-color="#591984"/><stop offset="0.0906" stop-color="#3e1277"/><stop offset="0.0967" stop-color="#44127b"/><stop offset="0.0997" stop-color="#3b1274"/><stop offset="0.1058" stop-color="#28135d"/><stop offset="0.1134" stop-color="#29135f"/><stop offset="0.1195" stop-color="#1f134e"/><stop offset="0.1301" stop-color="#251358"/><stop offset="0.1362" stop-color="#1b1247"/><stop offset="0.1377" stop-color="#1d124a"/><stop offset="0.1408" stop-color="#28135d"/><stop offset="0.1423" stop-color="#2b1362"/><stop offset="0.1438" stop-color="#29135e"/><stop offset="0.1469" stop-color="#1b1246"/><stop offset="0.1484" stop-color="#181140"/><stop offset="0.1499" stop-color="#1c1249"/><stop offset="0.1530" stop-color="#301369"/><stop offset="0.1545" stop-color="#35126e"/><stop offset="0.1560" stop-color="#34126d"/><stop offset="0.1591" stop-color="#241356"/><stop offset="0.1606" stop-color="#211352"/><stop offset="0.1636" stop-color="#35126e"/><stop offset="0.1651" stop-color="#401278"/><stop offset="0.1667" stop-color="#45127c"/><stop offset="0.1682" stop-color="#43127a"/><stop offset="0.1712" stop-color="#33126c"/><stop offset="0.1728" stop-color="#311369"/><stop offset="0.1758" stop-color="#44127b"/><stop offset="0.1773" stop-color="#4f1580"/><stop offset="0.1788" stop-color="#521682"/><stop offset="0.1804" stop-color="#4f1581"/><stop offset="0.1834" stop-color="#3c1275"/><stop offset="0.1849" stop-color="#3a1273"/><stop offset="0.1880" stop-color="#511681"/><stop offset="0.1895" stop-color="#591984"/><stop offset="0.1910" stop-color="#5b1a84"/><stop offset="0.1956" stop-color="#42127a"/><stop offset="0.1971" stop-color="#44127b"/><stop offset="0.2002" stop-color="#5c1a84"/><stop offset="0.2017" stop-color="#631d86"/><stop offset="0.2032" stop-color="#621d86"/><stop offset="0.2078" stop-color="#4d1480"/><stop offset="0.2139" stop-color="#6a2087"/><stop offset="0.2154" stop-color="#681f87"/><stop offset="0.2199" stop-color="#561883"/><stop offset="0.2260" stop-color="#712388"/><stop offset="0.2275" stop-color="#6e2287"/><stop offset="0.2321" stop-color="#581984"/><stop offset="0.2336" stop-color="#5e1b85"/><stop offset="0.2367" stop-color="#732388"/><stop offset="0.2382" stop-color="#742488"/><stop offset="0.2397" stop-color="#6f2287"/><stop offset="0.2428" stop-color="#551782"/><stop offset="0.2443" stop-color="#531782"/><stop offset="0.2473" stop-color="#6d2187"/><stop offset="0.2489" stop-color="#752488"/><stop offset="0.2504" stop-color="#732488"/><stop offset="0.2549" stop-color="#48137d"/><stop offset="0.2565" stop-color="#521681"/><stop offset="0.2595" stop-color="#722388"/><stop offset="0.2610" stop-color="#752488"/><stop offset="0.2626" stop-color="#6d2187"/><stop offset="0.2656" stop-color="#4f1580"/><stop offset="0.2671" stop-color="#511681"/><stop offset="0.2702" stop-color="#712388"/><stop offset="0.2717" stop-color="#762588"/><stop offset="0.2732" stop-color="#732488"/><stop offset="0.2763" stop-color="#5c1a84"/><stop offset="0.2778" stop-color="#5b1984"/><stop offset="0.2808" stop-color="#702288"/><stop offset="0.2823" stop-color="#752488"/><stop offset="0.2839" stop-color="#722388"/><stop offset="0.2869" stop-color="#5a1984"/><stop offset="0.2884" stop-color="#561883"/><stop offset="0.2930" stop-color="#702288"/><stop offset="0.2945" stop-color="#6d2187"/><stop offset="0.2991" stop-color="#421279"/><stop offset="0.3006" stop-color="#47137d"/><stop offset="0.3037" stop-color="#641d86"/><stop offset="0.3052" stop-color="#681f87"/><stop offset="0.3067" stop-color="#621d86"/><stop offset="0.3097" stop-color="#46137c"/><stop offset="0.3113" stop-color="#3f1277"/><stop offset="0.3158" stop-color="#5c1a85"/><stop offset="0.3174" stop-color="#5f1b85"/><stop offset="0.3234" stop-color="#44127b"/><stop offset="0.3326" stop-color="#45127b"/><stop offset="0.3356" stop-color="#391272"/><stop offset="0.3387" stop-color="#231354"/><stop offset="0.3402" stop-color="#1e134c"/><stop offset="0.3417" stop-color="#221354"/><stop offset="0.3447" stop-color="#381271"/><stop offset="0.3463" stop-color="#3e1277"/><stop offset="0.3478" stop-color="#3d1276"/><stop offset="0.3524" stop-color="#29135f"/><stop offset="0.3539" stop-color="#2d1365"/><stop offset="0.3569" stop-color="#45127b"/><stop offset="0.3584" stop-color="#4d1580"/><stop offset="0.3600" stop-color="#501581"/><stop offset="0.3661" stop-color="#411279"/><stop offset="0.3721" stop-color="#5a1984"/><stop offset="0.3782" stop-color="#4f1580"/><stop offset="0.3798" stop-color="#501581"/><stop offset="0.3858" stop-color="#671e86"/><stop offset="0.3935" stop-color="#5f1b85"/><stop offset="0.3995" stop-color="#742488"/><stop offset="0.4011" stop-color="#732488"/><stop offset="0.4056" stop-color="#621d86"/><stop offset="0.4072" stop-color="#651e86"/><stop offset="0.4117" stop-color="#7e2888"/><stop offset="0.4132" stop-color="#7e2888"/><stop offset="0.4178" stop-color="#6a2087"/><stop offset="0.4193" stop-color="#6d2187"/><stop offset="0.4224" stop-color="#832a88"/><stop offset="0.4239" stop-color="#892c88"/><stop offset="0.4254" stop-color="#892c88"/><stop offset="0.4300" stop-color="#762588"/><stop offset="0.4315" stop-color="#782688"/><stop offset="0.4361" stop-color="#932f88"/><stop offset="0.4376" stop-color="#932f88"/><stop offset="0.4422" stop-color="#802888"/><stop offset="0.4437" stop-color="#822988"/><stop offset="0.4482" stop-color="#9b3287"/><stop offset="0.4543" stop-color="#892c88"/><stop offset="0.4589" stop-color="#9f3386"/><stop offset="0.4604" stop-color="#a03386"/><stop offset="0.4650" stop-color="#8e2d88"/><stop offset="0.4696" stop-color="#a43486"/><stop offset="0.4711" stop-color="#a53585"/><stop offset="0.4756" stop-color="#8c2d88"/><stop offset="0.4772" stop-color="#8e2d88"/><stop offset="0.4802" stop-color="#a43586"/><stop offset="0.4817" stop-color="#a93685"/><stop offset="0.4833" stop-color="#a63585"/><stop offset="0.4863" stop-color="#902e88"/><stop offset="0.4878" stop-color="#892c88"/><stop offset="0.4924" stop-color="#a53586"/><stop offset="0.4939" stop-color="#a73585"/><stop offset="0.4954" stop-color="#a23486"/><stop offset="0.4985" stop-color="#8e2e88"/><stop offset="0.5000" stop-color="#8d2d88"/><stop offset="0.5046" stop-color="#9f3386"/><stop offset="0.5107" stop-color="#8d2d88"/><stop offset="0.5152" stop-color="#973087"/><stop offset="0.5213" stop-color="#852a88"/><stop offset="0.5259" stop-color="#902e88"/><stop offset="0.5274" stop-color="#8f2e88"/><stop offset="0.5320" stop-color="#7e2888"/><stop offset="0.5381" stop-color="#8c2d88"/><stop offset="0.5441" stop-color="#7d2888"/><stop offset="0.5502" stop-color="#872b88"/><stop offset="0.5533" stop-color="#852a88"/><stop offset="0.5578" stop-color="#772588"/><stop offset="0.5654" stop-color="#802988"/><stop offset="0.5700" stop-color="#6e2287"/><stop offset="0.5715" stop-color="#6c2187"/><stop offset="0.5761" stop-color="#7d2788"/><stop offset="0.5776" stop-color="#7d2888"/><stop offset="0.5822" stop-color="#691f87"/><stop offset="0.5837" stop-color="#671f87"/><stop offset="0.5883" stop-color="#7d2788"/><stop offset="0.5898" stop-color="#7d2788"/><stop offset="0.5913" stop-color="#782688"/><stop offset="0.5944" stop-color="#641e86"/><stop offset="0.5959" stop-color="#631d86"/><stop offset="0.6005" stop-color="#7a2688"/><stop offset="0.6020" stop-color="#7a2688"/><stop offset="0.6035" stop-color="#712388"/><stop offset="0.6065" stop-color="#571883"/><stop offset="0.6081" stop-color="#551783"/><stop offset="0.6111" stop-color="#6d2187"/><stop offset="0.6126" stop-color="#732488"/><stop offset="0.6142" stop-color="#722388"/><stop offset="0.6157" stop-color="#671e86"/><stop offset="0.6187" stop-color="#47137c"/><stop offset="0.6202" stop-color="#4a137e"/><stop offset="0.6233" stop-color="#691f87"/><stop offset="0.6248" stop-color="#712388"/><stop offset="0.6263" stop-color="#6f2288"/><stop offset="0.6309" stop-color="#4a137e"/><stop offset="0.6324" stop-color="#4d1580"/><stop offset="0.6355" stop-color="#6c2187"/><stop offset="0.6370" stop-color="#742488"/><stop offset="0.6385" stop-color="#732488"/><stop offset="0.6400" stop-color="#6a2087"/><stop offset="0.6431" stop-color="#501581"/><stop offset="0.6446" stop-color="#521681"/><stop offset="0.6476" stop-color="#6e2187"/><stop offset="0.6492" stop-color="#752488"/><stop offset="0.6507" stop-color="#742488"/><stop offset="0.6522" stop-color="#6b2087"/><stop offset="0.6553" stop-color="#4f1580"/><stop offset="0.6568" stop-color="#521681"/><stop offset="0.6598" stop-color="#6d2187"/><stop offset="0.6613" stop-color="#742488"/><stop offset="0.6629" stop-color="#732388"/><stop offset="0.6674" stop-color="#581883"/><stop offset="0.6689" stop-color="#5b1a84"/><stop offset="0.6720" stop-color="#6e2187"/><stop offset="0.6735" stop-color="#722388"/><stop offset="0.6750" stop-color="#712388"/><stop offset="0.6796" stop-color="#621d86"/><stop offset="0.6872" stop-color="#671f87"/><stop offset="0.6948" stop-color="#551783"/><stop offset="0.7009" stop-color="#541782"/><stop offset="0.7070" stop-color="#3f1277"/><stop offset="0.7116" stop-color="#3f1278"/><stop offset="0.7146" stop-color="#391272"/><stop offset="0.7192" stop-color="#29135e"/><stop offset="0.7237" stop-color="#261359"/><stop offset="0.7283" stop-color="#17103e"/><stop offset="0.7344" stop-color="#16103d"/><stop offset="0.7390" stop-color="#090822"/><stop offset="0.7451" stop-color="#090821"/><stop offset="0.7496" stop-color="#000004"/><stop offset="0.7740" stop-color="#000004"/><stop offset="0.7785" stop-color="#050517"/><stop offset="0.7816" stop-color="#06061b"/><stop offset="0.7922" stop-color="#000004"/><stop offset="0.7998" stop-color="#000004"/><stop offset="0.8014" stop-color="#000004"/><stop offset="0.8029" stop-color="#02020c"/><stop offset="0.8090" stop-color="#130f36"/><stop offset="0.8135" stop-color="#201351"/><stop offset="0.8181" stop-color="#29135f"/><stop offset="0.8242" stop-color="#26135b"/><stop offset="0.8333" stop-color="#16103d"/><stop offset="0.8364" stop-color="#15103b"/><stop offset="0.8409" stop-color="#1f134d"/><stop offset="0.8455" stop-color="#34126d"/><stop offset="0.8501" stop-color="#4b147f"/><stop offset="0.8562" stop-color="#601c85"/><stop offset="0.8653" stop-color="#712388"/><stop offset="0.8896" stop-color="#792688"/><stop offset="0.9003" stop-color="#742488"/><stop offset="0.9079" stop-color="#681f87"/><stop offset="0.9155" stop-color="#541782"/><stop offset="0.9216" stop-color="#3b1274"/><stop offset="0.9231" stop-color="#33126c"/><stop offset="0.9277" stop-color="#1b1247"/><stop offset="0.9323" stop-color="#07061c"/><stop offset="0.9353" stop-color="#000004"/><stop offset="1.0000" stop-color="#000004"/></linearGradient><linearGradient id="g28" x1="0" y1="0" x2="0" y2="1"><stop offset="0.0000" stop-color="#000004"/><stop offset="0.1697" stop-color="#000004"/><stop offset="0.1788" stop-color="#01010a"/><stop offset="0.1849" stop-color="#050516"/><stop offset="0.1910" stop-color="#050519"/><stop offset="0.1971" stop-color="#0b0926"/><stop offset="0.2017" stop-color="#0a0924"/><stop offset="0.2078" stop-color="#100d30"/><stop offset="0.2139" stop-color="#0f0c2f"/><stop offset="0.2199" stop-color="#140f38"/><stop offset="0.2260" stop-color="#120e34"/><stop offset="0.2321" stop-color="#16103d"/><stop offset="0.2382" stop-color="#130f36"/><stop offset="0.2443" stop-color="#16103d"/><stop offset="0.2489" stop-color="#130e36"/><stop offset="0.2565" stop-color="#140f39"/><stop offset="0.2610" stop-color="#100d30"/><stop offset="0.2671" stop-color="#110e33"/><stop offset="0.2732" stop-color="#0c0a28"/><stop offset="0.2763" stop-color="#0d0b2a"/><stop offset="0.2823" stop-color="#080820"/><stop offset="0.2884" stop-color="#07071e"/><stop offset="0.2945" stop-color="#02020e"/><stop offset="0.2991" stop-color="#030312"/><stop offset="0.3037" stop-color="#000004"/><stop offset="0.3463" stop-color="#000004"/><stop offset="0.3524" stop-color="#040414"/><stop offset="0.3584" stop-color="#07061c"/><stop offset="0.3645" stop-color="#0f0c2f"/><stop offset="0.3721" stop-color="#16103d"/><stop offset="0.3767" stop-color="#1d124a"/><stop offset="0.3904" stop-color="#2f1367"/><stop offset="0.4041" stop-color="#3f1278"/><stop offset="0.4406" stop-color="#5c1a84"/><stop offset="0.4650" stop-color="#651e86"/><stop offset="0.4878" stop-color="#681f87"/><stop offset="0.5107" stop-color="#671f86"/><stop offset="0.5411" stop-color="#5e1b85"/><stop offset="0.5731" stop-color="#4c147f"/><stop offset="0.5944" stop-color="#3c1275"/><stop offset="0.6202" stop-color="#231354"/><stop offset="0.6279" stop-color="#1a1244"/><stop offset="0.6324" stop-color="#181141"/><stop offset="0.6400" stop-color="#100d2f"/><stop offset="0.6446" stop-color="#0e0c2c"/><stop offset="0.6507" stop-color="#07061c"/><stop offset="0.6568" stop-color="#050518"/><stop offset="0.6644" stop-color="#010106"/><stop offset="0.6705" stop-color="#000004"/><stop offset="1.0000" stop-color="#000004"/></linearGradient><linearGradient id="cb" x1="0" y1="0" x2="1" y2="0"><stop offset="0.0000" stop-color="#f2ffc1"/><stop offset="0.0084" stop-color="#f2ffc1"/><stop offset="0.0168" stop-color="#f2ffc1"/><stop offset="0.0252" stop-color="#f2ffc1"/><stop offset="0.0336" stop-color="#f2ffc1"/><stop offset="0.0420" stop-color="#f2ffc1"/><stop offset="0.0504" stop-color="#f2ffc1"/><stop offset="0.0588" stop-color="#f2ffc1"/><stop offset="0.0672" stop-color="#f2ffc1"/><stop offset="0.0756" stop-color="#f2ffc1"/><stop offset="0.0840" stop-color="#f2ffc1"/><stop offset="0.0924" stop-color="#f2ffc1"/><stop offset="0.1008" stop-color="#f2ffc1"/><stop offset="0.1092" stop-color="#f2ffc1"/><stop offset="0.1176" stop-color="#f2ffc1"/><stop offset="0.1261" stop-color="#f2ffc1"/><stop offset="0.1345" stop-color="#f2ffc1"/><stop offset="0.1429" stop-color="#f2ffc1"/><stop offset="0.1513" stop-color="#f2ffc1"/><stop offset="0.1597" stop-color="#f2ffc1"/><stop offset="0.1681" stop-color="#f2ffc1"/><stop offset="0.1765" stop-color="#f2ffc1"/><stop offset="0.1849" stop-color="#f2ffc1"/><stop offset="0.1933" stop-color="#f2ffc1"/><stop offset="0.2017" stop-color="#f2ffc1"/><stop offset="0.2101" stop-color="#f2ffc1"/><stop offset="0.2185" stop-color="#f1f9bb"/><stop offset="0.2269" stop-color="#f1f1b3"/><stop offset="0.2353" stop-color="#f1e9aa"/><stop offset="0.2437" stop-color="#f1e3a4"/><stop offset="0.2521" stop-color="#f1db9d"/><stop offset="0.2605" stop-color="#f0d395"/><stop offset="0.2689" stop-color="#f0cd8f"/><stop offset="0.2773" stop-color="#f0c588"/><stop offset="0.2857" stop-color="#efbe81"/><stop offset="0.2941" stop-color="#efb87d"/><stop offset="0.3025" stop-color="#f0b078"/><stop offset="0.3109" stop-color="#f0a873"/><stop offset="0.3193" stop-color="#efa26f"/><stop offset="0.3277" stop-color="#ef9a6b"/><stop offset="0.3361" stop-color="#ef9267"/><stop offset="0.3445" stop-color="#ef8c64"/><stop offset="0.3529" stop-color="#ee8461"/><stop offset="0.3613" stop-color="#ed7c5f"/><stop offset="0.3697" stop-color="#ed775e"/><stop offset="0.3782" stop-color="#ec705d"/><stop offset="0.3866" stop-color="#eb6a5d"/><stop offset="0.3950" stop-color="#ea655d"/><stop offset="0.4034" stop-color="#e85f5f"/><stop offset="0.4118" stop-color="#e65961"/><stop offset="0.4202" stop-color="#e45564"/><stop offset="0.4286" stop-color="#e05067"/><stop offset="0.4370" stop-color="#dc4c6b"/><stop offset="0.4454" stop-color="#d9496d"/><stop offset="0.4538" stop-color="#d34671"/><stop offset="0.4622" stop-color="#cd4375"/><stop offset="0.4706" stop-color="#c94178"/><stop offset="0.4790" stop-color="#c33f7b"/><stop offset="0.4874" stop-color="#bd3d7e"/><stop offset="0.4958" stop-color="#b83b80"/><stop offset="0.5042" stop-color="#b23983"/><stop offset="0.5126" stop-color="#ac3784"/><stop offset="0.5210" stop-color="#a73685"/><stop offset="0.5294" stop-color="#a03386"/><stop offset="0.5378" stop-color="#9a3187"/><stop offset="0.5462" stop-color="#953088"/><stop offset="0.5546" stop-color="#8f2e88"/><stop offset="0.5630" stop-color="#892c88"/><stop offset="0.5714" stop-color="#842a88"/><stop offset="0.5798" stop-color="#7e2888"/><stop offset="0.5882" stop-color="#772588"/><stop offset="0.5966" stop-color="#732488"/><stop offset="0.6050" stop-color="#6d2187"/><stop offset="0.6134" stop-color="#671f87"/><stop offset="0.6218" stop-color="#621d86"/><stop offset="0.6303" stop-color="#5c1a85"/><stop offset="0.6387" stop-color="#561883"/><stop offset="0.6471" stop-color="#511681"/><stop offset="0.6555" stop-color="#4b147f"/><stop offset="0.6639" stop-color="#44127b"/><stop offset="0.6723" stop-color="#3f1278"/><stop offset="0.6807" stop-color="#391272"/><stop offset="0.6891" stop-color="#32126b"/><stop offset="0.6975" stop-color="#2d1364"/><stop offset="0.7059" stop-color="#26135b"/><stop offset="0.7143" stop-color="#201351"/><stop offset="0.7227" stop-color="#1c1249"/><stop offset="0.7311" stop-color="#17113f"/><stop offset="0.7395" stop-color="#130e36"/><stop offset="0.7479" stop-color="#0f0c2f"/><stop offset="0.7563" stop-color="#0b0926"/><stop offset="0.7647" stop-color="#07071d"/><stop offset="0.7731" stop-color="#050516"/><stop offset="0.7815" stop-color="#02020e"/><stop offset="0.7899" stop-color="#010106"/><stop offset="0.7983" stop-color="#000004"/><stop offset="0.8067" stop-color="#000004"/><stop offset="0.8151" stop-color="#000004"/><stop offset="0.8235" stop-color="#000004"/><stop offset="0.8319" stop-color="#000004"/><stop offset="0.8403" stop-color="#000004"/><stop offset="0.8487" stop-color="#000004"/><stop offset="0.8571" stop-color="#000004"/><stop offset="0.8655" stop-color="#000004"/><stop offset="0.8739" stop-color="#000004"/><stop offset="0.8824" stop-color="#000004"/><stop offset="0.8908" stop-color="#000004"/><stop offset="0.8992" stop-color="#000004"/><stop offset="0.9076" stop-color="#000004"/><stop offset="0.9160" stop-color="#000004"/><stop offset="0.9244" stop-color="#000004"/><stop offset="0.9328" stop-color="#000004"/><stop offset="0.9412" stop-color="#000004"/><stop offset="0.9496" stop-color="#000004"/><stop offset="0.9580" stop-color="#000004"/><stop offset="0.9664" stop-color="#000004"/><stop offset="0.9748" stop-color="#000004"/><stop offset="0.9832" stop-color="#000004"/><stop offset="0.9916" stop-color="#000004"/><stop offset="1.0000" stop-color="#000004"/></linearGradient></defs>
<rect width="685" height="565" fill="#fff"/>
<rect x="76.45" y="100.4" width="129.85" height="328.60" fill="#000003"/>
<rect x="76.45" y="100.4" width="33.46" height="328.60" fill="url(#g1)"/>
<rect x="108.91" y="100.4" width="33.46" height="328.60" fill="url(#g2)"/>
<rect x="141.38" y="100.4" width="33.46" height="328.60" fill="url(#g3)"/>
<rect x="173.84" y="100.4" width="32.46" height="328.60" fill="url(#g4)"/>
<rect x="212.55" y="100.4" width="129.80" height="328.60" fill="#000003"/>
<rect x="212.55" y="100.4" width="33.45" height="328.60" fill="url(#g5)"/>
<rect x="245.00" y="100.4" width="33.45" height="328.60" fill="url(#g6)"/>
<rect x="277.45" y="100.4" width="33.45" height="328.60" fill="url(#g7)"/>
<rect x="383.5" y="100.4" width="129.80" height="328.60" fill="#000003"/>
<rect x="383.50" y="100.4" width="7.49" height="328.60" fill="url(#g8)"/>
<rect x="389.99" y="100.4" width="7.49" height="328.60" fill="url(#g9)"/>
<rect x="396.48" y="100.4" width="7.49" height="328.60" fill="url(#g10)"/>
<rect x="402.97" y="100.4" width="7.49" height="328.60" fill="url(#g11)"/>
<rect x="409.46" y="100.4" width="7.49" height="328.60" fill="url(#g12)"/>
<rect x="415.95" y="100.4" width="7.49" height="328.60" fill="url(#g13)"/>
<rect x="422.44" y="100.4" width="7.49" height="328.60" fill="url(#g14)"/>
<rect x="428.93" y="100.4" width="7.49" height="328.60" fill="url(#g15)"/>
<rect x="435.42" y="100.4" width="7.49" height="328.60" fill="url(#g16)"/>
<rect x="441.91" y="100.4" width="7.49" height="328.60" fill="url(#g17)"/>
<rect x="448.40" y="100.4" width="7.49" height="328.60" fill="url(#g18)"/>
<rect x="519.45" y="100.4" width="129.65" height="328.60" fill="#000003"/>
<rect x="519.45" y="100.4" width="7.48" height="328.60" fill="url(#g19)"/>
<rect x="525.93" y="100.4" width="7.48" height="328.60" fill="url(#g20)"/>
<rect x="532.42" y="100.4" width="7.48" height="328.60" fill="url(#g21)"/>
<rect x="538.90" y="100.4" width="7.48" height="328.60" fill="url(#g22)"/>
<rect x="545.38" y="100.4" width="7.48" height="328.60" fill="url(#g23)"/>
<rect x="551.86" y="100.4" width="7.48" height="328.60" fill="url(#g24)"/>
<rect x="558.35" y="100.4" width="7.48" height="328.60" fill="url(#g25)"/>
<rect x="564.83" y="100.4" width="7.48" height="328.60" fill="url(#g26)"/>
<rect x="571.31" y="100.4" width="7.48" height="328.60" fill="url(#g27)"/>
<rect x="577.79" y="100.4" width="7.48" height="328.60" fill="url(#g28)"/>
<rect x="76.45" y="100.4" width="129.85" height="328.60" fill="none" stroke="#111" stroke-width="1.15"/>
<rect x="212.55" y="100.4" width="129.80" height="328.60" fill="none" stroke="#111" stroke-width="1.15"/>
<rect x="383.5" y="100.4" width="129.80" height="328.60" fill="none" stroke="#111" stroke-width="1.15"/>
<rect x="519.45" y="100.4" width="129.65" height="328.60" fill="none" stroke="#111" stroke-width="1.15"/>
<line x1="70.8" y1="429.00" x2="76.45" y2="429.00" stroke="#111" stroke-width="1.1"/>
<text x="51.47" y="439.30" font-family="Liberation Serif" font-size="30.5">0</text>
<line x1="70.8" y1="363.28" x2="76.45" y2="363.28" stroke="#111" stroke-width="1.1"/>
<text x="36.22" y="373.58" font-family="Liberation Serif" font-size="30.5">10</text>
<line x1="70.8" y1="297.56" x2="76.45" y2="297.56" stroke="#111" stroke-width="1.1"/>
<text x="36.22" y="307.86" font-family="Liberation Serif" font-size="30.5">20</text>
<line x1="70.8" y1="231.84" x2="76.45" y2="231.84" stroke="#111" stroke-width="1.1"/>
<text x="36.22" y="242.14" font-family="Liberation Serif" font-size="30.5">30</text>
<line x1="70.8" y1="166.12" x2="76.45" y2="166.12" stroke="#111" stroke-width="1.1"/>
<text x="36.22" y="176.42" font-family="Liberation Serif" font-size="30.5">40</text>
<line x1="70.8" y1="100.40" x2="76.45" y2="100.40" stroke="#111" stroke-width="1.1"/>
<text x="36.22" y="110.70" font-family="Liberation Serif" font-size="30.5">50</text>
<line x1="92.68" y1="429.0" x2="92.68" y2="434.70" stroke="#111" stroke-width="1.1"/>
<line x1="125.14" y1="429.0" x2="125.14" y2="434.70" stroke="#111" stroke-width="1.1"/>
<line x1="157.61" y1="429.0" x2="157.61" y2="434.70" stroke="#111" stroke-width="1.1"/>
<line x1="190.07" y1="429.0" x2="190.07" y2="434.70" stroke="#111" stroke-width="1.1"/>
<text x="84.35" y="464.00" font-family="Liberation Serif" font-size="30.5">1</text>
<text x="149.58" y="464.00" font-family="Liberation Serif" font-size="30.5">3</text>
<text x="105.99" y="488.60" font-family="Liberation Serif" font-size="29.5" letter-spacing="2.0">site</text>
<text x="166.66" y="488.50" font-family="Liberation Serif" font-size="31.5" font-style="italic">j</text>
<line x1="228.78" y1="429.0" x2="228.78" y2="434.70" stroke="#111" stroke-width="1.1"/>
<line x1="261.23" y1="429.0" x2="261.23" y2="434.70" stroke="#111" stroke-width="1.1"/>
<line x1="293.68" y1="429.0" x2="293.68" y2="434.70" stroke="#111" stroke-width="1.1"/>
<line x1="326.12" y1="429.0" x2="326.12" y2="434.70" stroke="#111" stroke-width="1.1"/>
<text x="220.44" y="464.00" font-family="Liberation Serif" font-size="30.5">1</text>
<text x="285.65" y="464.00" font-family="Liberation Serif" font-size="30.5">3</text>
<text x="242.07" y="488.60" font-family="Liberation Serif" font-size="29.5" letter-spacing="2.0">site</text>
<text x="302.74" y="488.50" font-family="Liberation Serif" font-size="31.5" font-style="italic">j</text>
<line x1="386.75" y1="429.0" x2="386.75" y2="434.70" stroke="#111" stroke-width="1.1"/>
<line x1="393.24" y1="429.0" x2="393.24" y2="434.70" stroke="#111" stroke-width="1.1"/>
<line x1="399.73" y1="429.0" x2="399.73" y2="434.70" stroke="#111" stroke-width="1.1"/>
<line x1="406.21" y1="429.0" x2="406.21" y2="434.70" stroke="#111" stroke-width="1.1"/>
<line x1="412.70" y1="429.0" x2="412.70" y2="434.70" stroke="#111" stroke-width="1.1"/>
<line x1="419.19" y1="429.0" x2="419.19" y2="434.70" stroke="#111" stroke-width="1.1"/>
<line x1="425.69" y1="429.0" x2="425.69" y2="434.70" stroke="#111" stroke-width="1.1"/>
<line x1="432.17" y1="429.0" x2="432.17" y2="434.70" stroke="#111" stroke-width="1.1"/>
<line x1="438.66" y1="429.0" x2="438.66" y2="434.70" stroke="#111" stroke-width="1.1"/>
<line x1="445.15" y1="429.0" x2="445.15" y2="434.70" stroke="#111" stroke-width="1.1"/>
<line x1="451.64" y1="429.0" x2="451.64" y2="434.70" stroke="#111" stroke-width="1.1"/>
<line x1="458.13" y1="429.0" x2="458.13" y2="434.70" stroke="#111" stroke-width="1.1"/>
<line x1="464.62" y1="429.0" x2="464.62" y2="434.70" stroke="#111" stroke-width="1.1"/>
<line x1="471.11" y1="429.0" x2="471.11" y2="434.70" stroke="#111" stroke-width="1.1"/>
<line x1="477.60" y1="429.0" x2="477.60" y2="434.70" stroke="#111" stroke-width="1.1"/>
<line x1="484.09" y1="429.0" x2="484.09" y2="434.70" stroke="#111" stroke-width="1.1"/>
<line x1="490.58" y1="429.0" x2="490.58" y2="434.70" stroke="#111" stroke-width="1.1"/>
<line x1="497.07" y1="429.0" x2="497.07" y2="434.70" stroke="#111" stroke-width="1.1"/>
<line x1="503.56" y1="429.0" x2="503.56" y2="434.70" stroke="#111" stroke-width="1.1"/>
<line x1="510.05" y1="429.0" x2="510.05" y2="434.70" stroke="#111" stroke-width="1.1"/>
<text x="378.41" y="464.00" font-family="Liberation Serif" font-size="30.5">1</text>
<text x="411.07" y="464.00" font-family="Liberation Serif" font-size="30.5">6</text>
<text x="436.25" y="464.00" font-family="Liberation Serif" font-size="30.5">11</text>
<text x="467.68" y="464.00" font-family="Liberation Serif" font-size="30.5">16</text>
<text x="413.02" y="488.60" font-family="Liberation Serif" font-size="29.5" letter-spacing="2.0">site</text>
<text x="473.69" y="488.50" font-family="Liberation Serif" font-size="31.5" font-style="italic">j</text>
<line x1="522.69" y1="429.0" x2="522.69" y2="434.70" stroke="#111" stroke-width="1.1"/>
<line x1="529.17" y1="429.0" x2="529.17" y2="434.70" stroke="#111" stroke-width="1.1"/>
<line x1="535.66" y1="429.0" x2="535.66" y2="434.70" stroke="#111" stroke-width="1.1"/>
<line x1="542.14" y1="429.0" x2="542.14" y2="434.70" stroke="#111" stroke-width="1.1"/>
<line x1="548.62" y1="429.0" x2="548.62" y2="434.70" stroke="#111" stroke-width="1.1"/>
<line x1="555.10" y1="429.0" x2="555.10" y2="434.70" stroke="#111" stroke-width="1.1"/>
<line x1="561.59" y1="429.0" x2="561.59" y2="434.70" stroke="#111" stroke-width="1.1"/>
<line x1="568.07" y1="429.0" x2="568.07" y2="434.70" stroke="#111" stroke-width="1.1"/>
<line x1="574.55" y1="429.0" x2="574.55" y2="434.70" stroke="#111" stroke-width="1.1"/>
<line x1="581.03" y1="429.0" x2="581.03" y2="434.70" stroke="#111" stroke-width="1.1"/>
<line x1="587.52" y1="429.0" x2="587.52" y2="434.70" stroke="#111" stroke-width="1.1"/>
<line x1="594.00" y1="429.0" x2="594.00" y2="434.70" stroke="#111" stroke-width="1.1"/>
<line x1="600.48" y1="429.0" x2="600.48" y2="434.70" stroke="#111" stroke-width="1.1"/>
<line x1="606.96" y1="429.0" x2="606.96" y2="434.70" stroke="#111" stroke-width="1.1"/>
<line x1="613.45" y1="429.0" x2="613.45" y2="434.70" stroke="#111" stroke-width="1.1"/>
<line x1="619.93" y1="429.0" x2="619.93" y2="434.70" stroke="#111" stroke-width="1.1"/>
<line x1="626.41" y1="429.0" x2="626.41" y2="434.70" stroke="#111" stroke-width="1.1"/>
<line x1="632.89" y1="429.0" x2="632.89" y2="434.70" stroke="#111" stroke-width="1.1"/>
<line x1="639.38" y1="429.0" x2="639.38" y2="434.70" stroke="#111" stroke-width="1.1"/>
<line x1="645.86" y1="429.0" x2="645.86" y2="434.70" stroke="#111" stroke-width="1.1"/>
<text x="514.36" y="464.00" font-family="Liberation Serif" font-size="30.5">1</text>
<text x="546.98" y="464.00" font-family="Liberation Serif" font-size="30.5">6</text>
<text x="572.12" y="464.00" font-family="Liberation Serif" font-size="30.5">11</text>
<text x="603.51" y="464.00" font-family="Liberation Serif" font-size="30.5">16</text>
<text x="548.90" y="488.60" font-family="Liberation Serif" font-size="29.5" letter-spacing="2.0">site</text>
<text x="609.57" y="488.50" font-family="Liberation Serif" font-size="31.5" font-style="italic">j</text>
<text x="73.82" y="24.90" font-family="Liberation Serif" font-size="33">(a)</text>
<text x="379.67" y="24.90" font-family="Liberation Serif" font-size="33">(b)</text>
<text transform="translate(24,263.2) rotate(-90)" text-anchor="middle" font-family="Liberation Serif" font-size="33" letter-spacing="2.5"><tspan font-style="italic">t</tspan>(1/<tspan font-style="italic">J</tspan>)</text>
<path d="M76.40,88.80 L108.20,88.80 L108.20,44.70 L172.30,88.80 L206.00,88.80" stroke="#505050" stroke-width="1.65" fill="none" stroke-linejoin="miter"/>
<circle cx="157.6" cy="77.8" r="3.9" fill="#fff" stroke="#505050" stroke-width="1.7"/>
<line x1="86.4" y1="68.6" x2="96.4" y2="68.6" stroke="#505050" stroke-width="0.9"/>
<path d="M102.2,68.6 L95.0,65.69999999999999 L96.60000000000001,68.6 L95.0,71.5 Z" fill="#505050"/>
<path d="M212.80,88.80 L244.60,88.80 L309.40,44.70 L309.40,88.80 L342.40,88.80" stroke="#505050" stroke-width="1.65" fill="none" stroke-linejoin="miter"/>
<circle cx="260.9" cy="77.7" r="3.9" fill="#fff" stroke="#505050" stroke-width="1.7"/>
<line x1="222.4" y1="68.6" x2="232.4" y2="68.6" stroke="#505050" stroke-width="0.9"/>
<path d="M238.20000000000002,68.6 L231.0,65.69999999999999 L232.6,68.6 L231.0,71.5 Z" fill="#505050"/>
<path d="M383.90,88.80 L442.90,88.80 L442.90,44.70 L455.30,88.80 L512.30,88.80" stroke="#505050" stroke-width="1.65" fill="none" stroke-linejoin="miter"/>
<circle cx="452.5" cy="77.6" r="3.9" fill="#fff" stroke="#505050" stroke-width="1.7"/>
<line x1="391.6" y1="68.6" x2="401.6" y2="68.6" stroke="#505050" stroke-width="0.9"/>
<path d="M407.40000000000003,68.6 L400.20000000000005,65.69999999999999 L401.8,68.6 L400.20000000000005,71.5 Z" fill="#505050"/>
<path d="M519.20,88.80 L578.90,88.80 L591.40,44.70 L591.40,88.80 L647.30,88.80" stroke="#505050" stroke-width="1.65" fill="none" stroke-linejoin="miter"/>
<circle cx="582.1" cy="77.9" r="3.9" fill="#fff" stroke="#505050" stroke-width="1.7"/>
<line x1="526.6" y1="68.6" x2="536.6" y2="68.6" stroke="#505050" stroke-width="0.9"/>
<path d="M542.4,68.6 L535.2,65.69999999999999 L536.8000000000001,68.6 L535.2,71.5 Z" fill="#505050"/>
<rect x="77.2" y="506.0" width="576.30" height="16.20" fill="url(#cb)" stroke="#111" stroke-width="1.1"/>
<line x1="129.60" y1="522.2" x2="129.60" y2="527.50" stroke="#111" stroke-width="1.1"/>
<line x1="304.20" y1="522.2" x2="304.20" y2="527.50" stroke="#111" stroke-width="1.1"/>
<line x1="478.80" y1="522.2" x2="478.80" y2="527.50" stroke="#111" stroke-width="1.1"/>
<line x1="653.40" y1="522.2" x2="653.40" y2="527.50" stroke="#111" stroke-width="1.1"/>
<line x1="251.64" y1="522.2" x2="251.64" y2="525.40" stroke="#111" stroke-width="0.9"/>
<line x1="220.89" y1="522.2" x2="220.89" y2="525.40" stroke="#111" stroke-width="0.9"/>
<line x1="199.08" y1="522.2" x2="199.08" y2="525.40" stroke="#111" stroke-width="0.9"/>
<line x1="182.16" y1="522.2" x2="182.16" y2="525.40" stroke="#111" stroke-width="0.9"/>
<line x1="168.33" y1="522.2" x2="168.33" y2="525.40" stroke="#111" stroke-width="0.9"/>
<line x1="156.65" y1="522.2" x2="156.65" y2="525.40" stroke="#111" stroke-width="0.9"/>
<line x1="146.52" y1="522.2" x2="146.52" y2="525.40" stroke="#111" stroke-width="0.9"/>
<line x1="137.59" y1="522.2" x2="137.59" y2="525.40" stroke="#111" stroke-width="0.9"/>
<line x1="426.24" y1="522.2" x2="426.24" y2="525.40" stroke="#111" stroke-width="0.9"/>
<line x1="395.49" y1="522.2" x2="395.49" y2="525.40" stroke="#111" stroke-width="0.9"/>
<line x1="373.68" y1="522.2" x2="373.68" y2="525.40" stroke="#111" stroke-width="0.9"/>
<line x1="356.76" y1="522.2" x2="356.76" y2="525.40" stroke="#111" stroke-width="0.9"/>
<line x1="342.93" y1="522.2" x2="342.93" y2="525.40" stroke="#111" stroke-width="0.9"/>
<line x1="331.25" y1="522.2" x2="331.25" y2="525.40" stroke="#111" stroke-width="0.9"/>
<line x1="321.12" y1="522.2" x2="321.12" y2="525.40" stroke="#111" stroke-width="0.9"/>
<line x1="312.19" y1="522.2" x2="312.19" y2="525.40" stroke="#111" stroke-width="0.9"/>
<line x1="600.84" y1="522.2" x2="600.84" y2="525.40" stroke="#111" stroke-width="0.9"/>
<line x1="570.09" y1="522.2" x2="570.09" y2="525.40" stroke="#111" stroke-width="0.9"/>
<line x1="548.28" y1="522.2" x2="548.28" y2="525.40" stroke="#111" stroke-width="0.9"/>
<line x1="531.36" y1="522.2" x2="531.36" y2="525.40" stroke="#111" stroke-width="0.9"/>
<line x1="517.53" y1="522.2" x2="517.53" y2="525.40" stroke="#111" stroke-width="0.9"/>
<line x1="505.85" y1="522.2" x2="505.85" y2="525.40" stroke="#111" stroke-width="0.9"/>
<line x1="495.72" y1="522.2" x2="495.72" y2="525.40" stroke="#111" stroke-width="0.9"/>
<line x1="486.79" y1="522.2" x2="486.79" y2="525.40" stroke="#111" stroke-width="0.9"/>
<text x="107.11" y="562.80" font-family="Liberation Serif" font-size="31.5">10</text>
<text x="139.23" y="551.60" font-family="Liberation Serif" font-size="21.7">0</text>
<text x="271.51" y="562.80" font-family="Liberation Serif" font-size="31.5">10</text>
<line x1="306.00" y1="545.8" x2="320.60" y2="545.8" stroke="#000" stroke-width="1.35"/>
<text x="323.79" y="551.60" font-family="Liberation Serif" font-size="21.7">1</text>
<text x="446.01" y="562.80" font-family="Liberation Serif" font-size="31.5">10</text>
<line x1="480.30" y1="545.8" x2="494.90" y2="545.8" stroke="#000" stroke-width="1.35"/>
<text x="498.72" y="551.60" font-family="Liberation Serif" font-size="21.7">2</text>
<text x="619.81" y="562.80" font-family="Liberation Serif" font-size="31.5">10</text>
<line x1="654.30" y1="545.8" x2="669.10" y2="545.8" stroke="#000" stroke-width="1.35"/>
<text x="672.30" y="551.60" font-family="Liberation Serif" font-size="21.7">3</text>
<path d="M22.6,498.6 L16.0,513.7 L22.6,528.8" stroke="#111" stroke-width="1.25" fill="none"/>
<path d="M57.4,498.6 L64.0,513.7 L57.4,528.8" stroke="#111" stroke-width="1.25" fill="none"/>
<g transform="translate(32.1,0) scale(1.28,1) translate(-32.1,0)"><text x="26.06" y="521.30" font-family="Liberation Serif" font-size="24.5" font-style="italic">n</text></g>
<path d="M30.2,507.6 L33.9,502.6 L37.6,507.6" stroke="#111" stroke-width="1.25" fill="none"/>
<text x="45.59" y="525.40" font-family="Liberation Serif" font-size="22" font-style="italic">j</text>
</svg></body></html>
